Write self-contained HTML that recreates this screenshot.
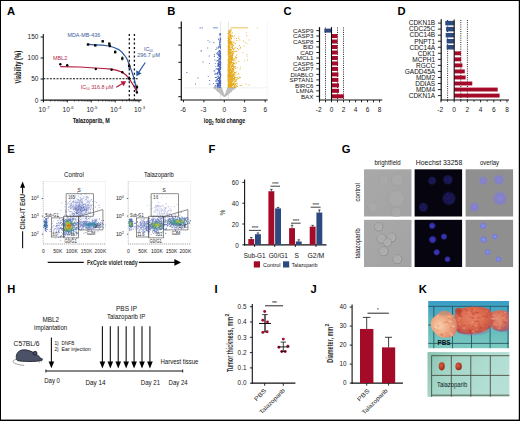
<!DOCTYPE html>
<html><head><meta charset="utf-8"><style>
html,body{margin:0;padding:0;background:#fff;width:520px;height:421px;overflow:hidden}
svg{display:block}
text{font-family:"Liberation Sans",sans-serif}
</style></head><body>
<svg width="520" height="421" viewBox="0 0 520 421" font-family="Liberation Sans, sans-serif">
<rect x="0" y="0" width="520" height="421" fill="#fff"/>
<text x="7" y="15" font-size="11.2" font-weight="bold" fill="#000">A</text>
<text x="167.3" y="15" font-size="11.2" font-weight="bold" fill="#000">B</text>
<text x="283.4" y="15" font-size="11.2" font-weight="bold" fill="#000">C</text>
<text x="397.6" y="15" font-size="11.2" font-weight="bold" fill="#000">D</text>
<text x="7.2" y="152.8" font-size="11.2" font-weight="bold" fill="#000">E</text>
<text x="208.4" y="152.8" font-size="11.2" font-weight="bold" fill="#000">F</text>
<text x="341.8" y="153.3" font-size="11.2" font-weight="bold" fill="#000">G</text>
<text x="7.3" y="293" font-size="11.2" font-weight="bold" fill="#000">H</text>
<text x="214.6" y="292.5" font-size="11.2" font-weight="bold" fill="#000">I</text>
<text x="310.6" y="292.5" font-size="11.2" font-weight="bold" fill="#000">J</text>
<text x="418.7" y="292.7" font-size="11.2" font-weight="bold" fill="#000">K</text>
<line x1="43.3" y1="34" x2="43.3" y2="101.5" stroke="#111" stroke-width="1.1"/>
<line x1="40.6" y1="37" x2="43.3" y2="37" stroke="#111" stroke-width="1"/>
<text x="38.4" y="39.3" font-size="6.5" fill="#1a1a1a" text-anchor="end">150</text>
<line x1="40.6" y1="58" x2="43.3" y2="58" stroke="#111" stroke-width="1"/>
<text x="38.4" y="60.3" font-size="6.5" fill="#1a1a1a" text-anchor="end">100</text>
<line x1="40.6" y1="79" x2="43.3" y2="79" stroke="#111" stroke-width="1"/>
<text x="38.4" y="81.3" font-size="6.5" fill="#1a1a1a" text-anchor="end">50</text>
<line x1="40.6" y1="100.2" x2="43.3" y2="100.2" stroke="#111" stroke-width="1"/>
<text x="38.4" y="102.5" font-size="6.5" fill="#1a1a1a" text-anchor="end">0</text>
<line x1="43.3" y1="100.2" x2="141.5" y2="100.2" stroke="#111" stroke-width="1.2"/>
<line x1="43.5" y1="100.2" x2="43.5" y2="102.4" stroke="#111" stroke-width="0.9"/>
<line x1="50.69461689636915" y1="100.2" x2="50.69461689636915" y2="101.6" stroke="#111" stroke-width="0.6"/>
<line x1="54.90319798779993" y1="100.2" x2="54.90319798779993" y2="101.6" stroke="#111" stroke-width="0.6"/>
<line x1="57.8892337927383" y1="100.2" x2="57.8892337927383" y2="101.6" stroke="#111" stroke-width="0.6"/>
<line x1="60.20538310363085" y1="100.2" x2="60.20538310363085" y2="101.6" stroke="#111" stroke-width="0.6"/>
<line x1="62.09781488416908" y1="100.2" x2="62.09781488416908" y2="101.6" stroke="#111" stroke-width="0.6"/>
<line x1="63.69784315634074" y1="100.2" x2="63.69784315634074" y2="101.6" stroke="#111" stroke-width="0.6"/>
<line x1="65.08385068910745" y1="100.2" x2="65.08385068910745" y2="101.6" stroke="#111" stroke-width="0.6"/>
<line x1="66.30639597559986" y1="100.2" x2="66.30639597559986" y2="101.6" stroke="#111" stroke-width="0.6"/>
<text x="44.1" y="111.9" font-size="6.5" fill="#1a1a1a" text-anchor="middle">10<tspan font-size="4.2" dy="-2.6">-7</tspan></text>
<line x1="67.4" y1="100.2" x2="67.4" y2="102.4" stroke="#111" stroke-width="0.9"/>
<line x1="74.59461689636916" y1="100.2" x2="74.59461689636916" y2="101.6" stroke="#111" stroke-width="0.6"/>
<line x1="78.80319798779993" y1="100.2" x2="78.80319798779993" y2="101.6" stroke="#111" stroke-width="0.6"/>
<line x1="81.7892337927383" y1="100.2" x2="81.7892337927383" y2="101.6" stroke="#111" stroke-width="0.6"/>
<line x1="84.10538310363086" y1="100.2" x2="84.10538310363086" y2="101.6" stroke="#111" stroke-width="0.6"/>
<line x1="85.99781488416909" y1="100.2" x2="85.99781488416909" y2="101.6" stroke="#111" stroke-width="0.6"/>
<line x1="87.59784315634074" y1="100.2" x2="87.59784315634074" y2="101.6" stroke="#111" stroke-width="0.6"/>
<line x1="88.98385068910746" y1="100.2" x2="88.98385068910746" y2="101.6" stroke="#111" stroke-width="0.6"/>
<line x1="90.20639597559986" y1="100.2" x2="90.20639597559986" y2="101.6" stroke="#111" stroke-width="0.6"/>
<text x="68.0" y="111.9" font-size="6.5" fill="#1a1a1a" text-anchor="middle">10<tspan font-size="4.2" dy="-2.6">-6</tspan></text>
<line x1="91.3" y1="100.2" x2="91.3" y2="102.4" stroke="#111" stroke-width="0.9"/>
<line x1="98.49461689636915" y1="100.2" x2="98.49461689636915" y2="101.6" stroke="#111" stroke-width="0.6"/>
<line x1="102.70319798779992" y1="100.2" x2="102.70319798779992" y2="101.6" stroke="#111" stroke-width="0.6"/>
<line x1="105.68923379273829" y1="100.2" x2="105.68923379273829" y2="101.6" stroke="#111" stroke-width="0.6"/>
<line x1="108.00538310363085" y1="100.2" x2="108.00538310363085" y2="101.6" stroke="#111" stroke-width="0.6"/>
<line x1="109.89781488416908" y1="100.2" x2="109.89781488416908" y2="101.6" stroke="#111" stroke-width="0.6"/>
<line x1="111.49784315634074" y1="100.2" x2="111.49784315634074" y2="101.6" stroke="#111" stroke-width="0.6"/>
<line x1="112.88385068910745" y1="100.2" x2="112.88385068910745" y2="101.6" stroke="#111" stroke-width="0.6"/>
<line x1="114.10639597559987" y1="100.2" x2="114.10639597559987" y2="101.6" stroke="#111" stroke-width="0.6"/>
<text x="91.89999999999999" y="111.9" font-size="6.5" fill="#1a1a1a" text-anchor="middle">10<tspan font-size="4.2" dy="-2.6">-5</tspan></text>
<line x1="115.2" y1="100.2" x2="115.2" y2="102.4" stroke="#111" stroke-width="0.9"/>
<line x1="122.39461689636916" y1="100.2" x2="122.39461689636916" y2="101.6" stroke="#111" stroke-width="0.6"/>
<line x1="126.60319798779993" y1="100.2" x2="126.60319798779993" y2="101.6" stroke="#111" stroke-width="0.6"/>
<line x1="129.5892337927383" y1="100.2" x2="129.5892337927383" y2="101.6" stroke="#111" stroke-width="0.6"/>
<line x1="131.90538310363087" y1="100.2" x2="131.90538310363087" y2="101.6" stroke="#111" stroke-width="0.6"/>
<line x1="133.7978148841691" y1="100.2" x2="133.7978148841691" y2="101.6" stroke="#111" stroke-width="0.6"/>
<line x1="135.39784315634074" y1="100.2" x2="135.39784315634074" y2="101.6" stroke="#111" stroke-width="0.6"/>
<line x1="136.78385068910745" y1="100.2" x2="136.78385068910745" y2="101.6" stroke="#111" stroke-width="0.6"/>
<line x1="138.00639597559987" y1="100.2" x2="138.00639597559987" y2="101.6" stroke="#111" stroke-width="0.6"/>
<text x="115.8" y="111.9" font-size="6.5" fill="#1a1a1a" text-anchor="middle">10<tspan font-size="4.2" dy="-2.6">-4</tspan></text>
<line x1="139.0" y1="100.2" x2="139.0" y2="102.4" stroke="#111" stroke-width="0.9"/>
<text x="139.6" y="111.9" font-size="6.5" fill="#1a1a1a" text-anchor="middle">10<tspan font-size="4.2" dy="-2.6">-3</tspan></text>
<text x="72.7" y="122.6" font-size="7.7" fill="#111" font-weight="bold" textLength="37" lengthAdjust="spacingAndGlyphs">Talazoparib, M</text>
<text transform="translate(21.3,67.2) rotate(-90)" x="0" y="0" font-size="8.2" fill="#111" text-anchor="middle" font-weight="bold" textLength="32.6" lengthAdjust="spacingAndGlyphs">Viability (%)</text>
<line x1="129.3" y1="34" x2="129.3" y2="100" stroke="#111" stroke-width="1.3" stroke-dasharray="2 2.3"/>
<line x1="134.4" y1="34" x2="134.4" y2="100" stroke="#111" stroke-width="1.3" stroke-dasharray="2 2.3"/>
<line x1="43.3" y1="78.7" x2="138.4" y2="78.7" stroke="#111" stroke-width="1.1" stroke-dasharray="2 1.3"/>
<polyline fill="none" stroke="#2d5aa0" stroke-width="1.2" points="88,44.3 95,44.8 102,45.2 109.3,46 114,47.5 118.8,49.6 122,52.3 124.7,55.5 127,59 128.9,63.9 130.5,68 131.9,72 133.4,76.3 134.7,81 136,86.8 137.2,92.2"/>
<polyline fill="none" stroke="#b3173a" stroke-width="1.2" points="60.3,66.7 80,67 95,68 103,68.5 111.6,69.2 117,70.4 122.3,72.2 126,75 128.8,78.1 131,81.5 133.5,85.5 136.6,91.6"/>
<rect x="86.80" y="43.30" width="2.40" height="2.40" fill="#000"/>
<rect x="94.10" y="44.20" width="2.40" height="2.40" fill="#000"/>
<rect x="101.50" y="40.10" width="2.40" height="2.40" fill="#000"/>
<rect x="108.10" y="42.50" width="2.40" height="2.40" fill="#000"/>
<rect x="108.60" y="44.80" width="2.40" height="2.40" fill="#000"/>
<rect x="114.00" y="50.80" width="2.40" height="2.40" fill="#000"/>
<rect x="121.10" y="57.30" width="2.40" height="2.40" fill="#000"/>
<rect x="128.00" y="64.80" width="2.40" height="2.40" fill="#000"/>
<rect x="135.70" y="85.90" width="2.40" height="2.40" fill="#000"/>
<circle cx="60.3" cy="64.3" r="1.2" fill="#000"/>
<circle cx="67.2" cy="65.3" r="1.2" fill="#000"/>
<circle cx="95.8" cy="69" r="1.2" fill="#000"/>
<circle cx="111.6" cy="69.8" r="1.2" fill="#000"/>
<circle cx="122.3" cy="72.2" r="1.2" fill="#000"/>
<circle cx="129.2" cy="78.5" r="1.2" fill="#000"/>
<circle cx="136.9" cy="92.5" r="1.2" fill="#000"/>
<line x1="115.2" y1="50.3" x2="115.2" y2="53.8" stroke="#111" stroke-width="0.7"/>
<line x1="122.3" y1="56.2" x2="122.3" y2="60.5" stroke="#111" stroke-width="0.7"/>
<line x1="129.2" y1="62.7" x2="129.2" y2="69.2" stroke="#111" stroke-width="0.7"/>
<line x1="129.2" y1="76" x2="129.2" y2="80.5" stroke="#111" stroke-width="0.7"/>
<line x1="136.9" y1="84.5" x2="136.9" y2="89.5" stroke="#111" stroke-width="0.7"/>
<text x="67.4" y="37.1" font-size="5.6" fill="#3b5a98" textLength="32.8" lengthAdjust="spacingAndGlyphs">MDA-MB-436</text>
<text x="52.9" y="59.6" font-size="5.3" fill="#b52a48" textLength="14.3" lengthAdjust="spacingAndGlyphs">MBL2</text>
<text x="144" y="50.8" font-size="5.3" fill="#3b5a98">IC<tspan font-size="3.2" dy="1.6">50</tspan></text>
<text x="137.3" y="56.8" font-size="5.2" fill="#3b5a98" textLength="22.7" lengthAdjust="spacingAndGlyphs">296.7 μM</text>
<text x="80.8" y="88.8" font-size="5.3" fill="#b52a48">IC<tspan font-size="3.2" dy="1.6">50</tspan><tspan dy="-1.6"> 316.8 μM</tspan></text>
<line x1="145.3" y1="62.5" x2="138.3" y2="72.8" stroke="#2d5aa0" stroke-width="1.2"/>
<polygon points="136.4,76.3 136.2,70.3 141.6,73.5" fill="#2d5aa0"/>
<line x1="116.3" y1="87.3" x2="122.8" y2="83.3" stroke="#b3173a" stroke-width="1.2"/>
<polygon points="126.2,81.2 120.5,81.3 123.6,86.2" fill="#b3173a"/>
<line x1="181.3" y1="21.4" x2="181.3" y2="100.6" stroke="#111" stroke-width="1.2"/>
<line x1="178.3" y1="27.9" x2="181.3" y2="27.9" stroke="#111" stroke-width="1"/>
<line x1="178.3" y1="45.1" x2="181.3" y2="45.1" stroke="#111" stroke-width="1"/>
<line x1="178.3" y1="62.3" x2="181.3" y2="62.3" stroke="#111" stroke-width="1"/>
<line x1="178.3" y1="79.5" x2="181.3" y2="79.5" stroke="#111" stroke-width="1"/>
<line x1="178.3" y1="96.7" x2="181.3" y2="96.7" stroke="#111" stroke-width="1"/>
<line x1="180.7" y1="100" x2="267.7" y2="100" stroke="#111" stroke-width="1.2"/>
<line x1="183.5" y1="100" x2="183.5" y2="102.3" stroke="#111" stroke-width="0.9"/>
<text x="183.1" y="111.8" font-size="6.5" fill="#1a1a1a" text-anchor="middle">-6</text>
<line x1="203.9" y1="100" x2="203.9" y2="102.3" stroke="#111" stroke-width="0.9"/>
<text x="203.5" y="111.8" font-size="6.5" fill="#1a1a1a" text-anchor="middle">-3</text>
<line x1="224.3" y1="100" x2="224.3" y2="102.3" stroke="#111" stroke-width="0.9"/>
<text x="224.3" y="111.8" font-size="6.5" fill="#1a1a1a" text-anchor="middle">0</text>
<line x1="244.6" y1="100" x2="244.6" y2="102.3" stroke="#111" stroke-width="0.9"/>
<text x="244.6" y="111.8" font-size="6.5" fill="#1a1a1a" text-anchor="middle">3</text>
<line x1="265.2" y1="100" x2="265.2" y2="102.3" stroke="#111" stroke-width="0.9"/>
<text x="265.2" y="111.8" font-size="6.5" fill="#1a1a1a" text-anchor="middle">6</text>
<text x="203.7" y="123.4" font-size="7.8" font-weight="bold" fill="#111" textLength="41.5" lengthAdjust="spacingAndGlyphs">log<tspan font-size="5" dy="1.8">2</tspan><tspan dy="-1.8"> fold change</tspan></text>
<line x1="220.7" y1="21.4" x2="220.7" y2="99" stroke="#d4d4d4" stroke-width="0.6"/>
<line x1="228.5" y1="21.4" x2="228.5" y2="99" stroke="#d4d4d4" stroke-width="0.6"/>
<line x1="267.2" y1="21.4" x2="267.2" y2="99" stroke="#eeeeee" stroke-width="0.6"/>
<line x1="183.5" y1="87.8" x2="267" y2="87.8" stroke="#d0d0d0" stroke-width="0.6" stroke-dasharray="0.8 0.8"/>
<path fill="#bdbdbd" d="M221.7 90.0h.9v.9h-.9zM230.0 87.7h.9v.9h-.9zM219.6 92.4h.9v.9h-.9zM218.9 87.4h.9v.9h-.9zM219.2 89.3h.9v.9h-.9zM223.5 94.7h.9v.9h-.9zM221.6 92.9h.9v.9h-.9zM221.9 92.4h.9v.9h-.9zM233.4 87.5h.9v.9h-.9zM227.9 90.9h.9v.9h-.9zM220.6 92.2h.9v.9h-.9zM227.3 92.4h.9v.9h-.9zM216.9 87.9h.9v.9h-.9zM226.5 92.7h.9v.9h-.9zM225.5 94.2h.9v.9h-.9zM221.5 90.4h.9v.9h-.9zM225.4 93.5h.9v.9h-.9zM229.0 91.9h.9v.9h-.9zM216.1 89.7h.9v.9h-.9zM226.0 91.8h.9v.9h-.9zM219.1 88.4h.9v.9h-.9zM224.3 95.9h.9v.9h-.9zM227.3 90.2h.9v.9h-.9zM221.7 92.4h.9v.9h-.9zM223.7 95.7h.9v.9h-.9zM231.6 87.6h.9v.9h-.9zM227.8 89.7h.9v.9h-.9zM218.6 87.3h.9v.9h-.9zM221.8 92.7h.9v.9h-.9zM223.3 94.1h.9v.9h-.9zM230.5 90.7h.9v.9h-.9zM229.3 87.8h.9v.9h-.9zM225.5 95.2h.9v.9h-.9zM227.8 93.5h.9v.9h-.9zM224.0 95.9h.9v.9h-.9zM217.8 88.4h.9v.9h-.9zM227.7 91.5h.9v.9h-.9zM226.8 89.6h.9v.9h-.9zM222.3 92.7h.9v.9h-.9zM222.2 93.4h.9v.9h-.9zM229.6 91.3h.9v.9h-.9zM227.3 90.7h.9v.9h-.9zM222.9 92.9h.9v.9h-.9zM224.0 96.1h.9v.9h-.9zM221.9 90.2h.9v.9h-.9zM227.0 92.3h.9v.9h-.9zM222.8 92.7h.9v.9h-.9zM225.6 92.7h.9v.9h-.9zM224.6 95.8h.9v.9h-.9zM232.6 88.2h.9v.9h-.9zM221.8 91.5h.9v.9h-.9zM228.4 88.0h.9v.9h-.9zM220.0 91.5h.9v.9h-.9zM232.8 88.9h.9v.9h-.9zM218.7 88.4h.9v.9h-.9zM223.0 94.0h.9v.9h-.9zM225.5 93.5h.9v.9h-.9zM223.6 95.4h.9v.9h-.9zM228.4 91.9h.9v.9h-.9zM221.5 92.9h.9v.9h-.9zM222.1 94.5h.9v.9h-.9zM219.4 88.9h.9v.9h-.9zM224.6 96.2h.9v.9h-.9zM230.0 89.4h.9v.9h-.9zM230.2 91.2h.9v.9h-.9zM223.9 95.8h.9v.9h-.9zM229.3 88.0h.9v.9h-.9zM218.5 88.9h.9v.9h-.9zM220.2 91.5h.9v.9h-.9zM224.7 94.7h.9v.9h-.9zM226.2 94.2h.9v.9h-.9zM224.8 95.2h.9v.9h-.9zM234.0 87.8h.9v.9h-.9zM219.5 91.3h.9v.9h-.9zM223.1 93.7h.9v.9h-.9zM230.8 87.3h.9v.9h-.9zM224.9 94.5h.9v.9h-.9zM222.5 93.1h.9v.9h-.9zM215.4 87.2h.9v.9h-.9zM229.4 91.9h.9v.9h-.9zM224.1 96.1h.9v.9h-.9zM220.3 87.3h.9v.9h-.9zM225.3 94.1h.9v.9h-.9zM224.7 94.7h.9v.9h-.9zM225.1 95.3h.9v.9h-.9zM222.1 94.7h.9v.9h-.9zM221.2 91.9h.9v.9h-.9zM222.8 95.1h.9v.9h-.9zM223.3 94.2h.9v.9h-.9zM219.7 91.4h.9v.9h-.9zM228.3 90.0h.9v.9h-.9zM223.4 94.3h.9v.9h-.9zM220.9 89.3h.9v.9h-.9zM220.9 91.7h.9v.9h-.9zM220.2 91.1h.9v.9h-.9zM225.9 93.4h.9v.9h-.9zM226.2 91.7h.9v.9h-.9zM223.0 95.5h.9v.9h-.9zM223.6 94.8h.9v.9h-.9zM221.3 90.7h.9v.9h-.9zM226.4 91.0h.9v.9h-.9zM221.7 94.3h.9v.9h-.9zM224.8 95.7h.9v.9h-.9zM232.7 88.4h.9v.9h-.9zM232.7 89.1h.9v.9h-.9zM223.7 95.2h.9v.9h-.9zM228.7 88.5h.9v.9h-.9zM226.7 90.2h.9v.9h-.9zM228.6 87.9h.9v.9h-.9zM221.6 92.1h.9v.9h-.9zM228.0 90.6h.9v.9h-.9zM222.5 91.8h.9v.9h-.9zM224.2 96.0h.9v.9h-.9zM216.6 89.6h.9v.9h-.9zM226.8 89.5h.9v.9h-.9zM225.5 94.9h.9v.9h-.9zM228.0 90.8h.9v.9h-.9zM223.1 93.5h.9v.9h-.9zM223.4 94.4h.9v.9h-.9zM221.7 89.5h.9v.9h-.9zM223.5 94.4h.9v.9h-.9zM233.2 87.7h.9v.9h-.9zM235.4 87.2h.9v.9h-.9zM223.8 95.6h.9v.9h-.9zM216.5 87.4h.9v.9h-.9zM224.0 96.0h.9v.9h-.9zM227.8 88.9h.9v.9h-.9zM226.0 91.9h.9v.9h-.9zM226.1 91.7h.9v.9h-.9zM221.5 94.4h.9v.9h-.9zM216.0 87.2h.9v.9h-.9zM226.2 91.8h.9v.9h-.9zM232.4 88.0h.9v.9h-.9zM226.4 93.1h.9v.9h-.9zM224.0 96.0h.9v.9h-.9zM224.0 96.1h.9v.9h-.9zM221.3 90.8h.9v.9h-.9zM224.7 94.8h.9v.9h-.9zM226.1 91.0h.9v.9h-.9zM225.3 95.1h.9v.9h-.9zM220.9 92.6h.9v.9h-.9zM226.2 91.3h.9v.9h-.9zM229.0 87.1h.9v.9h-.9zM223.8 96.0h.9v.9h-.9zM214.5 87.4h.9v.9h-.9zM226.3 90.3h.9v.9h-.9zM220.2 87.8h.9v.9h-.9zM217.5 89.3h.9v.9h-.9zM226.7 89.5h.9v.9h-.9zM226.3 92.4h.9v.9h-.9zM221.3 89.8h.9v.9h-.9zM227.1 93.1h.9v.9h-.9zM226.3 94.1h.9v.9h-.9zM217.2 88.4h.9v.9h-.9zM233.1 87.5h.9v.9h-.9zM221.5 93.8h.9v.9h-.9zM223.1 95.4h.9v.9h-.9zM222.8 94.7h.9v.9h-.9zM227.2 87.8h.9v.9h-.9zM224.4 95.9h.9v.9h-.9zM220.9 92.2h.9v.9h-.9zM222.5 91.6h.9v.9h-.9zM222.5 93.9h.9v.9h-.9zM225.3 93.1h.9v.9h-.9zM226.7 89.4h.9v.9h-.9zM217.6 89.2h.9v.9h-.9zM227.4 93.9h.9v.9h-.9zM224.7 94.8h.9v.9h-.9zM222.4 94.1h.9v.9h-.9zM227.5 87.8h.9v.9h-.9zM221.3 93.0h.9v.9h-.9zM227.5 87.2h.9v.9h-.9zM224.1 96.0h.9v.9h-.9zM225.6 93.3h.9v.9h-.9zM221.0 91.3h.9v.9h-.9zM224.4 96.2h.9v.9h-.9zM223.5 96.0h.9v.9h-.9zM226.6 89.7h.9v.9h-.9zM224.0 96.2h.9v.9h-.9zM227.4 87.7h.9v.9h-.9zM224.3 95.8h.9v.9h-.9zM223.0 95.2h.9v.9h-.9zM229.3 91.6h.9v.9h-.9zM227.4 87.3h.9v.9h-.9zM222.4 93.3h.9v.9h-.9zM221.2 90.9h.9v.9h-.9zM224.6 94.8h.9v.9h-.9zM223.6 94.8h.9v.9h-.9zM227.4 93.6h.9v.9h-.9zM226.7 89.4h.9v.9h-.9zM224.4 96.2h.9v.9h-.9zM223.2 95.6h.9v.9h-.9zM226.6 89.6h.9v.9h-.9zM225.5 92.9h.9v.9h-.9zM226.8 91.1h.9v.9h-.9zM222.9 94.3h.9v.9h-.9zM222.6 94.5h.9v.9h-.9zM225.1 93.7h.9v.9h-.9zM228.9 91.2h.9v.9h-.9zM218.7 91.5h.9v.9h-.9zM228.5 88.6h.9v.9h-.9zM230.1 89.8h.9v.9h-.9zM226.6 90.8h.9v.9h-.9zM221.8 92.2h.9v.9h-.9zM225.4 93.0h.9v.9h-.9zM226.7 92.1h.9v.9h-.9zM224.0 96.2h.9v.9h-.9zM222.3 92.1h.9v.9h-.9zM221.9 90.2h.9v.9h-.9zM218.3 90.4h.9v.9h-.9zM225.4 95.2h.9v.9h-.9zM218.9 90.6h.9v.9h-.9zM221.2 90.5h.9v.9h-.9zM227.6 91.6h.9v.9h-.9zM218.9 88.2h.9v.9h-.9zM233.4 87.9h.9v.9h-.9zM227.5 90.7h.9v.9h-.9zM222.3 94.9h.9v.9h-.9zM228.8 88.2h.9v.9h-.9zM223.8 96.0h.9v.9h-.9zM230.7 90.7h.9v.9h-.9zM224.0 96.0h.9v.9h-.9zM221.3 89.1h.9v.9h-.9zM224.9 95.7h.9v.9h-.9zM216.2 87.8h.9v.9h-.9zM223.2 94.2h.9v.9h-.9zM222.5 93.0h.9v.9h-.9zM226.6 92.8h.9v.9h-.9zM223.1 93.5h.9v.9h-.9zM216.5 89.8h.9v.9h-.9zM221.7 90.6h.9v.9h-.9zM228.6 87.1h.9v.9h-.9zM220.8 89.6h.9v.9h-.9zM222.0 91.4h.9v.9h-.9zM229.3 87.3h.9v.9h-.9zM227.8 87.6h.9v.9h-.9zM227.9 87.8h.9v.9h-.9zM223.8 95.6h.9v.9h-.9zM226.8 93.5h.9v.9h-.9zM225.4 93.3h.9v.9h-.9zM222.5 93.8h.9v.9h-.9zM222.2 91.6h.9v.9h-.9zM227.2 89.2h.9v.9h-.9zM217.8 88.1h.9v.9h-.9zM223.4 95.3h.9v.9h-.9zM224.3 95.8h.9v.9h-.9zM221.0 87.6h.9v.9h-.9zM219.4 90.9h.9v.9h-.9zM230.4 90.7h.9v.9h-.9zM220.8 93.8h.9v.9h-.9zM226.7 90.1h.9v.9h-.9zM231.4 87.3h.9v.9h-.9zM226.3 94.8h.9v.9h-.9zM226.9 88.6h.9v.9h-.9zM219.2 87.8h.9v.9h-.9zM228.1 92.2h.9v.9h-.9zM230.2 90.3h.9v.9h-.9zM216.9 87.9h.9v.9h-.9zM217.5 90.5h.9v.9h-.9zM229.8 90.0h.9v.9h-.9zM229.2 87.3h.9v.9h-.9zM220.9 87.4h.9v.9h-.9zM223.5 94.4h.9v.9h-.9zM227.0 93.9h.9v.9h-.9zM221.1 90.4h.9v.9h-.9zM230.2 89.5h.9v.9h-.9zM223.8 95.6h.9v.9h-.9zM228.1 87.3h.9v.9h-.9zM225.9 93.6h.9v.9h-.9zM226.6 94.3h.9v.9h-.9zM219.0 88.3h.9v.9h-.9zM222.3 94.4h.9v.9h-.9zM226.0 92.6h.9v.9h-.9zM219.3 91.3h.9v.9h-.9zM221.6 91.8h.9v.9h-.9zM221.6 89.3h.9v.9h-.9zM220.8 91.5h.9v.9h-.9zM223.6 96.1h.9v.9h-.9zM221.6 89.5h.9v.9h-.9zM230.9 90.9h.9v.9h-.9zM227.1 88.6h.9v.9h-.9zM221.1 92.8h.9v.9h-.9zM225.2 94.2h.9v.9h-.9zM226.3 92.3h.9v.9h-.9zM220.8 88.9h.9v.9h-.9zM220.8 89.2h.9v.9h-.9zM220.7 90.1h.9v.9h-.9zM222.1 91.7h.9v.9h-.9zM219.9 93.1h.9v.9h-.9zM214.3 87.1h.9v.9h-.9zM222.2 94.8h.9v.9h-.9zM223.6 95.1h.9v.9h-.9zM215.1 88.8h.9v.9h-.9zM223.7 95.6h.9v.9h-.9zM221.8 91.2h.9v.9h-.9zM230.3 88.0h.9v.9h-.9zM220.3 89.1h.9v.9h-.9zM213.2 87.5h.9v.9h-.9zM221.1 92.6h.9v.9h-.9zM226.1 94.5h.9v.9h-.9zM225.4 93.3h.9v.9h-.9zM227.2 87.8h.9v.9h-.9zM222.6 92.1h.9v.9h-.9zM222.4 94.4h.9v.9h-.9zM222.9 92.9h.9v.9h-.9zM226.8 90.7h.9v.9h-.9zM222.3 93.2h.9v.9h-.9zM228.7 89.9h.9v.9h-.9zM226.1 90.9h.9v.9h-.9zM226.0 93.0h.9v.9h-.9zM221.5 88.9h.9v.9h-.9zM229.6 90.9h.9v.9h-.9zM222.0 92.4h.9v.9h-.9zM221.2 88.2h.9v.9h-.9zM220.2 92.9h.9v.9h-.9zM219.4 92.3h.9v.9h-.9zM220.4 88.4h.9v.9h-.9zM224.4 95.6h.9v.9h-.9zM221.7 94.0h.9v.9h-.9zM217.5 89.8h.9v.9h-.9zM223.9 96.0h.9v.9h-.9zM221.2 92.6h.9v.9h-.9zM223.3 95.4h.9v.9h-.9zM227.8 92.9h.9v.9h-.9zM225.7 92.7h.9v.9h-.9zM227.4 88.7h.9v.9h-.9zM224.4 95.7h.9v.9h-.9zM220.5 88.2h.9v.9h-.9zM217.9 87.4h.9v.9h-.9zM225.7 93.2h.9v.9h-.9zM226.8 92.6h.9v.9h-.9zM222.5 93.0h.9v.9h-.9zM228.5 91.0h.9v.9h-.9zM222.3 91.7h.9v.9h-.9zM221.8 92.7h.9v.9h-.9zM228.1 91.2h.9v.9h-.9zM225.9 94.7h.9v.9h-.9zM227.4 88.0h.9v.9h-.9zM218.3 90.4h.9v.9h-.9zM227.6 87.4h.9v.9h-.9zM222.7 94.2h.9v.9h-.9zM221.4 94.0h.9v.9h-.9zM220.8 87.3h.9v.9h-.9zM233.2 88.8h.9v.9h-.9zM217.6 89.7h.9v.9h-.9zM221.4 93.4h.9v.9h-.9zM228.7 87.7h.9v.9h-.9zM232.7 88.5h.9v.9h-.9zM224.8 95.4h.9v.9h-.9zM218.8 91.7h.9v.9h-.9zM221.2 92.5h.9v.9h-.9zM221.9 90.0h.9v.9h-.9zM228.6 90.8h.9v.9h-.9zM220.6 93.3h.9v.9h-.9zM223.2 94.3h.9v.9h-.9zM226.0 92.9h.9v.9h-.9zM221.1 92.2h.9v.9h-.9zM228.9 89.4h.9v.9h-.9zM225.5 93.8h.9v.9h-.9zM224.4 96.2h.9v.9h-.9zM221.9 90.1h.9v.9h-.9zM217.2 88.7h.9v.9h-.9zM228.5 89.8h.9v.9h-.9zM228.5 92.9h.9v.9h-.9zM221.7 93.8h.9v.9h-.9zM230.2 88.4h.9v.9h-.9zM221.3 90.9h.9v.9h-.9zM220.6 88.3h.9v.9h-.9zM227.4 87.3h.9v.9h-.9zM219.8 89.8h.9v.9h-.9zM221.5 90.9h.9v.9h-.9zM229.8 88.9h.9v.9h-.9zM221.4 88.5h.9v.9h-.9zM222.4 93.6h.9v.9h-.9zM227.9 92.9h.9v.9h-.9zM221.6 90.7h.9v.9h-.9zM232.9 87.6h.9v.9h-.9zM227.0 92.5h.9v.9h-.9zM216.4 89.3h.9v.9h-.9zM221.0 87.6h.9v.9h-.9zM221.6 89.2h.9v.9h-.9zM217.8 87.2h.9v.9h-.9zM227.5 88.4h.9v.9h-.9zM224.9 94.5h.9v.9h-.9zM230.8 87.6h.9v.9h-.9zM225.1 93.6h.9v.9h-.9zM225.7 93.9h.9v.9h-.9zM233.6 88.7h.9v.9h-.9zM226.7 89.2h.9v.9h-.9zM225.7 95.2h.9v.9h-.9zM225.4 93.6h.9v.9h-.9zM227.7 93.4h.9v.9h-.9zM216.6 89.8h.9v.9h-.9zM218.6 87.8h.9v.9h-.9zM221.1 89.4h.9v.9h-.9zM224.9 95.7h.9v.9h-.9zM220.0 88.8h.9v.9h-.9zM230.2 90.5h.9v.9h-.9zM220.8 91.4h.9v.9h-.9zM223.3 94.9h.9v.9h-.9zM222.2 92.3h.9v.9h-.9zM220.0 90.7h.9v.9h-.9zM221.3 88.4h.9v.9h-.9zM222.7 92.8h.9v.9h-.9zM223.2 93.5h.9v.9h-.9zM221.8 93.4h.9v.9h-.9zM225.0 93.8h.9v.9h-.9zM215.4 88.9h.9v.9h-.9zM225.4 95.1h.9v.9h-.9zM220.6 88.0h.9v.9h-.9zM213.7 87.4h.9v.9h-.9zM225.6 94.6h.9v.9h-.9zM222.3 91.4h.9v.9h-.9zM227.5 89.8h.9v.9h-.9zM228.3 87.2h.9v.9h-.9zM232.3 87.5h.9v.9h-.9zM225.9 94.1h.9v.9h-.9zM222.9 94.9h.9v.9h-.9zM223.5 94.3h.9v.9h-.9zM218.9 90.2h.9v.9h-.9zM227.0 93.6h.9v.9h-.9zM221.4 88.6h.9v.9h-.9zM218.1 89.7h.9v.9h-.9zM230.0 87.1h.9v.9h-.9zM227.2 93.4h.9v.9h-.9zM228.8 92.5h.9v.9h-.9zM222.6 92.4h.9v.9h-.9zM223.9 95.7h.9v.9h-.9zM217.7 88.1h.9v.9h-.9zM218.2 91.6h.9v.9h-.9zM226.0 92.8h.9v.9h-.9zM223.1 95.6h.9v.9h-.9zM228.5 90.9h.9v.9h-.9zM220.8 88.9h.9v.9h-.9zM217.8 90.5h.9v.9h-.9zM224.0 95.7h.9v.9h-.9zM221.1 90.3h.9v.9h-.9zM225.0 95.0h.9v.9h-.9zM228.7 88.6h.9v.9h-.9zM225.7 92.4h.9v.9h-.9zM221.2 93.0h.9v.9h-.9zM217.9 89.5h.9v.9h-.9zM227.5 93.7h.9v.9h-.9zM222.2 92.6h.9v.9h-.9zM221.6 90.1h.9v.9h-.9zM217.9 88.6h.9v.9h-.9zM231.2 90.6h.9v.9h-.9zM222.6 93.8h.9v.9h-.9zM233.4 88.1h.9v.9h-.9zM220.1 88.9h.9v.9h-.9zM233.6 87.2h.9v.9h-.9zM226.1 93.4h.9v.9h-.9zM226.1 91.3h.9v.9h-.9zM228.3 87.1h.9v.9h-.9zM226.3 93.5h.9v.9h-.9zM222.8 94.8h.9v.9h-.9zM226.6 93.3h.9v.9h-.9zM221.7 91.0h.9v.9h-.9zM224.6 95.3h.9v.9h-.9zM226.4 93.6h.9v.9h-.9zM223.2 94.9h.9v.9h-.9zM222.1 92.8h.9v.9h-.9zM223.6 95.3h.9v.9h-.9zM220.5 90.6h.9v.9h-.9zM218.0 87.4h.9v.9h-.9zM220.8 93.6h.9v.9h-.9zM225.8 91.8h.9v.9h-.9zM220.3 92.0h.9v.9h-.9zM227.7 92.9h.9v.9h-.9zM217.6 90.8h.9v.9h-.9zM224.1 96.2h.9v.9h-.9zM222.1 93.8h.9v.9h-.9zM220.4 89.4h.9v.9h-.9zM229.4 87.2h.9v.9h-.9zM227.1 92.8h.9v.9h-.9zM228.2 88.1h.9v.9h-.9zM223.6 95.7h.9v.9h-.9zM224.7 96.2h.9v.9h-.9zM221.3 89.0h.9v.9h-.9zM225.7 94.5h.9v.9h-.9zM221.1 93.0h.9v.9h-.9zM228.9 90.3h.9v.9h-.9zM221.8 91.4h.9v.9h-.9zM222.8 94.2h.9v.9h-.9zM227.8 89.5h.9v.9h-.9zM224.5 96.1h.9v.9h-.9zM232.2 87.1h.9v.9h-.9zM229.0 90.3h.9v.9h-.9zM221.3 91.5h.9v.9h-.9zM225.9 93.1h.9v.9h-.9zM224.6 94.9h.9v.9h-.9zM224.9 94.3h.9v.9h-.9zM223.0 92.9h.9v.9h-.9zM226.8 89.0h.9v.9h-.9zM221.5 89.4h.9v.9h-.9zM224.7 94.9h.9v.9h-.9zM226.6 90.2h.9v.9h-.9zM223.4 94.3h.9v.9h-.9zM227.8 93.2h.9v.9h-.9zM217.8 88.9h.9v.9h-.9zM222.7 93.9h.9v.9h-.9zM222.2 92.2h.9v.9h-.9zM223.1 94.7h.9v.9h-.9zM229.6 91.5h.9v.9h-.9zM221.3 89.3h.9v.9h-.9zM228.0 88.5h.9v.9h-.9zM227.5 93.2h.9v.9h-.9zM217.4 91.0h.9v.9h-.9zM220.1 88.7h.9v.9h-.9zM227.4 87.2h.9v.9h-.9zM224.8 94.5h.9v.9h-.9zM218.7 91.5h.9v.9h-.9zM220.0 89.0h.9v.9h-.9zM230.7 90.2h.9v.9h-.9zM218.3 90.2h.9v.9h-.9zM227.6 89.7h.9v.9h-.9zM228.5 92.1h.9v.9h-.9zM228.0 90.3h.9v.9h-.9zM226.3 91.7h.9v.9h-.9zM223.7 96.0h.9v.9h-.9zM227.2 90.1h.9v.9h-.9zM214.5 88.2h.9v.9h-.9zM224.8 94.3h.9v.9h-.9zM225.7 92.1h.9v.9h-.9zM227.1 88.0h.9v.9h-.9zM227.2 92.6h.9v.9h-.9zM221.3 92.7h.9v.9h-.9zM230.1 89.0h.9v.9h-.9zM222.7 92.8h.9v.9h-.9zM223.4 95.0h.9v.9h-.9zM225.0 95.5h.9v.9h-.9zM224.6 95.1h.9v.9h-.9zM226.0 92.2h.9v.9h-.9zM221.4 88.7h.9v.9h-.9zM219.9 91.0h.9v.9h-.9zM221.0 91.6h.9v.9h-.9zM225.4 94.2h.9v.9h-.9zM226.0 91.2h.9v.9h-.9zM219.3 92.5h.9v.9h-.9zM221.3 91.4h.9v.9h-.9zM218.9 87.8h.9v.9h-.9zM222.1 92.8h.9v.9h-.9zM223.0 93.3h.9v.9h-.9zM226.9 89.1h.9v.9h-.9zM216.2 87.2h.9v.9h-.9zM219.4 91.2h.9v.9h-.9zM218.7 90.4h.9v.9h-.9zM225.1 93.8h.9v.9h-.9zM230.0 91.3h.9v.9h-.9zM223.9 95.5h.9v.9h-.9zM220.9 87.2h.9v.9h-.9zM221.3 90.6h.9v.9h-.9zM223.4 95.9h.9v.9h-.9zM231.6 90.0h.9v.9h-.9zM222.2 91.4h.9v.9h-.9zM228.9 90.4h.9v.9h-.9zM228.9 91.4h.9v.9h-.9zM224.9 95.7h.9v.9h-.9zM226.5 89.7h.9v.9h-.9zM222.8 95.0h.9v.9h-.9zM225.5 94.7h.9v.9h-.9zM219.3 92.4h.9v.9h-.9zM219.2 90.5h.9v.9h-.9zM223.3 94.5h.9v.9h-.9zM221.2 90.0h.9v.9h-.9zM220.2 92.4h.9v.9h-.9zM221.6 89.7h.9v.9h-.9zM231.2 89.6h.9v.9h-.9zM226.4 90.2h.9v.9h-.9zM223.4 94.4h.9v.9h-.9zM226.5 89.9h.9v.9h-.9zM226.3 91.3h.9v.9h-.9zM225.5 92.4h.9v.9h-.9zM226.0 91.3h.9v.9h-.9zM225.1 94.2h.9v.9h-.9zM225.0 95.2h.9v.9h-.9zM222.2 91.7h.9v.9h-.9zM227.2 88.8h.9v.9h-.9zM228.4 90.4h.9v.9h-.9zM221.7 94.2h.9v.9h-.9zM235.0 87.5h.9v.9h-.9zM224.9 95.0h.9v.9h-.9zM223.4 94.3h.9v.9h-.9zM220.1 90.2h.9v.9h-.9zM227.7 87.9h.9v.9h-.9zM225.8 92.4h.9v.9h-.9zM217.8 91.0h.9v.9h-.9zM221.7 89.4h.9v.9h-.9zM224.0 96.2h.9v.9h-.9zM230.3 87.5h.9v.9h-.9zM219.1 91.5h.9v.9h-.9zM223.0 95.0h.9v.9h-.9zM225.2 93.5h.9v.9h-.9zM227.4 92.2h.9v.9h-.9zM232.0 88.7h.9v.9h-.9zM223.3 95.9h.9v.9h-.9zM233.0 88.6h.9v.9h-.9zM218.1 87.6h.9v.9h-.9zM224.7 94.8h.9v.9h-.9zM220.7 87.6h.9v.9h-.9zM224.8 95.7h.9v.9h-.9zM221.8 92.5h.9v.9h-.9zM226.8 91.4h.9v.9h-.9zM219.0 88.2h.9v.9h-.9zM218.9 91.1h.9v.9h-.9zM218.5 91.4h.9v.9h-.9zM216.2 88.5h.9v.9h-.9zM223.2 95.6h.9v.9h-.9zM226.9 94.2h.9v.9h-.9zM225.5 94.8h.9v.9h-.9zM224.0 96.0h.9v.9h-.9zM220.3 91.4h.9v.9h-.9zM218.5 90.1h.9v.9h-.9zM222.2 93.6h.9v.9h-.9zM226.2 91.1h.9v.9h-.9zM226.3 90.8h.9v.9h-.9zM222.2 92.3h.9v.9h-.9zM226.8 89.4h.9v.9h-.9zM223.8 95.4h.9v.9h-.9zM220.7 92.9h.9v.9h-.9zM219.8 92.2h.9v.9h-.9zM227.1 89.4h.9v.9h-.9zM221.7 91.0h.9v.9h-.9zM224.4 95.6h.9v.9h-.9zM226.3 90.9h.9v.9h-.9zM230.4 88.4h.9v.9h-.9zM223.2 94.5h.9v.9h-.9zM229.2 91.1h.9v.9h-.9zM228.6 88.8h.9v.9h-.9zM218.9 89.1h.9v.9h-.9zM223.1 94.8h.9v.9h-.9zM223.0 93.6h.9v.9h-.9zM226.2 94.7h.9v.9h-.9zM223.2 94.1h.9v.9h-.9zM220.9 92.7h.9v.9h-.9zM222.5 92.4h.9v.9h-.9zM222.2 93.4h.9v.9h-.9zM226.5 91.8h.9v.9h-.9zM226.0 94.8h.9v.9h-.9zM228.9 87.9h.9v.9h-.9zM217.6 88.3h.9v.9h-.9zM231.8 88.8h.9v.9h-.9zM216.5 87.4h.9v.9h-.9zM217.2 90.3h.9v.9h-.9zM231.2 88.2h.9v.9h-.9zM221.7 94.2h.9v.9h-.9zM226.6 89.7h.9v.9h-.9zM222.3 91.2h.9v.9h-.9zM213.4 87.2h.9v.9h-.9zM225.6 92.7h.9v.9h-.9zM217.2 89.4h.9v.9h-.9zM213.9 87.2h.9v.9h-.9zM231.2 89.5h.9v.9h-.9zM220.2 91.9h.9v.9h-.9zM221.9 90.3h.9v.9h-.9zM227.6 87.5h.9v.9h-.9zM220.4 92.4h.9v.9h-.9zM219.6 88.2h.9v.9h-.9zM222.3 92.0h.9v.9h-.9zM229.8 88.4h.9v.9h-.9zM231.9 88.6h.9v.9h-.9zM221.9 93.4h.9v.9h-.9zM230.8 90.7h.9v.9h-.9zM226.9 90.2h.9v.9h-.9zM227.1 93.6h.9v.9h-.9zM222.1 94.5h.9v.9h-.9zM226.6 90.0h.9v.9h-.9zM220.1 89.3h.9v.9h-.9zM220.1 90.4h.9v.9h-.9zM221.5 90.0h.9v.9h-.9zM228.3 89.1h.9v.9h-.9zM221.4 94.2h.9v.9h-.9zM221.9 94.5h.9v.9h-.9zM231.2 87.4h.9v.9h-.9zM223.4 95.5h.9v.9h-.9zM222.6 92.8h.9v.9h-.9zM230.4 91.0h.9v.9h-.9zM219.9 88.1h.9v.9h-.9zM230.2 88.2h.9v.9h-.9zM217.9 87.8h.9v.9h-.9zM227.6 91.1h.9v.9h-.9zM224.9 95.5h.9v.9h-.9zM226.8 89.3h.9v.9h-.9zM222.9 94.8h.9v.9h-.9zM225.5 93.0h.9v.9h-.9zM227.7 91.3h.9v.9h-.9zM221.7 91.4h.9v.9h-.9zM226.7 90.1h.9v.9h-.9zM224.4 96.0h.9v.9h-.9zM233.3 88.5h.9v.9h-.9zM226.8 92.2h.9v.9h-.9zM223.7 95.1h.9v.9h-.9zM223.3 94.2h.9v.9h-.9zM222.2 92.6h.9v.9h-.9zM228.9 91.8h.9v.9h-.9zM223.2 93.8h.9v.9h-.9zM223.8 96.2h.9v.9h-.9zM219.6 90.9h.9v.9h-.9zM226.6 93.3h.9v.9h-.9zM225.4 94.6h.9v.9h-.9zM218.8 89.5h.9v.9h-.9zM226.2 90.8h.9v.9h-.9zM225.9 94.1h.9v.9h-.9zM217.1 90.7h.9v.9h-.9zM218.9 90.9h.9v.9h-.9zM227.7 90.5h.9v.9h-.9zM227.6 89.7h.9v.9h-.9zM228.2 90.6h.9v.9h-.9zM225.3 93.0h.9v.9h-.9zM226.9 90.6h.9v.9h-.9zM225.3 94.4h.9v.9h-.9zM225.6 92.4h.9v.9h-.9zM217.6 90.0h.9v.9h-.9zM224.3 95.9h.9v.9h-.9zM222.6 95.2h.9v.9h-.9zM230.4 87.5h.9v.9h-.9zM228.6 89.8h.9v.9h-.9zM229.7 92.0h.9v.9h-.9zM227.1 90.6h.9v.9h-.9zM222.4 91.2h.9v.9h-.9zM225.8 91.9h.9v.9h-.9zM220.4 91.7h.9v.9h-.9zM225.9 95.1h.9v.9h-.9zM229.4 90.7h.9v.9h-.9zM221.4 93.4h.9v.9h-.9zM220.3 88.6h.9v.9h-.9zM223.0 94.6h.9v.9h-.9zM225.7 93.1h.9v.9h-.9zM226.6 94.6h.9v.9h-.9zM221.8 92.9h.9v.9h-.9zM222.2 91.7h.9v.9h-.9zM218.0 87.6h.9v.9h-.9zM216.7 90.3h.9v.9h-.9zM223.2 93.4h.9v.9h-.9zM218.7 89.9h.9v.9h-.9zM223.6 95.5h.9v.9h-.9zM220.9 92.4h.9v.9h-.9zM231.3 88.7h.9v.9h-.9zM222.5 95.1h.9v.9h-.9zM221.9 92.3h.9v.9h-.9zM218.9 88.4h.9v.9h-.9zM227.5 87.3h.9v.9h-.9zM222.7 94.6h.9v.9h-.9zM227.0 93.0h.9v.9h-.9zM227.7 88.4h.9v.9h-.9zM220.6 88.6h.9v.9h-.9zM222.3 95.0h.9v.9h-.9zM227.8 90.3h.9v.9h-.9zM228.1 87.2h.9v.9h-.9zM229.0 92.4h.9v.9h-.9zM220.3 87.6h.9v.9h-.9zM214.1 87.5h.9v.9h-.9zM231.2 89.9h.9v.9h-.9zM229.0 89.8h.9v.9h-.9zM224.2 96.1h.9v.9h-.9zM226.5 93.3h.9v.9h-.9zM231.1 89.9h.9v.9h-.9zM214.6 87.3h.9v.9h-.9zM220.1 88.6h.9v.9h-.9zM234.0 87.1h.9v.9h-.9zM225.7 92.2h.9v.9h-.9zM219.2 90.1h.9v.9h-.9zM218.0 90.9h.9v.9h-.9zM227.7 90.6h.9v.9h-.9zM221.6 89.2h.9v.9h-.9zM221.7 90.2h.9v.9h-.9zM220.3 87.9h.9v.9h-.9zM221.6 92.2h.9v.9h-.9zM228.2 88.5h.9v.9h-.9zM217.2 90.5h.9v.9h-.9zM220.1 89.8h.9v.9h-.9zM219.8 89.1h.9v.9h-.9zM225.3 95.7h.9v.9h-.9zM222.1 92.5h.9v.9h-.9zM220.5 90.8h.9v.9h-.9zM223.7 95.1h.9v.9h-.9zM226.1 92.0h.9v.9h-.9zM216.3 87.3h.9v.9h-.9zM220.6 89.9h.9v.9h-.9zM221.3 93.4h.9v.9h-.9zM219.0 90.0h.9v.9h-.9zM233.8 87.7h.9v.9h-.9zM217.6 88.8h.9v.9h-.9zM226.9 89.1h.9v.9h-.9zM227.9 89.6h.9v.9h-.9zM221.6 94.2h.9v.9h-.9zM224.4 95.7h.9v.9h-.9zM226.7 93.3h.9v.9h-.9zM224.5 95.3h.9v.9h-.9zM231.4 89.3h.9v.9h-.9zM224.5 95.4h.9v.9h-.9zM215.0 88.1h.9v.9h-.9zM223.2 93.6h.9v.9h-.9zM226.3 92.6h.9v.9h-.9zM231.2 88.5h.9v.9h-.9zM219.9 92.8h.9v.9h-.9zM227.8 92.3h.9v.9h-.9zM224.9 95.6h.9v.9h-.9zM224.4 95.7h.9v.9h-.9zM222.8 95.3h.9v.9h-.9zM223.7 96.0h.9v.9h-.9zM225.0 94.3h.9v.9h-.9zM225.0 93.9h.9v.9h-.9zM223.9 96.2h.9v.9h-.9zM226.6 89.6h.9v.9h-.9zM226.8 91.1h.9v.9h-.9zM220.3 91.7h.9v.9h-.9zM220.6 91.0h.9v.9h-.9zM226.1 91.6h.9v.9h-.9zM221.1 88.7h.9v.9h-.9zM222.2 92.1h.9v.9h-.9zM220.2 88.6h.9v.9h-.9zM220.5 88.9h.9v.9h-.9zM226.1 93.4h.9v.9h-.9zM227.3 89.2h.9v.9h-.9zM230.5 88.3h.9v.9h-.9zM217.2 88.3h.9v.9h-.9zM230.4 90.1h.9v.9h-.9zM223.3 94.0h.9v.9h-.9zM226.5 92.6h.9v.9h-.9zM224.7 94.7h.9v.9h-.9zM218.4 87.2h.9v.9h-.9zM220.0 87.6h.9v.9h-.9zM220.1 88.1h.9v.9h-.9zM228.8 88.5h.9v.9h-.9zM219.5 89.7h.9v.9h-.9zM235.3 87.1h.9v.9h-.9zM231.6 87.8h.9v.9h-.9zM229.4 88.1h.9v.9h-.9zM228.8 91.5h.9v.9h-.9zM234.5 87.1h.9v.9h-.9zM228.4 92.8h.9v.9h-.9zM223.0 93.1h.9v.9h-.9zM219.1 87.3h.9v.9h-.9zM221.4 89.8h.9v.9h-.9zM231.4 88.0h.9v.9h-.9zM222.9 93.9h.9v.9h-.9zM222.4 93.0h.9v.9h-.9zM228.3 90.4h.9v.9h-.9zM223.5 94.8h.9v.9h-.9zM230.5 87.4h.9v.9h-.9zM225.6 95.4h.9v.9h-.9zM229.0 90.9h.9v.9h-.9zM221.2 92.6h.9v.9h-.9zM225.3 93.4h.9v.9h-.9zM222.2 92.9h.9v.9h-.9zM223.2 94.9h.9v.9h-.9zM225.0 93.7h.9v.9h-.9zM221.2 88.4h.9v.9h-.9zM226.8 91.8h.9v.9h-.9zM221.1 87.6h.9v.9h-.9zM224.5 95.4h.9v.9h-.9zM233.1 87.1h.9v.9h-.9zM226.7 92.3h.9v.9h-.9zM221.5 91.8h.9v.9h-.9zM223.4 96.0h.9v.9h-.9zM224.8 94.5h.9v.9h-.9zM225.9 92.7h.9v.9h-.9zM223.8 95.8h.9v.9h-.9zM220.8 89.8h.9v.9h-.9zM224.8 94.9h.9v.9h-.9zM225.3 93.4h.9v.9h-.9zM229.1 92.2h.9v.9h-.9zM227.3 91.9h.9v.9h-.9zM221.1 89.5h.9v.9h-.9zM225.7 92.1h.9v.9h-.9zM225.5 93.0h.9v.9h-.9zM225.3 93.6h.9v.9h-.9zM219.0 89.1h.9v.9h-.9zM221.1 93.8h.9v.9h-.9zM225.5 94.9h.9v.9h-.9zM218.9 88.3h.9v.9h-.9zM219.8 92.8h.9v.9h-.9zM219.9 91.3h.9v.9h-.9zM224.3 96.0h.9v.9h-.9zM223.3 94.2h.9v.9h-.9zM222.2 90.8h.9v.9h-.9zM217.4 87.2h.9v.9h-.9zM222.2 91.3h.9v.9h-.9zM218.2 91.0h.9v.9h-.9zM228.9 92.2h.9v.9h-.9zM231.2 88.6h.9v.9h-.9zM222.3 94.4h.9v.9h-.9zM224.8 94.6h.9v.9h-.9zM227.2 91.8h.9v.9h-.9zM225.1 93.7h.9v.9h-.9zM218.4 88.0h.9v.9h-.9zM214.2 87.4h.9v.9h-.9zM227.0 89.4h.9v.9h-.9zM235.2 87.2h.9v.9h-.9zM221.2 88.1h.9v.9h-.9zM220.2 87.7h.9v.9h-.9zM226.1 92.1h.9v.9h-.9zM225.4 94.7h.9v.9h-.9zM227.9 92.0h.9v.9h-.9zM224.3 95.8h.9v.9h-.9zM224.3 96.2h.9v.9h-.9zM222.7 95.1h.9v.9h-.9zM230.7 87.7h.9v.9h-.9zM226.3 94.8h.9v.9h-.9z"/>
<path fill="#3f5cba" d="M218.4 65.2h.9v.9h-.9zM219.1 44.7h.9v.9h-.9zM219.5 62.1h.9v.9h-.9zM215.5 73.5h.9v.9h-.9zM219.9 40.8h.9v.9h-.9zM218.5 68.6h.9v.9h-.9zM218.7 73.0h.9v.9h-.9zM219.9 33.1h.9v.9h-.9zM220.1 73.1h.9v.9h-.9zM220.0 68.2h.9v.9h-.9zM218.8 86.7h.9v.9h-.9zM220.0 76.5h.9v.9h-.9zM220.0 59.1h.9v.9h-.9zM218.3 58.5h.9v.9h-.9zM214.6 72.7h.9v.9h-.9zM219.1 86.8h.9v.9h-.9zM218.7 39.4h.9v.9h-.9zM218.6 83.2h.9v.9h-.9zM217.9 80.0h.9v.9h-.9zM218.3 63.8h.9v.9h-.9zM219.3 59.6h.9v.9h-.9zM214.8 85.2h.9v.9h-.9zM218.9 76.8h.9v.9h-.9zM216.2 78.9h.9v.9h-.9zM219.0 70.3h.9v.9h-.9zM218.7 72.0h.9v.9h-.9zM218.6 65.8h.9v.9h-.9zM219.7 61.8h.9v.9h-.9zM217.6 86.7h.9v.9h-.9zM220.2 57.4h.9v.9h-.9zM219.8 56.9h.9v.9h-.9zM220.0 33.5h.9v.9h-.9zM217.5 83.1h.9v.9h-.9zM219.6 72.7h.9v.9h-.9zM220.0 60.7h.9v.9h-.9zM219.7 60.7h.9v.9h-.9zM220.0 61.0h.9v.9h-.9zM216.8 85.2h.9v.9h-.9zM218.1 62.7h.9v.9h-.9zM219.6 45.1h.9v.9h-.9zM216.3 53.3h.9v.9h-.9zM217.5 63.5h.9v.9h-.9zM215.6 80.0h.9v.9h-.9zM219.3 43.8h.9v.9h-.9zM218.9 69.3h.9v.9h-.9zM219.5 58.2h.9v.9h-.9zM220.0 37.4h.9v.9h-.9zM218.6 77.6h.9v.9h-.9zM219.4 55.9h.9v.9h-.9zM219.4 74.0h.9v.9h-.9zM219.3 82.9h.9v.9h-.9zM219.0 78.7h.9v.9h-.9zM219.4 86.0h.9v.9h-.9zM219.7 81.2h.9v.9h-.9zM219.5 83.3h.9v.9h-.9zM219.6 53.9h.9v.9h-.9zM218.0 71.4h.9v.9h-.9zM217.5 84.7h.9v.9h-.9zM219.1 55.5h.9v.9h-.9zM216.7 75.7h.9v.9h-.9zM219.5 65.8h.9v.9h-.9zM219.4 42.6h.9v.9h-.9zM217.5 66.2h.9v.9h-.9zM219.6 62.4h.9v.9h-.9zM219.0 69.7h.9v.9h-.9zM219.4 68.4h.9v.9h-.9zM219.4 35.4h.9v.9h-.9zM218.7 86.7h.9v.9h-.9zM219.0 42.4h.9v.9h-.9zM218.3 62.1h.9v.9h-.9zM219.9 46.4h.9v.9h-.9zM219.1 79.8h.9v.9h-.9zM219.8 46.1h.9v.9h-.9zM218.1 71.5h.9v.9h-.9zM217.1 73.4h.9v.9h-.9zM219.2 73.9h.9v.9h-.9zM220.3 62.2h.9v.9h-.9zM218.4 77.9h.9v.9h-.9zM220.0 79.7h.9v.9h-.9zM218.1 80.0h.9v.9h-.9zM218.1 86.4h.9v.9h-.9zM219.8 70.9h.9v.9h-.9zM220.1 85.3h.9v.9h-.9zM220.1 68.9h.9v.9h-.9zM220.0 75.9h.9v.9h-.9zM217.6 86.7h.9v.9h-.9zM220.3 56.5h.9v.9h-.9zM219.9 38.3h.9v.9h-.9zM218.8 50.0h.9v.9h-.9zM219.3 72.1h.9v.9h-.9zM218.9 53.5h.9v.9h-.9zM219.8 51.2h.9v.9h-.9zM220.1 53.2h.9v.9h-.9zM216.9 52.1h.9v.9h-.9zM220.2 38.5h.9v.9h-.9zM218.2 86.5h.9v.9h-.9zM219.0 69.9h.9v.9h-.9zM218.5 80.9h.9v.9h-.9zM218.3 68.2h.9v.9h-.9zM217.7 47.8h.9v.9h-.9zM217.0 78.6h.9v.9h-.9zM219.2 65.6h.9v.9h-.9zM217.1 82.9h.9v.9h-.9zM219.4 66.0h.9v.9h-.9zM216.6 84.6h.9v.9h-.9zM219.5 56.2h.9v.9h-.9zM220.2 57.9h.9v.9h-.9zM218.5 56.7h.9v.9h-.9zM220.2 54.9h.9v.9h-.9zM217.7 60.5h.9v.9h-.9zM219.6 86.9h.9v.9h-.9zM218.4 51.7h.9v.9h-.9zM218.9 82.9h.9v.9h-.9zM218.9 79.3h.9v.9h-.9zM219.9 81.6h.9v.9h-.9zM218.4 69.3h.9v.9h-.9zM218.1 83.8h.9v.9h-.9zM217.3 73.8h.9v.9h-.9zM216.4 67.9h.9v.9h-.9zM218.7 55.3h.9v.9h-.9zM217.3 83.5h.9v.9h-.9zM216.7 82.9h.9v.9h-.9zM217.0 53.5h.9v.9h-.9zM215.8 60.5h.9v.9h-.9zM218.4 37.7h.9v.9h-.9zM218.9 34.2h.9v.9h-.9zM217.7 84.4h.9v.9h-.9zM218.6 46.8h.9v.9h-.9zM220.1 52.6h.9v.9h-.9zM219.6 62.6h.9v.9h-.9zM219.1 84.6h.9v.9h-.9zM214.5 86.5h.9v.9h-.9zM220.2 39.2h.9v.9h-.9zM215.9 77.1h.9v.9h-.9zM219.6 39.9h.9v.9h-.9zM220.3 66.9h.9v.9h-.9zM216.3 47.5h.9v.9h-.9zM219.6 61.5h.9v.9h-.9zM218.0 83.4h.9v.9h-.9zM219.2 50.1h.9v.9h-.9zM219.0 66.8h.9v.9h-.9zM218.3 51.1h.9v.9h-.9zM219.1 78.8h.9v.9h-.9zM220.3 63.3h.9v.9h-.9zM218.6 69.8h.9v.9h-.9zM219.6 55.7h.9v.9h-.9zM216.9 86.1h.9v.9h-.9zM218.4 59.1h.9v.9h-.9zM220.3 53.2h.9v.9h-.9zM219.9 40.7h.9v.9h-.9zM218.0 70.3h.9v.9h-.9zM219.0 63.8h.9v.9h-.9zM219.9 34.6h.9v.9h-.9zM217.3 71.7h.9v.9h-.9zM218.0 71.9h.9v.9h-.9zM213.1 83.2h.9v.9h-.9zM218.6 78.1h.9v.9h-.9zM219.3 66.4h.9v.9h-.9zM218.2 86.3h.9v.9h-.9zM219.0 66.0h.9v.9h-.9zM220.2 50.7h.9v.9h-.9zM220.3 74.2h.9v.9h-.9zM220.2 84.9h.9v.9h-.9zM217.6 64.5h.9v.9h-.9zM220.1 57.3h.9v.9h-.9zM219.1 82.3h.9v.9h-.9zM219.6 80.3h.9v.9h-.9zM219.9 77.3h.9v.9h-.9zM218.9 61.9h.9v.9h-.9zM218.5 61.4h.9v.9h-.9zM215.6 86.2h.9v.9h-.9zM220.3 82.6h.9v.9h-.9zM214.3 70.3h.9v.9h-.9zM217.3 56.9h.9v.9h-.9zM220.3 75.0h.9v.9h-.9zM217.9 77.9h.9v.9h-.9zM217.6 65.2h.9v.9h-.9zM219.8 76.7h.9v.9h-.9zM218.7 61.8h.9v.9h-.9zM218.8 56.2h.9v.9h-.9zM219.9 74.3h.9v.9h-.9zM215.6 68.8h.9v.9h-.9zM217.5 78.2h.9v.9h-.9zM220.1 56.1h.9v.9h-.9zM218.7 50.6h.9v.9h-.9zM219.1 70.9h.9v.9h-.9zM219.7 71.0h.9v.9h-.9zM219.3 52.8h.9v.9h-.9zM216.6 81.6h.9v.9h-.9zM219.4 81.8h.9v.9h-.9zM219.8 83.9h.9v.9h-.9zM219.9 64.7h.9v.9h-.9zM219.8 81.9h.9v.9h-.9zM219.6 51.5h.9v.9h-.9zM219.0 57.9h.9v.9h-.9zM218.8 81.0h.9v.9h-.9zM219.4 70.8h.9v.9h-.9zM220.1 65.3h.9v.9h-.9zM219.3 87.0h.9v.9h-.9zM218.1 69.0h.9v.9h-.9zM220.3 80.8h.9v.9h-.9zM218.9 76.8h.9v.9h-.9zM218.9 64.0h.9v.9h-.9zM220.2 64.2h.9v.9h-.9zM220.1 62.7h.9v.9h-.9zM220.1 54.8h.9v.9h-.9zM219.0 72.7h.9v.9h-.9zM219.8 78.1h.9v.9h-.9zM219.7 59.2h.9v.9h-.9zM218.6 82.0h.9v.9h-.9zM218.7 46.2h.9v.9h-.9zM217.9 54.8h.9v.9h-.9zM219.6 66.6h.9v.9h-.9zM217.7 64.2h.9v.9h-.9zM219.4 40.8h.9v.9h-.9zM219.5 77.9h.9v.9h-.9zM218.1 60.3h.9v.9h-.9zM218.2 81.2h.9v.9h-.9zM218.4 63.3h.9v.9h-.9zM217.9 84.8h.9v.9h-.9zM217.9 54.2h.9v.9h-.9zM219.8 64.2h.9v.9h-.9zM219.9 76.3h.9v.9h-.9zM219.5 79.4h.9v.9h-.9zM218.0 64.6h.9v.9h-.9zM219.8 84.1h.9v.9h-.9zM216.9 79.4h.9v.9h-.9zM219.9 68.3h.9v.9h-.9zM219.2 68.3h.9v.9h-.9zM218.4 68.8h.9v.9h-.9zM217.4 83.7h.9v.9h-.9zM219.4 70.4h.9v.9h-.9zM218.2 81.7h.9v.9h-.9zM217.4 65.6h.9v.9h-.9zM219.8 40.3h.9v.9h-.9zM217.3 79.9h.9v.9h-.9zM219.0 79.9h.9v.9h-.9zM219.8 44.8h.9v.9h-.9zM219.4 81.4h.9v.9h-.9zM219.7 79.3h.9v.9h-.9zM217.0 72.5h.9v.9h-.9zM219.0 77.9h.9v.9h-.9zM217.2 69.2h.9v.9h-.9zM219.3 66.4h.9v.9h-.9zM216.0 73.3h.9v.9h-.9zM220.3 83.2h.9v.9h-.9zM219.4 50.9h.9v.9h-.9zM219.5 33.1h.9v.9h-.9zM220.0 86.7h.9v.9h-.9zM218.9 61.3h.9v.9h-.9zM218.9 58.1h.9v.9h-.9zM218.1 70.4h.9v.9h-.9zM218.7 66.5h.9v.9h-.9zM219.6 83.0h.9v.9h-.9zM219.1 80.9h.9v.9h-.9zM219.4 54.8h.9v.9h-.9zM219.3 41.9h.9v.9h-.9zM219.9 68.4h.9v.9h-.9zM218.5 69.5h.9v.9h-.9zM219.1 80.9h.9v.9h-.9zM218.5 54.7h.9v.9h-.9zM219.7 41.8h.9v.9h-.9zM218.5 61.3h.9v.9h-.9zM219.9 72.5h.9v.9h-.9zM219.8 61.8h.9v.9h-.9zM217.1 60.1h.9v.9h-.9zM219.2 77.9h.9v.9h-.9zM217.6 68.0h.9v.9h-.9zM214.9 85.1h.9v.9h-.9zM219.5 42.6h.9v.9h-.9zM219.9 67.1h.9v.9h-.9zM219.7 82.9h.9v.9h-.9zM219.7 44.2h.9v.9h-.9zM219.3 84.7h.9v.9h-.9zM219.5 72.4h.9v.9h-.9zM217.6 76.6h.9v.9h-.9zM219.9 76.6h.9v.9h-.9zM218.6 82.1h.9v.9h-.9zM219.5 50.9h.9v.9h-.9zM219.9 47.1h.9v.9h-.9zM219.7 46.6h.9v.9h-.9zM215.4 66.2h.9v.9h-.9zM220.1 76.0h.9v.9h-.9zM214.9 77.0h.9v.9h-.9zM218.2 51.6h.9v.9h-.9zM219.8 40.5h.9v.9h-.9zM219.8 82.0h.9v.9h-.9zM218.7 73.2h.9v.9h-.9zM219.3 61.6h.9v.9h-.9zM219.7 84.4h.9v.9h-.9zM219.8 61.9h.9v.9h-.9zM219.1 80.9h.9v.9h-.9zM219.8 86.5h.9v.9h-.9zM220.0 64.6h.9v.9h-.9zM219.8 75.4h.9v.9h-.9zM218.7 46.4h.9v.9h-.9zM220.0 68.4h.9v.9h-.9zM217.7 76.8h.9v.9h-.9zM220.0 48.3h.9v.9h-.9zM219.1 84.8h.9v.9h-.9zM217.1 86.9h.9v.9h-.9zM219.5 60.1h.9v.9h-.9zM220.3 63.1h.9v.9h-.9zM217.0 85.0h.9v.9h-.9zM217.8 46.4h.9v.9h-.9zM219.9 73.8h.9v.9h-.9zM219.3 71.6h.9v.9h-.9zM219.8 59.0h.9v.9h-.9zM219.2 83.8h.9v.9h-.9zM218.7 84.8h.9v.9h-.9zM218.2 39.1h.9v.9h-.9zM217.4 62.9h.9v.9h-.9zM219.8 85.4h.9v.9h-.9zM219.8 62.3h.9v.9h-.9zM220.3 67.8h.9v.9h-.9zM217.8 53.3h.9v.9h-.9zM220.1 80.5h.9v.9h-.9zM219.5 72.3h.9v.9h-.9zM218.2 46.6h.9v.9h-.9zM219.0 73.7h.9v.9h-.9zM217.8 68.3h.9v.9h-.9zM220.0 46.8h.9v.9h-.9zM218.2 75.6h.9v.9h-.9zM218.4 63.3h.9v.9h-.9zM219.7 64.4h.9v.9h-.9zM219.6 52.6h.9v.9h-.9zM217.7 85.3h.9v.9h-.9zM215.7 83.2h.9v.9h-.9zM219.8 69.1h.9v.9h-.9zM219.4 83.4h.9v.9h-.9zM209.3 41.5h.9v.9h-.9zM214.8 62.9h.9v.9h-.9zM214.4 59.4h.9v.9h-.9zM209.1 62.9h.9v.9h-.9zM214.0 54.3h.9v.9h-.9zM213.9 56.1h.9v.9h-.9zM213.4 42.0h.9v.9h-.9zM209.2 80.0h.9v.9h-.9zM215.5 81.0h.9v.9h-.9zM209.4 83.7h.9v.9h-.9zM207.8 75.9h.9v.9h-.9zM213.6 70.7h.9v.9h-.9zM214.5 73.8h.9v.9h-.9zM215.5 49.0h.9v.9h-.9zM208.8 55.6h.9v.9h-.9zM200.4 50.4h.9v.9h-.9zM207.6 39.9h.9v.9h-.9zM207.3 47.5h.9v.9h-.9zM186.4 72.0h.9v.9h-.9zM199.5 27.4h.9v.9h-.9zM200.5 27.4h.9v.9h-.9zM202.1 27.4h.9v.9h-.9zM213.1 27.4h.9v.9h-.9zM214.1 27.4h.9v.9h-.9zM215.1 27.4h.9v.9h-.9zM216.1 27.4h.9v.9h-.9zM216.9 27.4h.9v.9h-.9zM201.1 50.5h.9v.9h-.9zM202.6 61.5h.9v.9h-.9zM197.6 77.5h.9v.9h-.9zM195.1 83.5h.9v.9h-.9z"/>
<path fill="#e4ac1e" d="M227.8 78.4h.9v.9h-.9zM228.4 51.8h.9v.9h-.9zM228.4 70.3h.9v.9h-.9zM227.6 71.1h.9v.9h-.9zM228.7 74.4h.9v.9h-.9zM230.6 79.5h.9v.9h-.9zM227.9 63.7h.9v.9h-.9zM227.7 84.7h.9v.9h-.9zM228.6 61.2h.9v.9h-.9zM228.1 51.7h.9v.9h-.9zM228.3 76.2h.9v.9h-.9zM229.0 57.5h.9v.9h-.9zM228.0 44.7h.9v.9h-.9zM229.4 56.8h.9v.9h-.9zM234.5 86.1h.9v.9h-.9zM227.5 64.6h.9v.9h-.9zM228.8 65.5h.9v.9h-.9zM235.3 77.0h.9v.9h-.9zM229.0 72.0h.9v.9h-.9zM232.5 80.9h.9v.9h-.9zM232.4 78.5h.9v.9h-.9zM230.1 57.8h.9v.9h-.9zM231.3 46.3h.9v.9h-.9zM228.6 76.7h.9v.9h-.9zM230.3 44.3h.9v.9h-.9zM235.5 83.3h.9v.9h-.9zM230.7 76.7h.9v.9h-.9zM232.8 69.9h.9v.9h-.9zM230.0 62.4h.9v.9h-.9zM233.4 81.9h.9v.9h-.9zM230.9 55.0h.9v.9h-.9zM228.6 84.9h.9v.9h-.9zM231.7 42.8h.9v.9h-.9zM228.4 52.2h.9v.9h-.9zM227.7 80.6h.9v.9h-.9zM229.6 63.5h.9v.9h-.9zM233.5 51.2h.9v.9h-.9zM227.8 74.1h.9v.9h-.9zM232.3 75.2h.9v.9h-.9zM231.5 78.8h.9v.9h-.9zM233.7 74.0h.9v.9h-.9zM229.5 60.9h.9v.9h-.9zM230.1 40.4h.9v.9h-.9zM232.1 57.3h.9v.9h-.9zM230.6 70.1h.9v.9h-.9zM230.6 30.6h.9v.9h-.9zM229.0 65.1h.9v.9h-.9zM227.6 79.5h.9v.9h-.9zM230.2 61.5h.9v.9h-.9zM229.5 57.0h.9v.9h-.9zM230.6 49.8h.9v.9h-.9zM232.8 71.2h.9v.9h-.9zM229.4 54.6h.9v.9h-.9zM228.9 74.8h.9v.9h-.9zM230.5 62.7h.9v.9h-.9zM231.3 43.2h.9v.9h-.9zM233.8 74.0h.9v.9h-.9zM228.7 47.8h.9v.9h-.9zM230.1 53.4h.9v.9h-.9zM228.1 50.5h.9v.9h-.9zM233.7 82.7h.9v.9h-.9zM231.6 60.2h.9v.9h-.9zM231.2 65.6h.9v.9h-.9zM228.7 86.6h.9v.9h-.9zM228.2 48.2h.9v.9h-.9zM229.2 66.9h.9v.9h-.9zM229.7 29.3h.9v.9h-.9zM234.3 63.3h.9v.9h-.9zM227.5 79.4h.9v.9h-.9zM229.7 41.6h.9v.9h-.9zM230.1 68.1h.9v.9h-.9zM230.2 59.3h.9v.9h-.9zM232.0 84.3h.9v.9h-.9zM229.6 39.4h.9v.9h-.9zM235.6 71.4h.9v.9h-.9zM230.1 58.5h.9v.9h-.9zM229.8 73.1h.9v.9h-.9zM229.8 66.7h.9v.9h-.9zM230.9 73.7h.9v.9h-.9zM229.4 58.6h.9v.9h-.9zM234.5 86.1h.9v.9h-.9zM229.8 74.1h.9v.9h-.9zM232.8 68.3h.9v.9h-.9zM229.5 82.8h.9v.9h-.9zM227.5 76.0h.9v.9h-.9zM228.2 56.5h.9v.9h-.9zM232.6 44.5h.9v.9h-.9zM229.0 45.0h.9v.9h-.9zM228.4 69.7h.9v.9h-.9zM227.9 60.1h.9v.9h-.9zM229.3 76.8h.9v.9h-.9zM229.8 77.5h.9v.9h-.9zM230.4 54.5h.9v.9h-.9zM228.6 86.2h.9v.9h-.9zM229.2 72.5h.9v.9h-.9zM231.8 59.5h.9v.9h-.9zM229.0 85.6h.9v.9h-.9zM231.7 53.7h.9v.9h-.9zM231.8 46.3h.9v.9h-.9zM230.6 78.8h.9v.9h-.9zM229.8 57.7h.9v.9h-.9zM231.0 82.2h.9v.9h-.9zM227.6 46.3h.9v.9h-.9zM229.2 55.7h.9v.9h-.9zM228.1 37.3h.9v.9h-.9zM231.2 85.8h.9v.9h-.9zM228.8 85.6h.9v.9h-.9zM230.6 84.9h.9v.9h-.9zM228.7 48.7h.9v.9h-.9zM229.8 42.2h.9v.9h-.9zM229.6 52.7h.9v.9h-.9zM229.9 85.6h.9v.9h-.9zM229.2 53.1h.9v.9h-.9zM234.1 63.1h.9v.9h-.9zM231.7 80.6h.9v.9h-.9zM231.3 55.9h.9v.9h-.9zM227.6 45.6h.9v.9h-.9zM231.2 68.4h.9v.9h-.9zM227.5 73.5h.9v.9h-.9zM229.9 58.6h.9v.9h-.9zM230.6 83.8h.9v.9h-.9zM228.0 71.7h.9v.9h-.9zM227.6 52.7h.9v.9h-.9zM228.5 80.1h.9v.9h-.9zM232.3 68.8h.9v.9h-.9zM232.8 53.0h.9v.9h-.9zM230.6 51.7h.9v.9h-.9zM229.4 77.1h.9v.9h-.9zM232.9 73.8h.9v.9h-.9zM229.8 42.5h.9v.9h-.9zM232.1 55.4h.9v.9h-.9zM234.6 71.9h.9v.9h-.9zM228.0 74.4h.9v.9h-.9zM231.3 84.7h.9v.9h-.9zM229.4 76.6h.9v.9h-.9zM230.6 79.3h.9v.9h-.9zM229.8 57.8h.9v.9h-.9zM233.6 67.1h.9v.9h-.9zM230.9 66.6h.9v.9h-.9zM232.2 44.2h.9v.9h-.9zM230.3 57.2h.9v.9h-.9zM228.8 65.7h.9v.9h-.9zM229.9 81.2h.9v.9h-.9zM231.0 60.7h.9v.9h-.9zM228.4 69.1h.9v.9h-.9zM234.5 78.6h.9v.9h-.9zM230.7 80.6h.9v.9h-.9zM231.9 77.1h.9v.9h-.9zM233.1 65.6h.9v.9h-.9zM232.1 76.6h.9v.9h-.9zM232.0 79.9h.9v.9h-.9zM231.6 44.0h.9v.9h-.9zM228.9 75.0h.9v.9h-.9zM231.2 53.6h.9v.9h-.9zM230.9 38.6h.9v.9h-.9zM230.7 53.5h.9v.9h-.9zM227.6 49.7h.9v.9h-.9zM229.0 73.7h.9v.9h-.9zM228.7 86.1h.9v.9h-.9zM230.7 74.8h.9v.9h-.9zM228.6 39.1h.9v.9h-.9zM229.0 30.4h.9v.9h-.9zM229.2 71.6h.9v.9h-.9zM228.9 37.9h.9v.9h-.9zM232.9 62.9h.9v.9h-.9zM228.8 35.8h.9v.9h-.9zM229.5 80.2h.9v.9h-.9zM229.0 71.6h.9v.9h-.9zM229.3 57.3h.9v.9h-.9zM230.5 50.0h.9v.9h-.9zM229.3 78.8h.9v.9h-.9zM234.4 79.4h.9v.9h-.9zM233.1 67.4h.9v.9h-.9zM228.2 34.4h.9v.9h-.9zM228.5 65.8h.9v.9h-.9zM228.0 71.7h.9v.9h-.9zM230.6 75.8h.9v.9h-.9zM229.1 66.2h.9v.9h-.9zM228.5 69.8h.9v.9h-.9zM235.4 86.9h.9v.9h-.9zM230.7 79.2h.9v.9h-.9zM228.3 86.5h.9v.9h-.9zM228.7 39.0h.9v.9h-.9zM227.7 63.3h.9v.9h-.9zM228.5 74.0h.9v.9h-.9zM230.6 57.4h.9v.9h-.9zM229.2 48.2h.9v.9h-.9zM228.7 48.5h.9v.9h-.9zM231.3 76.3h.9v.9h-.9zM227.7 48.7h.9v.9h-.9zM228.4 74.9h.9v.9h-.9zM229.9 68.5h.9v.9h-.9zM233.3 74.8h.9v.9h-.9zM228.6 85.0h.9v.9h-.9zM228.5 83.9h.9v.9h-.9zM231.1 38.2h.9v.9h-.9zM232.8 49.3h.9v.9h-.9zM228.0 75.7h.9v.9h-.9zM227.7 71.7h.9v.9h-.9zM229.9 46.4h.9v.9h-.9zM230.4 71.8h.9v.9h-.9zM227.6 36.3h.9v.9h-.9zM230.9 47.2h.9v.9h-.9zM233.8 79.2h.9v.9h-.9zM228.7 63.4h.9v.9h-.9zM228.2 45.7h.9v.9h-.9zM238.5 78.1h.9v.9h-.9zM229.6 83.6h.9v.9h-.9zM234.3 78.8h.9v.9h-.9zM228.1 43.8h.9v.9h-.9zM230.2 42.3h.9v.9h-.9zM228.7 49.5h.9v.9h-.9zM233.5 52.2h.9v.9h-.9zM228.5 75.2h.9v.9h-.9zM231.6 84.9h.9v.9h-.9zM227.9 76.2h.9v.9h-.9zM229.7 59.7h.9v.9h-.9zM232.0 44.2h.9v.9h-.9zM228.1 32.2h.9v.9h-.9zM231.4 59.4h.9v.9h-.9zM229.2 31.6h.9v.9h-.9zM232.4 63.8h.9v.9h-.9zM229.6 36.2h.9v.9h-.9zM229.3 39.0h.9v.9h-.9zM231.8 56.4h.9v.9h-.9zM232.2 64.8h.9v.9h-.9zM228.2 72.1h.9v.9h-.9zM230.2 83.3h.9v.9h-.9zM230.7 59.6h.9v.9h-.9zM229.5 43.6h.9v.9h-.9zM230.9 48.9h.9v.9h-.9zM228.7 72.0h.9v.9h-.9zM228.7 75.1h.9v.9h-.9zM228.0 75.8h.9v.9h-.9zM229.7 37.3h.9v.9h-.9zM228.1 73.6h.9v.9h-.9zM227.8 75.4h.9v.9h-.9zM232.6 74.4h.9v.9h-.9zM231.9 64.2h.9v.9h-.9zM233.3 70.3h.9v.9h-.9zM227.9 38.2h.9v.9h-.9zM235.5 50.7h.9v.9h-.9zM228.8 60.1h.9v.9h-.9zM233.8 71.8h.9v.9h-.9zM229.0 76.6h.9v.9h-.9zM227.9 86.1h.9v.9h-.9zM228.6 79.1h.9v.9h-.9zM227.7 51.5h.9v.9h-.9zM228.6 84.3h.9v.9h-.9zM233.2 84.3h.9v.9h-.9zM229.8 72.1h.9v.9h-.9zM228.4 45.7h.9v.9h-.9zM227.5 33.1h.9v.9h-.9zM229.3 86.0h.9v.9h-.9zM230.0 75.2h.9v.9h-.9zM231.8 46.3h.9v.9h-.9zM232.0 66.2h.9v.9h-.9zM231.6 82.7h.9v.9h-.9zM235.0 83.8h.9v.9h-.9zM227.5 68.3h.9v.9h-.9zM232.7 79.9h.9v.9h-.9zM227.5 70.1h.9v.9h-.9zM228.5 79.0h.9v.9h-.9zM228.0 67.8h.9v.9h-.9zM227.7 54.5h.9v.9h-.9zM227.7 76.7h.9v.9h-.9zM229.4 33.9h.9v.9h-.9zM232.6 63.5h.9v.9h-.9zM228.5 43.3h.9v.9h-.9zM229.2 62.0h.9v.9h-.9zM230.5 42.4h.9v.9h-.9zM228.0 58.0h.9v.9h-.9zM228.0 41.0h.9v.9h-.9zM234.8 81.0h.9v.9h-.9zM228.9 41.7h.9v.9h-.9zM229.8 77.5h.9v.9h-.9zM233.0 45.3h.9v.9h-.9zM233.8 77.7h.9v.9h-.9zM228.4 31.2h.9v.9h-.9zM228.2 74.4h.9v.9h-.9zM231.2 70.3h.9v.9h-.9zM227.9 60.9h.9v.9h-.9zM232.0 70.8h.9v.9h-.9zM233.9 76.2h.9v.9h-.9zM233.5 78.9h.9v.9h-.9zM231.0 75.5h.9v.9h-.9zM229.3 34.7h.9v.9h-.9zM233.0 62.1h.9v.9h-.9zM231.4 82.2h.9v.9h-.9zM234.3 62.7h.9v.9h-.9zM227.5 75.1h.9v.9h-.9zM230.0 57.8h.9v.9h-.9zM230.1 56.4h.9v.9h-.9zM229.9 86.3h.9v.9h-.9zM232.9 72.8h.9v.9h-.9zM230.1 80.6h.9v.9h-.9zM227.5 86.8h.9v.9h-.9zM229.7 52.1h.9v.9h-.9zM229.7 61.2h.9v.9h-.9zM227.8 82.6h.9v.9h-.9zM230.6 83.9h.9v.9h-.9zM233.0 78.0h.9v.9h-.9zM228.8 82.7h.9v.9h-.9zM230.4 41.9h.9v.9h-.9zM229.5 80.1h.9v.9h-.9zM231.4 58.8h.9v.9h-.9zM229.4 67.4h.9v.9h-.9zM227.9 67.1h.9v.9h-.9zM235.5 72.6h.9v.9h-.9zM229.2 60.9h.9v.9h-.9zM231.2 83.7h.9v.9h-.9zM233.3 40.7h.9v.9h-.9zM228.8 49.7h.9v.9h-.9zM232.0 32.4h.9v.9h-.9zM229.3 52.7h.9v.9h-.9zM235.3 47.3h.9v.9h-.9zM229.3 62.5h.9v.9h-.9zM232.6 76.8h.9v.9h-.9zM227.5 77.1h.9v.9h-.9zM229.1 34.4h.9v.9h-.9zM228.2 74.4h.9v.9h-.9zM230.4 85.7h.9v.9h-.9zM231.7 72.3h.9v.9h-.9zM230.2 70.2h.9v.9h-.9zM227.9 74.6h.9v.9h-.9zM228.3 38.6h.9v.9h-.9zM228.2 32.5h.9v.9h-.9zM228.5 42.6h.9v.9h-.9zM232.3 65.3h.9v.9h-.9zM228.3 53.5h.9v.9h-.9zM228.2 77.8h.9v.9h-.9zM228.7 55.2h.9v.9h-.9zM228.7 61.0h.9v.9h-.9zM231.1 76.0h.9v.9h-.9zM229.5 41.1h.9v.9h-.9zM228.9 80.4h.9v.9h-.9zM228.2 34.7h.9v.9h-.9zM229.8 81.3h.9v.9h-.9zM228.9 79.2h.9v.9h-.9zM228.9 31.7h.9v.9h-.9zM228.7 48.2h.9v.9h-.9zM228.6 73.0h.9v.9h-.9zM228.6 69.7h.9v.9h-.9zM228.8 45.0h.9v.9h-.9zM229.8 41.3h.9v.9h-.9zM227.8 72.7h.9v.9h-.9zM227.7 68.9h.9v.9h-.9zM228.2 32.5h.9v.9h-.9zM234.1 81.2h.9v.9h-.9zM233.1 58.6h.9v.9h-.9zM231.6 75.8h.9v.9h-.9zM231.2 52.2h.9v.9h-.9zM228.9 58.7h.9v.9h-.9zM227.6 52.0h.9v.9h-.9zM228.3 78.9h.9v.9h-.9zM231.0 77.6h.9v.9h-.9zM228.1 50.4h.9v.9h-.9zM229.5 59.7h.9v.9h-.9zM229.6 58.7h.9v.9h-.9zM230.8 81.9h.9v.9h-.9zM229.7 37.0h.9v.9h-.9zM232.0 51.1h.9v.9h-.9zM228.5 34.6h.9v.9h-.9zM228.0 63.6h.9v.9h-.9zM228.9 75.3h.9v.9h-.9zM228.3 64.6h.9v.9h-.9zM227.8 47.1h.9v.9h-.9zM230.1 43.0h.9v.9h-.9zM229.1 38.7h.9v.9h-.9zM230.8 84.6h.9v.9h-.9zM229.6 68.2h.9v.9h-.9zM228.6 76.7h.9v.9h-.9zM233.4 68.6h.9v.9h-.9zM234.6 81.4h.9v.9h-.9zM230.3 42.4h.9v.9h-.9zM228.6 51.4h.9v.9h-.9zM228.6 46.9h.9v.9h-.9zM228.7 40.1h.9v.9h-.9zM230.3 53.0h.9v.9h-.9zM229.3 76.1h.9v.9h-.9zM229.4 39.3h.9v.9h-.9zM228.1 49.2h.9v.9h-.9zM228.6 73.1h.9v.9h-.9zM229.0 86.4h.9v.9h-.9zM227.7 64.7h.9v.9h-.9zM227.9 72.7h.9v.9h-.9zM231.1 66.3h.9v.9h-.9zM228.1 76.5h.9v.9h-.9zM227.8 67.4h.9v.9h-.9zM231.5 70.5h.9v.9h-.9zM231.3 72.6h.9v.9h-.9zM233.1 84.9h.9v.9h-.9zM229.6 76.5h.9v.9h-.9zM230.3 83.2h.9v.9h-.9zM228.0 47.7h.9v.9h-.9zM232.6 83.2h.9v.9h-.9zM227.6 40.0h.9v.9h-.9zM228.3 62.6h.9v.9h-.9zM229.0 44.7h.9v.9h-.9zM232.7 69.5h.9v.9h-.9zM232.3 84.7h.9v.9h-.9zM229.3 32.2h.9v.9h-.9zM227.9 85.0h.9v.9h-.9zM231.2 66.2h.9v.9h-.9zM239.6 85.0h.9v.9h-.9zM228.0 71.3h.9v.9h-.9zM228.4 50.0h.9v.9h-.9zM229.8 87.0h.9v.9h-.9zM228.7 63.4h.9v.9h-.9zM234.9 56.3h.9v.9h-.9zM230.0 60.9h.9v.9h-.9zM230.1 33.7h.9v.9h-.9zM230.4 59.2h.9v.9h-.9zM230.7 29.2h.9v.9h-.9zM227.6 70.7h.9v.9h-.9zM231.2 68.5h.9v.9h-.9zM229.2 75.3h.9v.9h-.9zM228.9 43.2h.9v.9h-.9zM228.7 85.5h.9v.9h-.9zM228.9 66.7h.9v.9h-.9zM228.3 69.5h.9v.9h-.9zM228.1 51.1h.9v.9h-.9zM229.9 46.7h.9v.9h-.9zM229.2 61.0h.9v.9h-.9zM231.5 82.6h.9v.9h-.9zM234.1 85.4h.9v.9h-.9zM230.2 53.2h.9v.9h-.9zM228.3 37.1h.9v.9h-.9zM228.0 83.7h.9v.9h-.9zM227.8 54.4h.9v.9h-.9zM233.2 54.4h.9v.9h-.9zM228.8 61.6h.9v.9h-.9zM230.9 67.0h.9v.9h-.9zM232.6 72.7h.9v.9h-.9zM229.3 66.2h.9v.9h-.9zM229.2 72.9h.9v.9h-.9zM229.7 69.7h.9v.9h-.9zM235.5 85.6h.9v.9h-.9zM232.5 48.4h.9v.9h-.9zM230.8 68.9h.9v.9h-.9zM228.2 47.6h.9v.9h-.9zM229.4 51.2h.9v.9h-.9zM232.0 58.7h.9v.9h-.9zM228.0 39.2h.9v.9h-.9zM230.4 76.6h.9v.9h-.9zM230.3 73.6h.9v.9h-.9zM231.7 79.0h.9v.9h-.9zM227.7 73.8h.9v.9h-.9zM228.8 75.2h.9v.9h-.9zM229.4 85.4h.9v.9h-.9zM227.9 78.4h.9v.9h-.9zM231.6 85.4h.9v.9h-.9zM233.3 49.4h.9v.9h-.9zM232.8 83.1h.9v.9h-.9zM227.7 51.0h.9v.9h-.9zM230.8 73.2h.9v.9h-.9zM229.3 77.6h.9v.9h-.9zM228.8 49.9h.9v.9h-.9zM228.9 53.0h.9v.9h-.9zM227.8 60.9h.9v.9h-.9zM231.1 61.6h.9v.9h-.9zM229.9 84.8h.9v.9h-.9zM230.7 69.2h.9v.9h-.9zM231.3 62.5h.9v.9h-.9zM227.9 47.2h.9v.9h-.9zM227.5 73.7h.9v.9h-.9zM232.0 46.2h.9v.9h-.9zM234.3 77.6h.9v.9h-.9zM230.8 80.5h.9v.9h-.9zM231.4 75.0h.9v.9h-.9zM229.7 85.7h.9v.9h-.9zM232.1 55.1h.9v.9h-.9zM229.1 52.4h.9v.9h-.9zM232.1 81.1h.9v.9h-.9zM229.6 82.1h.9v.9h-.9zM228.2 32.6h.9v.9h-.9zM227.9 67.3h.9v.9h-.9zM229.3 38.9h.9v.9h-.9zM228.9 30.7h.9v.9h-.9zM230.3 30.5h.9v.9h-.9zM227.9 50.8h.9v.9h-.9zM233.7 86.6h.9v.9h-.9zM231.3 33.2h.9v.9h-.9zM233.5 85.9h.9v.9h-.9zM229.0 45.3h.9v.9h-.9zM230.5 56.2h.9v.9h-.9zM229.8 61.4h.9v.9h-.9zM227.7 37.4h.9v.9h-.9zM228.0 40.2h.9v.9h-.9zM228.7 71.4h.9v.9h-.9zM228.0 74.6h.9v.9h-.9zM233.8 76.0h.9v.9h-.9zM229.4 57.4h.9v.9h-.9zM227.6 84.3h.9v.9h-.9zM229.3 68.5h.9v.9h-.9zM228.1 74.5h.9v.9h-.9zM227.9 59.8h.9v.9h-.9zM230.1 78.9h.9v.9h-.9zM231.6 79.1h.9v.9h-.9zM229.4 48.3h.9v.9h-.9zM229.6 75.1h.9v.9h-.9zM232.1 50.9h.9v.9h-.9zM229.1 41.0h.9v.9h-.9zM230.3 44.6h.9v.9h-.9zM228.6 48.4h.9v.9h-.9zM228.3 71.9h.9v.9h-.9zM227.6 51.5h.9v.9h-.9zM230.9 67.2h.9v.9h-.9zM233.1 75.8h.9v.9h-.9zM228.3 50.2h.9v.9h-.9zM230.3 54.5h.9v.9h-.9zM231.5 71.0h.9v.9h-.9zM228.4 83.2h.9v.9h-.9zM230.4 73.1h.9v.9h-.9zM228.6 52.7h.9v.9h-.9zM229.7 77.8h.9v.9h-.9zM229.4 80.2h.9v.9h-.9zM236.6 78.8h.9v.9h-.9zM229.3 55.6h.9v.9h-.9zM230.8 37.5h.9v.9h-.9zM228.4 70.7h.9v.9h-.9zM228.0 66.3h.9v.9h-.9zM232.3 45.5h.9v.9h-.9zM230.2 63.7h.9v.9h-.9zM229.8 48.7h.9v.9h-.9zM230.1 66.6h.9v.9h-.9zM228.2 58.6h.9v.9h-.9zM231.9 78.0h.9v.9h-.9zM229.7 42.1h.9v.9h-.9zM228.8 64.8h.9v.9h-.9zM228.4 52.2h.9v.9h-.9zM229.3 56.1h.9v.9h-.9zM228.7 64.5h.9v.9h-.9zM232.5 59.0h.9v.9h-.9zM234.1 62.9h.9v.9h-.9zM231.0 71.2h.9v.9h-.9zM230.8 42.0h.9v.9h-.9zM228.6 53.8h.9v.9h-.9zM232.3 35.5h.9v.9h-.9zM228.1 43.9h.9v.9h-.9zM229.4 63.9h.9v.9h-.9zM228.8 38.8h.9v.9h-.9zM228.0 77.0h.9v.9h-.9zM230.0 40.3h.9v.9h-.9zM234.0 60.2h.9v.9h-.9zM230.7 37.0h.9v.9h-.9zM227.6 54.3h.9v.9h-.9zM228.8 42.1h.9v.9h-.9zM228.9 39.0h.9v.9h-.9zM231.4 80.4h.9v.9h-.9zM229.5 46.8h.9v.9h-.9zM232.2 61.9h.9v.9h-.9zM229.0 57.2h.9v.9h-.9zM229.5 86.0h.9v.9h-.9zM227.7 42.9h.9v.9h-.9zM233.8 82.8h.9v.9h-.9zM237.0 83.3h.9v.9h-.9zM228.9 70.5h.9v.9h-.9zM231.9 54.4h.9v.9h-.9zM228.7 76.2h.9v.9h-.9zM229.7 43.9h.9v.9h-.9zM233.3 42.1h.9v.9h-.9zM228.9 79.6h.9v.9h-.9zM229.3 52.4h.9v.9h-.9zM229.3 64.1h.9v.9h-.9zM227.6 81.3h.9v.9h-.9zM229.7 56.3h.9v.9h-.9zM231.8 57.4h.9v.9h-.9zM231.8 48.1h.9v.9h-.9zM230.9 81.6h.9v.9h-.9zM233.2 69.2h.9v.9h-.9zM227.8 70.6h.9v.9h-.9zM230.7 83.1h.9v.9h-.9zM228.5 81.0h.9v.9h-.9zM227.8 79.8h.9v.9h-.9zM230.3 59.2h.9v.9h-.9zM228.5 58.0h.9v.9h-.9zM228.4 50.6h.9v.9h-.9zM232.1 83.5h.9v.9h-.9zM230.4 82.6h.9v.9h-.9zM227.7 77.2h.9v.9h-.9zM235.8 79.2h.9v.9h-.9zM228.4 86.7h.9v.9h-.9zM233.7 79.6h.9v.9h-.9zM229.0 52.3h.9v.9h-.9zM230.5 80.7h.9v.9h-.9zM229.7 44.2h.9v.9h-.9zM228.3 79.9h.9v.9h-.9zM230.7 57.6h.9v.9h-.9zM233.6 82.3h.9v.9h-.9zM231.3 44.6h.9v.9h-.9zM229.7 73.8h.9v.9h-.9zM234.2 72.7h.9v.9h-.9zM229.5 67.9h.9v.9h-.9zM230.4 63.4h.9v.9h-.9zM232.9 78.3h.9v.9h-.9zM228.2 81.9h.9v.9h-.9zM229.9 52.0h.9v.9h-.9zM227.7 41.6h.9v.9h-.9zM228.2 78.9h.9v.9h-.9zM228.4 50.6h.9v.9h-.9zM228.0 76.5h.9v.9h-.9zM230.1 48.8h.9v.9h-.9zM228.3 79.1h.9v.9h-.9zM229.5 85.3h.9v.9h-.9zM232.5 82.9h.9v.9h-.9zM231.7 64.1h.9v.9h-.9zM230.3 55.7h.9v.9h-.9zM229.1 82.1h.9v.9h-.9zM228.2 69.7h.9v.9h-.9zM231.8 80.2h.9v.9h-.9zM227.9 61.4h.9v.9h-.9zM228.8 82.3h.9v.9h-.9zM229.2 58.5h.9v.9h-.9zM232.0 58.6h.9v.9h-.9zM228.4 43.5h.9v.9h-.9zM232.5 83.7h.9v.9h-.9zM228.4 62.2h.9v.9h-.9zM228.9 75.5h.9v.9h-.9zM228.1 66.7h.9v.9h-.9zM228.3 79.9h.9v.9h-.9zM230.0 50.3h.9v.9h-.9zM228.3 76.7h.9v.9h-.9zM230.0 82.4h.9v.9h-.9zM231.0 86.8h.9v.9h-.9zM228.9 75.2h.9v.9h-.9zM228.4 84.3h.9v.9h-.9zM229.8 56.7h.9v.9h-.9zM229.2 76.2h.9v.9h-.9zM231.2 65.6h.9v.9h-.9zM233.0 73.4h.9v.9h-.9zM235.3 87.0h.9v.9h-.9zM228.1 68.5h.9v.9h-.9zM229.8 83.5h.9v.9h-.9zM227.9 68.1h.9v.9h-.9zM233.5 58.5h.9v.9h-.9zM227.7 84.1h.9v.9h-.9zM228.1 65.7h.9v.9h-.9zM235.2 83.1h.9v.9h-.9zM232.2 66.1h.9v.9h-.9zM229.5 84.4h.9v.9h-.9zM228.2 71.7h.9v.9h-.9zM231.9 79.2h.9v.9h-.9zM229.2 52.6h.9v.9h-.9zM230.5 53.6h.9v.9h-.9zM229.3 64.0h.9v.9h-.9zM229.7 40.9h.9v.9h-.9zM227.6 75.5h.9v.9h-.9zM227.7 76.9h.9v.9h-.9zM230.0 66.4h.9v.9h-.9zM232.0 47.2h.9v.9h-.9zM231.0 49.0h.9v.9h-.9zM228.5 69.6h.9v.9h-.9zM233.3 75.3h.9v.9h-.9zM228.4 75.2h.9v.9h-.9zM234.8 84.1h.9v.9h-.9zM229.8 37.2h.9v.9h-.9zM228.3 40.4h.9v.9h-.9zM228.5 38.9h.9v.9h-.9zM231.1 44.8h.9v.9h-.9zM234.6 63.6h.9v.9h-.9zM235.4 57.1h.9v.9h-.9zM227.5 77.6h.9v.9h-.9zM229.2 46.2h.9v.9h-.9zM229.4 61.1h.9v.9h-.9zM228.9 46.3h.9v.9h-.9zM229.0 50.1h.9v.9h-.9zM228.4 55.9h.9v.9h-.9zM229.0 65.8h.9v.9h-.9zM230.8 62.6h.9v.9h-.9zM237.0 86.0h.9v.9h-.9zM228.1 64.2h.9v.9h-.9zM228.7 48.8h.9v.9h-.9zM228.3 46.8h.9v.9h-.9zM229.3 39.2h.9v.9h-.9zM235.2 60.7h.9v.9h-.9zM229.9 58.1h.9v.9h-.9zM229.0 74.4h.9v.9h-.9zM231.0 60.1h.9v.9h-.9zM233.0 69.0h.9v.9h-.9zM229.4 31.1h.9v.9h-.9zM231.4 58.1h.9v.9h-.9zM230.5 71.7h.9v.9h-.9zM229.0 62.2h.9v.9h-.9zM231.5 54.9h.9v.9h-.9zM229.2 76.3h.9v.9h-.9zM229.7 85.1h.9v.9h-.9zM230.3 81.2h.9v.9h-.9zM232.2 78.7h.9v.9h-.9zM229.9 57.3h.9v.9h-.9zM231.2 84.9h.9v.9h-.9zM228.3 47.7h.9v.9h-.9zM231.0 42.8h.9v.9h-.9zM229.8 34.2h.9v.9h-.9zM230.9 56.4h.9v.9h-.9zM227.9 58.6h.9v.9h-.9zM230.2 82.9h.9v.9h-.9zM231.3 84.3h.9v.9h-.9zM230.6 72.1h.9v.9h-.9zM227.8 59.9h.9v.9h-.9zM228.0 70.7h.9v.9h-.9zM229.8 59.0h.9v.9h-.9zM231.9 59.9h.9v.9h-.9zM233.0 67.5h.9v.9h-.9zM230.1 53.6h.9v.9h-.9zM231.6 46.2h.9v.9h-.9zM229.8 74.3h.9v.9h-.9zM227.7 37.9h.9v.9h-.9zM229.1 79.3h.9v.9h-.9zM228.8 37.7h.9v.9h-.9zM227.9 52.9h.9v.9h-.9zM233.6 83.5h.9v.9h-.9zM235.9 85.0h.9v.9h-.9zM229.2 40.7h.9v.9h-.9zM229.8 84.1h.9v.9h-.9zM228.4 76.8h.9v.9h-.9zM228.7 81.4h.9v.9h-.9zM228.6 82.0h.9v.9h-.9zM235.7 77.1h.9v.9h-.9zM231.0 35.6h.9v.9h-.9zM227.8 37.5h.9v.9h-.9zM228.0 75.1h.9v.9h-.9zM229.0 71.7h.9v.9h-.9zM228.5 47.6h.9v.9h-.9zM231.7 70.7h.9v.9h-.9zM234.5 58.4h.9v.9h-.9zM231.1 86.2h.9v.9h-.9zM228.6 52.3h.9v.9h-.9zM236.3 51.0h.9v.9h-.9zM229.3 75.0h.9v.9h-.9zM228.1 47.2h.9v.9h-.9zM229.0 57.9h.9v.9h-.9zM231.6 76.4h.9v.9h-.9zM229.0 73.9h.9v.9h-.9zM231.1 35.1h.9v.9h-.9zM229.7 69.2h.9v.9h-.9zM230.6 63.2h.9v.9h-.9zM230.2 57.1h.9v.9h-.9zM233.2 60.3h.9v.9h-.9zM230.1 83.7h.9v.9h-.9zM228.8 68.5h.9v.9h-.9zM228.9 59.7h.9v.9h-.9zM233.9 74.4h.9v.9h-.9zM227.6 78.4h.9v.9h-.9zM233.3 66.3h.9v.9h-.9zM227.6 61.3h.9v.9h-.9zM232.6 73.4h.9v.9h-.9zM229.6 61.0h.9v.9h-.9zM236.2 85.5h.9v.9h-.9zM229.6 71.0h.9v.9h-.9zM229.1 56.0h.9v.9h-.9zM229.6 83.3h.9v.9h-.9zM229.1 78.7h.9v.9h-.9zM234.6 86.7h.9v.9h-.9zM229.9 74.3h.9v.9h-.9zM231.8 52.8h.9v.9h-.9zM231.2 70.8h.9v.9h-.9zM232.8 65.0h.9v.9h-.9zM228.5 53.6h.9v.9h-.9zM228.2 84.3h.9v.9h-.9zM231.1 77.2h.9v.9h-.9zM232.1 69.1h.9v.9h-.9zM231.0 83.4h.9v.9h-.9zM229.6 84.4h.9v.9h-.9zM227.6 40.5h.9v.9h-.9zM228.8 53.7h.9v.9h-.9zM229.3 42.7h.9v.9h-.9zM230.3 75.9h.9v.9h-.9zM228.0 52.5h.9v.9h-.9zM230.9 41.3h.9v.9h-.9zM227.8 65.3h.9v.9h-.9zM229.9 72.8h.9v.9h-.9zM231.9 53.7h.9v.9h-.9zM233.9 84.8h.9v.9h-.9zM232.1 87.0h.9v.9h-.9zM229.6 79.4h.9v.9h-.9zM234.5 77.3h.9v.9h-.9zM229.1 60.6h.9v.9h-.9zM229.4 85.1h.9v.9h-.9zM227.8 76.9h.9v.9h-.9zM227.8 45.1h.9v.9h-.9zM228.6 86.6h.9v.9h-.9zM227.6 67.6h.9v.9h-.9zM229.3 72.0h.9v.9h-.9zM227.5 59.3h.9v.9h-.9zM231.5 35.0h.9v.9h-.9zM232.8 64.5h.9v.9h-.9zM231.4 82.8h.9v.9h-.9zM229.9 35.2h.9v.9h-.9zM228.3 75.6h.9v.9h-.9zM232.1 76.0h.9v.9h-.9zM232.6 47.9h.9v.9h-.9zM228.0 44.4h.9v.9h-.9zM228.7 47.9h.9v.9h-.9zM228.5 65.6h.9v.9h-.9zM229.5 84.3h.9v.9h-.9zM228.0 64.3h.9v.9h-.9zM230.3 83.6h.9v.9h-.9zM230.6 50.3h.9v.9h-.9zM230.5 85.9h.9v.9h-.9zM230.5 77.8h.9v.9h-.9zM230.9 81.3h.9v.9h-.9zM233.2 62.8h.9v.9h-.9zM232.2 79.3h.9v.9h-.9zM227.5 74.0h.9v.9h-.9zM229.8 63.8h.9v.9h-.9zM235.7 80.0h.9v.9h-.9zM228.8 46.2h.9v.9h-.9zM230.9 74.1h.9v.9h-.9zM228.3 46.7h.9v.9h-.9zM230.4 44.5h.9v.9h-.9zM228.1 53.2h.9v.9h-.9zM232.3 58.8h.9v.9h-.9zM229.4 69.8h.9v.9h-.9zM229.3 46.3h.9v.9h-.9zM229.9 85.5h.9v.9h-.9zM230.8 86.3h.9v.9h-.9zM231.5 85.8h.9v.9h-.9zM230.0 59.7h.9v.9h-.9zM228.0 34.5h.9v.9h-.9zM229.0 49.2h.9v.9h-.9zM229.4 71.7h.9v.9h-.9zM232.3 68.6h.9v.9h-.9zM228.9 58.5h.9v.9h-.9zM230.7 85.1h.9v.9h-.9zM231.0 81.6h.9v.9h-.9zM230.5 73.5h.9v.9h-.9zM230.5 55.1h.9v.9h-.9zM227.8 85.9h.9v.9h-.9zM233.7 38.4h.9v.9h-.9zM228.8 31.7h.9v.9h-.9zM228.2 66.0h.9v.9h-.9zM229.4 43.0h.9v.9h-.9zM232.0 74.1h.9v.9h-.9zM233.3 84.2h.9v.9h-.9zM227.7 75.3h.9v.9h-.9zM229.5 29.9h.9v.9h-.9zM228.7 85.8h.9v.9h-.9zM227.8 55.8h.9v.9h-.9zM227.6 61.4h.9v.9h-.9zM233.6 83.2h.9v.9h-.9zM229.6 32.3h.9v.9h-.9zM229.6 49.1h.9v.9h-.9zM231.6 41.7h.9v.9h-.9zM228.3 84.4h.9v.9h-.9zM234.2 66.3h.9v.9h-.9zM230.4 56.4h.9v.9h-.9zM228.2 74.7h.9v.9h-.9zM230.7 38.6h.9v.9h-.9zM233.6 42.4h.9v.9h-.9zM227.7 76.8h.9v.9h-.9zM229.1 58.6h.9v.9h-.9zM238.2 73.1h.9v.9h-.9zM231.1 86.8h.9v.9h-.9zM228.6 71.4h.9v.9h-.9zM229.2 75.9h.9v.9h-.9zM232.0 68.0h.9v.9h-.9zM232.1 52.4h.9v.9h-.9zM228.2 44.8h.9v.9h-.9zM229.1 69.8h.9v.9h-.9zM229.8 79.1h.9v.9h-.9zM230.8 69.1h.9v.9h-.9zM231.0 68.5h.9v.9h-.9zM228.8 32.6h.9v.9h-.9zM229.0 37.7h.9v.9h-.9zM228.7 77.2h.9v.9h-.9zM228.4 51.6h.9v.9h-.9zM229.1 40.9h.9v.9h-.9zM229.7 64.5h.9v.9h-.9zM229.6 77.6h.9v.9h-.9zM230.0 50.3h.9v.9h-.9zM232.7 63.2h.9v.9h-.9zM231.4 65.7h.9v.9h-.9zM229.1 47.6h.9v.9h-.9zM229.3 38.9h.9v.9h-.9zM228.5 40.6h.9v.9h-.9zM230.1 72.5h.9v.9h-.9zM228.8 66.2h.9v.9h-.9zM227.5 84.6h.9v.9h-.9zM229.1 55.3h.9v.9h-.9zM231.4 56.4h.9v.9h-.9zM230.1 62.0h.9v.9h-.9zM228.7 46.6h.9v.9h-.9zM228.0 81.0h.9v.9h-.9zM230.2 72.5h.9v.9h-.9zM230.2 37.8h.9v.9h-.9zM228.2 65.9h.9v.9h-.9zM228.9 76.6h.9v.9h-.9zM229.6 75.5h.9v.9h-.9zM227.6 73.4h.9v.9h-.9zM228.2 62.3h.9v.9h-.9zM228.9 83.2h.9v.9h-.9zM227.8 30.4h.9v.9h-.9zM230.1 48.8h.9v.9h-.9zM230.4 40.5h.9v.9h-.9zM236.2 57.0h.9v.9h-.9zM228.4 53.1h.9v.9h-.9zM229.4 60.6h.9v.9h-.9zM229.3 74.3h.9v.9h-.9zM228.0 38.9h.9v.9h-.9zM234.9 67.7h.9v.9h-.9zM227.8 41.5h.9v.9h-.9zM229.6 65.7h.9v.9h-.9zM227.6 73.5h.9v.9h-.9zM228.4 65.4h.9v.9h-.9zM230.5 84.5h.9v.9h-.9zM229.5 79.6h.9v.9h-.9zM227.7 64.8h.9v.9h-.9zM229.0 43.7h.9v.9h-.9zM232.3 69.3h.9v.9h-.9zM233.5 86.1h.9v.9h-.9zM229.1 79.1h.9v.9h-.9zM227.8 42.6h.9v.9h-.9zM228.5 69.5h.9v.9h-.9zM230.7 75.8h.9v.9h-.9zM231.3 58.8h.9v.9h-.9zM229.1 75.3h.9v.9h-.9zM236.1 62.5h.9v.9h-.9zM230.2 30.4h.9v.9h-.9zM230.8 81.7h.9v.9h-.9zM231.4 72.0h.9v.9h-.9zM233.5 75.5h.9v.9h-.9zM230.2 42.8h.9v.9h-.9zM229.5 30.4h.9v.9h-.9zM230.2 36.1h.9v.9h-.9zM233.9 86.9h.9v.9h-.9zM231.8 56.1h.9v.9h-.9zM231.1 81.7h.9v.9h-.9zM232.3 69.8h.9v.9h-.9zM228.5 85.0h.9v.9h-.9zM228.8 68.7h.9v.9h-.9zM231.1 64.8h.9v.9h-.9zM229.9 57.2h.9v.9h-.9zM230.4 69.8h.9v.9h-.9zM228.0 50.3h.9v.9h-.9zM231.3 65.8h.9v.9h-.9zM228.5 61.5h.9v.9h-.9zM229.3 67.1h.9v.9h-.9zM228.0 53.6h.9v.9h-.9zM233.2 78.2h.9v.9h-.9zM227.5 66.4h.9v.9h-.9zM234.9 66.1h.9v.9h-.9zM228.2 59.2h.9v.9h-.9zM231.0 75.2h.9v.9h-.9zM233.5 79.8h.9v.9h-.9zM227.9 49.7h.9v.9h-.9zM229.2 63.2h.9v.9h-.9zM229.5 58.4h.9v.9h-.9zM227.7 77.1h.9v.9h-.9zM229.3 51.1h.9v.9h-.9zM230.6 78.4h.9v.9h-.9zM231.8 71.9h.9v.9h-.9zM227.6 74.5h.9v.9h-.9zM228.5 58.4h.9v.9h-.9zM230.1 34.9h.9v.9h-.9zM228.5 73.5h.9v.9h-.9zM228.4 85.7h.9v.9h-.9zM229.5 57.1h.9v.9h-.9zM228.6 42.2h.9v.9h-.9zM232.5 65.0h.9v.9h-.9zM227.9 58.9h.9v.9h-.9zM231.6 75.3h.9v.9h-.9zM232.0 82.9h.9v.9h-.9zM232.6 62.6h.9v.9h-.9zM230.8 61.6h.9v.9h-.9zM234.1 47.8h.9v.9h-.9zM228.6 46.0h.9v.9h-.9zM235.9 81.2h.9v.9h-.9zM231.2 56.8h.9v.9h-.9zM232.8 62.0h.9v.9h-.9zM227.8 48.4h.9v.9h-.9zM229.8 43.1h.9v.9h-.9zM231.1 83.2h.9v.9h-.9zM228.7 70.1h.9v.9h-.9zM230.2 52.4h.9v.9h-.9zM227.8 59.4h.9v.9h-.9zM229.9 31.9h.9v.9h-.9zM231.1 56.9h.9v.9h-.9zM229.1 73.9h.9v.9h-.9zM228.4 33.4h.9v.9h-.9zM229.7 73.7h.9v.9h-.9zM228.9 48.9h.9v.9h-.9zM229.8 81.3h.9v.9h-.9zM228.8 69.7h.9v.9h-.9zM227.9 69.1h.9v.9h-.9zM228.2 56.5h.9v.9h-.9zM230.8 72.3h.9v.9h-.9zM229.2 43.3h.9v.9h-.9zM228.5 49.7h.9v.9h-.9zM230.4 58.6h.9v.9h-.9zM235.9 83.2h.9v.9h-.9zM232.9 51.5h.9v.9h-.9zM227.7 81.4h.9v.9h-.9zM231.5 59.3h.9v.9h-.9zM228.6 35.6h.9v.9h-.9zM232.4 53.2h.9v.9h-.9zM238.2 78.0h.9v.9h-.9zM228.3 37.4h.9v.9h-.9zM228.0 59.5h.9v.9h-.9zM232.6 78.1h.9v.9h-.9zM237.1 77.7h.9v.9h-.9zM242.4 52.2h.9v.9h-.9zM232.5 36.4h.9v.9h-.9zM235.1 72.7h.9v.9h-.9zM230.9 86.2h.9v.9h-.9zM232.0 56.4h.9v.9h-.9zM230.9 30.7h.9v.9h-.9zM234.0 35.6h.9v.9h-.9zM236.3 54.8h.9v.9h-.9zM240.2 46.8h.9v.9h-.9zM247.1 59.5h.9v.9h-.9zM236.3 40.0h.9v.9h-.9zM234.0 58.2h.9v.9h-.9zM231.9 78.8h.9v.9h-.9zM233.8 79.7h.9v.9h-.9zM238.4 49.3h.9v.9h-.9zM232.8 62.1h.9v.9h-.9zM246.3 35.3h.9v.9h-.9zM231.1 51.2h.9v.9h-.9zM236.7 67.3h.9v.9h-.9zM233.4 48.9h.9v.9h-.9zM233.6 77.9h.9v.9h-.9zM246.4 53.9h.9v.9h-.9zM234.5 50.8h.9v.9h-.9zM239.3 39.6h.9v.9h-.9zM235.2 67.8h.9v.9h-.9zM232.2 53.3h.9v.9h-.9zM235.4 74.8h.9v.9h-.9zM234.1 77.1h.9v.9h-.9zM230.6 71.6h.9v.9h-.9zM246.5 42.9h.9v.9h-.9zM239.6 68.8h.9v.9h-.9zM235.7 58.4h.9v.9h-.9zM231.6 41.6h.9v.9h-.9zM240.0 66.7h.9v.9h-.9zM239.0 45.0h.9v.9h-.9zM238.3 38.2h.9v.9h-.9zM236.3 40.2h.9v.9h-.9zM237.1 48.1h.9v.9h-.9zM235.9 38.1h.9v.9h-.9zM231.2 65.1h.9v.9h-.9zM239.7 47.8h.9v.9h-.9zM238.4 61.1h.9v.9h-.9zM237.5 74.2h.9v.9h-.9zM235.2 43.0h.9v.9h-.9zM237.4 77.0h.9v.9h-.9zM233.9 72.7h.9v.9h-.9zM246.7 55.7h.9v.9h-.9zM239.1 76.6h.9v.9h-.9zM238.3 36.5h.9v.9h-.9zM245.8 32.4h.9v.9h-.9zM240.8 85.0h.9v.9h-.9zM243.6 45.5h.9v.9h-.9zM243.1 40.5h.9v.9h-.9zM230.6 59.7h.9v.9h-.9zM235.1 80.4h.9v.9h-.9zM239.9 77.0h.9v.9h-.9zM244.0 60.4h.9v.9h-.9zM244.9 41.9h.9v.9h-.9zM230.6 49.5h.9v.9h-.9zM230.4 27.4h.9v.9h-.9zM231.2 27.4h.9v.9h-.9zM232.0 27.4h.9v.9h-.9zM232.8 27.4h.9v.9h-.9zM233.6 27.4h.9v.9h-.9zM234.4 27.4h.9v.9h-.9zM235.2 27.4h.9v.9h-.9zM236.0 27.4h.9v.9h-.9zM236.8 27.4h.9v.9h-.9zM237.6 27.4h.9v.9h-.9zM238.4 27.4h.9v.9h-.9zM239.2 27.4h.9v.9h-.9zM240.0 27.4h.9v.9h-.9zM240.8 27.4h.9v.9h-.9zM241.6 27.4h.9v.9h-.9zM242.4 27.4h.9v.9h-.9zM243.2 27.4h.9v.9h-.9zM244.0 27.4h.9v.9h-.9zM244.8 27.4h.9v.9h-.9zM245.6 27.4h.9v.9h-.9zM246.4 27.4h.9v.9h-.9zM247.2 27.4h.9v.9h-.9zM256.9 27.4h.9v.9h-.9zM248.6 84.5h.9v.9h-.9zM245.6 83.5h.9v.9h-.9zM248.6 39.5h.9v.9h-.9z"/>
<line x1="325.5" y1="27.5" x2="325.5" y2="100" stroke="#111" stroke-width="0.9" stroke-dasharray="1 1.2"/>
<line x1="337.5" y1="27.5" x2="337.5" y2="100" stroke="#111" stroke-width="0.9" stroke-dasharray="1 1.2"/>
<line x1="343.5" y1="27.5" x2="343.5" y2="100" stroke="#111" stroke-width="0.9" stroke-dasharray="1 1.2"/>
<line x1="316.3" y1="30.6" x2="319.5" y2="30.6" stroke="#111" stroke-width="0.9"/>
<text x="313.4" y="32.800000000000004" font-size="6.25" fill="#111" text-anchor="end">CASP9</text>
<rect x="324.30" y="28.60" width="7.20" height="4.00" fill="#2c4a80"/>
<line x1="316.3" y1="36.075" x2="319.5" y2="36.075" stroke="#111" stroke-width="0.9"/>
<text x="313.4" y="38.275000000000006" font-size="6.25" fill="#111" text-anchor="end">CASP3</text>
<rect x="331.50" y="34.08" width="6.00" height="4.00" fill="#a30b29"/>
<line x1="316.3" y1="41.55" x2="319.5" y2="41.55" stroke="#111" stroke-width="0.9"/>
<text x="313.4" y="43.75" font-size="6.25" fill="#111" text-anchor="end">CASP8</text>
<rect x="331.50" y="39.55" width="6.00" height="4.00" fill="#a30b29"/>
<line x1="316.3" y1="47.025" x2="319.5" y2="47.025" stroke="#111" stroke-width="0.9"/>
<text x="313.4" y="49.225" font-size="6.25" fill="#111" text-anchor="end">BID</text>
<rect x="331.50" y="45.02" width="6.00" height="4.00" fill="#a30b29"/>
<line x1="316.3" y1="52.5" x2="319.5" y2="52.5" stroke="#111" stroke-width="0.9"/>
<text x="313.4" y="54.7" font-size="6.25" fill="#111" text-anchor="end">CAD</text>
<rect x="331.50" y="50.50" width="6.30" height="4.00" fill="#a30b29"/>
<line x1="316.3" y1="57.975" x2="319.5" y2="57.975" stroke="#111" stroke-width="0.9"/>
<text x="313.4" y="60.175000000000004" font-size="6.25" fill="#111" text-anchor="end">MCL1</text>
<rect x="331.50" y="55.98" width="6.30" height="4.00" fill="#a30b29"/>
<line x1="316.3" y1="63.449999999999996" x2="319.5" y2="63.449999999999996" stroke="#111" stroke-width="0.9"/>
<text x="313.4" y="65.64999999999999" font-size="6.25" fill="#111" text-anchor="end">CASP6</text>
<rect x="331.50" y="61.45" width="6.60" height="4.00" fill="#a30b29"/>
<line x1="316.3" y1="68.925" x2="319.5" y2="68.925" stroke="#111" stroke-width="0.9"/>
<text x="313.4" y="71.125" font-size="6.25" fill="#111" text-anchor="end">CASP7</text>
<rect x="331.50" y="66.92" width="6.60" height="4.00" fill="#a30b29"/>
<line x1="316.3" y1="74.4" x2="319.5" y2="74.4" stroke="#111" stroke-width="0.9"/>
<text x="313.4" y="76.60000000000001" font-size="6.25" fill="#111" text-anchor="end">DIABLO</text>
<rect x="331.50" y="72.40" width="6.90" height="4.00" fill="#a30b29"/>
<line x1="316.3" y1="79.875" x2="319.5" y2="79.875" stroke="#111" stroke-width="0.9"/>
<text x="313.4" y="82.075" font-size="6.25" fill="#111" text-anchor="end">SPTAN1</text>
<rect x="331.50" y="77.88" width="6.90" height="4.00" fill="#a30b29"/>
<line x1="316.3" y1="85.35" x2="319.5" y2="85.35" stroke="#111" stroke-width="0.9"/>
<text x="313.4" y="87.55" font-size="6.25" fill="#111" text-anchor="end">BIRC6</text>
<rect x="331.50" y="83.35" width="7.50" height="4.00" fill="#a30b29"/>
<line x1="316.3" y1="90.82499999999999" x2="319.5" y2="90.82499999999999" stroke="#111" stroke-width="0.9"/>
<text x="313.4" y="93.02499999999999" font-size="6.25" fill="#111" text-anchor="end">LMNA</text>
<rect x="331.50" y="88.82" width="7.50" height="4.00" fill="#a30b29"/>
<line x1="316.3" y1="96.29999999999998" x2="319.5" y2="96.29999999999998" stroke="#111" stroke-width="0.9"/>
<text x="313.4" y="98.49999999999999" font-size="6.25" fill="#111" text-anchor="end">BAX</text>
<rect x="331.50" y="94.30" width="12.30" height="4.00" fill="#a30b29"/>
<line x1="331.5" y1="27.1" x2="331.5" y2="100" stroke="#111" stroke-width="1.1"/>
<line x1="319.5" y1="27.1" x2="319.5" y2="100.6" stroke="#111" stroke-width="1.2"/>
<line x1="318.9" y1="100" x2="382.3" y2="100" stroke="#111" stroke-width="1.2"/>
<line x1="319.5" y1="100" x2="319.5" y2="102.3" stroke="#111" stroke-width="0.9"/>
<text x="318.7" y="112.0" font-size="6.5" fill="#1a1a1a" text-anchor="middle">-2</text>
<line x1="325.5" y1="100" x2="325.5" y2="102.3" stroke="#111" stroke-width="0.9"/>
<line x1="331.5" y1="100" x2="331.5" y2="102.3" stroke="#111" stroke-width="0.9"/>
<text x="331.5" y="112.0" font-size="6.5" fill="#1a1a1a" text-anchor="middle">0</text>
<line x1="337.5" y1="100" x2="337.5" y2="102.3" stroke="#111" stroke-width="0.9"/>
<line x1="343.5" y1="100" x2="343.5" y2="102.3" stroke="#111" stroke-width="0.9"/>
<text x="343.5" y="112.0" font-size="6.5" fill="#1a1a1a" text-anchor="middle">2</text>
<line x1="349.5" y1="100" x2="349.5" y2="102.3" stroke="#111" stroke-width="0.9"/>
<line x1="355.5" y1="100" x2="355.5" y2="102.3" stroke="#111" stroke-width="0.9"/>
<text x="355.5" y="112.0" font-size="6.5" fill="#1a1a1a" text-anchor="middle">4</text>
<line x1="361.5" y1="100" x2="361.5" y2="102.3" stroke="#111" stroke-width="0.9"/>
<line x1="367.5" y1="100" x2="367.5" y2="102.3" stroke="#111" stroke-width="0.9"/>
<text x="367.5" y="112.0" font-size="6.5" fill="#1a1a1a" text-anchor="middle">6</text>
<line x1="373.5" y1="100" x2="373.5" y2="102.3" stroke="#111" stroke-width="0.9"/>
<line x1="379.5" y1="100" x2="379.5" y2="102.3" stroke="#111" stroke-width="0.9"/>
<text x="379.5" y="112.0" font-size="6.5" fill="#1a1a1a" text-anchor="middle">8</text>
<line x1="447.59999999999997" y1="20" x2="447.59999999999997" y2="100" stroke="#111" stroke-width="0.9" stroke-dasharray="1 1.2"/>
<line x1="460.8" y1="20" x2="460.8" y2="100" stroke="#111" stroke-width="0.9" stroke-dasharray="1 1.2"/>
<line x1="467.4" y1="20" x2="467.4" y2="100" stroke="#111" stroke-width="0.9" stroke-dasharray="1 1.2"/>
<line x1="437.9" y1="23.1" x2="441.2" y2="23.1" stroke="#111" stroke-width="0.9"/>
<text x="435.1" y="25.400000000000002" font-size="6.5" fill="#111" text-anchor="end">CDKN1B</text>
<rect x="445.29" y="20.85" width="8.91" height="4.50" fill="#2c4a80"/>
<line x1="437.9" y1="29.14" x2="441.2" y2="29.14" stroke="#111" stroke-width="0.9"/>
<text x="435.1" y="31.44" font-size="6.5" fill="#111" text-anchor="end">CDC25C</text>
<rect x="446.08" y="26.89" width="8.12" height="4.50" fill="#2c4a80"/>
<line x1="437.9" y1="35.18" x2="441.2" y2="35.18" stroke="#111" stroke-width="0.9"/>
<text x="435.1" y="37.48" font-size="6.5" fill="#111" text-anchor="end">CDC14B</text>
<rect x="445.69" y="32.93" width="8.51" height="4.50" fill="#2c4a80"/>
<line x1="437.9" y1="41.22" x2="441.2" y2="41.22" stroke="#111" stroke-width="0.9"/>
<text x="435.1" y="43.519999999999996" font-size="6.5" fill="#111" text-anchor="end">PNPT1</text>
<rect x="446.61" y="38.97" width="7.59" height="4.50" fill="#2c4a80"/>
<line x1="437.9" y1="47.260000000000005" x2="441.2" y2="47.260000000000005" stroke="#111" stroke-width="0.9"/>
<text x="435.1" y="49.56" font-size="6.5" fill="#111" text-anchor="end">CDC14A</text>
<rect x="446.61" y="45.01" width="7.59" height="4.50" fill="#2c4a80"/>
<line x1="437.9" y1="53.3" x2="441.2" y2="53.3" stroke="#111" stroke-width="0.9"/>
<text x="435.1" y="55.599999999999994" font-size="6.5" fill="#111" text-anchor="end">CDK1</text>
<rect x="454.20" y="51.35" width="6.73" height="3.90" fill="#a30b29"/>
<line x1="437.9" y1="59.34" x2="441.2" y2="59.34" stroke="#111" stroke-width="0.9"/>
<text x="435.1" y="61.64" font-size="6.5" fill="#111" text-anchor="end">MCPH1</text>
<rect x="454.20" y="57.39" width="6.93" height="3.90" fill="#a30b29"/>
<line x1="437.9" y1="65.38" x2="441.2" y2="65.38" stroke="#111" stroke-width="0.9"/>
<text x="435.1" y="67.67999999999999" font-size="6.5" fill="#111" text-anchor="end">RGCC</text>
<rect x="454.20" y="63.43" width="8.25" height="3.90" fill="#a30b29"/>
<line x1="437.9" y1="71.42" x2="441.2" y2="71.42" stroke="#111" stroke-width="0.9"/>
<text x="435.1" y="73.72" font-size="6.5" fill="#111" text-anchor="end">GADD45A</text>
<rect x="454.20" y="69.47" width="10.56" height="3.90" fill="#a30b29"/>
<line x1="437.9" y1="77.46000000000001" x2="441.2" y2="77.46000000000001" stroke="#111" stroke-width="0.9"/>
<text x="435.1" y="79.76" font-size="6.5" fill="#111" text-anchor="end">MDM2</text>
<rect x="454.20" y="75.51" width="11.42" height="3.90" fill="#a30b29"/>
<line x1="437.9" y1="83.5" x2="441.2" y2="83.5" stroke="#111" stroke-width="0.9"/>
<text x="435.1" y="85.8" font-size="6.5" fill="#111" text-anchor="end">DDIAS</text>
<rect x="454.20" y="81.55" width="18.08" height="3.90" fill="#a30b29"/>
<line x1="437.9" y1="89.53999999999999" x2="441.2" y2="89.53999999999999" stroke="#111" stroke-width="0.9"/>
<text x="435.1" y="91.83999999999999" font-size="6.5" fill="#111" text-anchor="end">MDM4</text>
<rect x="454.20" y="87.59" width="43.49" height="3.90" fill="#a30b29"/>
<line x1="437.9" y1="95.58000000000001" x2="441.2" y2="95.58000000000001" stroke="#111" stroke-width="0.9"/>
<text x="435.1" y="97.88000000000001" font-size="6.5" fill="#111" text-anchor="end">CDKN1A</text>
<rect x="454.20" y="93.63" width="45.41" height="3.90" fill="#a30b29"/>
<line x1="454.2" y1="19.5" x2="454.2" y2="100" stroke="#111" stroke-width="1.1"/>
<line x1="441.2" y1="19.3" x2="441.2" y2="100.6" stroke="#111" stroke-width="1.2"/>
<line x1="440.6" y1="100" x2="509" y2="100" stroke="#111" stroke-width="1.2"/>
<text x="440.2" y="112.2" font-size="6.6" fill="#1a1a1a" text-anchor="middle">-2</text>
<line x1="441.0" y1="100" x2="441.0" y2="102.3" stroke="#111" stroke-width="0.9"/>
<text x="454.2" y="112.2" font-size="6.6" fill="#1a1a1a" text-anchor="middle">0</text>
<line x1="454.2" y1="100" x2="454.2" y2="102.3" stroke="#111" stroke-width="0.9"/>
<text x="467.4" y="112.2" font-size="6.6" fill="#1a1a1a" text-anchor="middle">2</text>
<line x1="467.4" y1="100" x2="467.4" y2="102.3" stroke="#111" stroke-width="0.9"/>
<text x="480.6" y="112.2" font-size="6.6" fill="#1a1a1a" text-anchor="middle">4</text>
<line x1="480.6" y1="100" x2="480.6" y2="102.3" stroke="#111" stroke-width="0.9"/>
<text x="493.8" y="112.2" font-size="6.6" fill="#1a1a1a" text-anchor="middle">6</text>
<line x1="493.8" y1="100" x2="493.8" y2="102.3" stroke="#111" stroke-width="0.9"/>
<text x="507.0" y="112.2" font-size="6.6" fill="#1a1a1a" text-anchor="middle">8</text>
<line x1="507.0" y1="100" x2="507.0" y2="102.3" stroke="#111" stroke-width="0.9"/>
<line x1="447.6" y1="100" x2="447.6" y2="101.8" stroke="#111" stroke-width="0.8"/>
<line x1="460.8" y1="100" x2="460.8" y2="101.8" stroke="#111" stroke-width="0.8"/>
<line x1="474.0" y1="100" x2="474.0" y2="101.8" stroke="#111" stroke-width="0.8"/>
<line x1="487.20000000000005" y1="100" x2="487.20000000000005" y2="101.8" stroke="#111" stroke-width="0.8"/>
<line x1="500.40000000000003" y1="100" x2="500.40000000000003" y2="101.8" stroke="#111" stroke-width="0.8"/>
<rect x="43.2" y="181.3" width="62.5" height="62.69999999999999" fill="#fff" stroke="#ececec" stroke-width="0.6"/>
<line x1="43.2" y1="181.3" x2="43.2" y2="244.0" stroke="#a0a0a0" stroke-width="0.7" stroke-dasharray="0.7 1.2"/>
<line x1="43.2" y1="244.0" x2="105.7" y2="244.0" stroke="#909090" stroke-width="0.9" stroke-dasharray="0.8 1.1"/>
<text x="73.95" y="177.2" font-size="7.0" fill="#111" text-anchor="middle" textLength="19.9" lengthAdjust="spacingAndGlyphs">Control</text>
<text x="30.900000000000002" y="200.4" font-size="5.3" fill="#1a1a1a">10<tspan font-size="3.6" dy="-2.1">4</tspan></text>
<line x1="41.800000000000004" y1="198.5" x2="43.2" y2="198.5" stroke="#444" stroke-width="0.8"/>
<text x="30.900000000000002" y="218.0" font-size="5.3" fill="#1a1a1a">10<tspan font-size="3.6" dy="-2.1">3</tspan></text>
<line x1="41.800000000000004" y1="216.1" x2="43.2" y2="216.1" stroke="#444" stroke-width="0.8"/>
<text x="30.900000000000002" y="236.1" font-size="5.3" fill="#1a1a1a">10<tspan font-size="3.6" dy="-2.1">2</tspan></text>
<line x1="41.800000000000004" y1="234.2" x2="43.2" y2="234.2" stroke="#444" stroke-width="0.8"/>
<text x="43.5" y="253.2" font-size="5.0" fill="#1a1a1a" text-anchor="middle">0</text>
<text x="57.800000000000004" y="253.2" font-size="5.0" fill="#1a1a1a" text-anchor="middle">50K</text>
<text x="71.9" y="253.2" font-size="5.0" fill="#1a1a1a" text-anchor="middle">100K</text>
<text x="86.6" y="253.2" font-size="5.0" fill="#1a1a1a" text-anchor="middle">150K</text>
<text x="100.4" y="253.2" font-size="5.0" fill="#1a1a1a" text-anchor="middle">200K</text>
<path fill="#4a5fb0" d="M45.1 224.5h.9v.9h-.9zM46.7 225.4h.9v.9h-.9zM45.8 224.8h.9v.9h-.9zM45.1 225.9h.9v.9h-.9zM47.4 220.4h.9v.9h-.9zM47.6 216.9h.9v.9h-.9zM43.5 225.5h.9v.9h-.9zM44.9 230.3h.9v.9h-.9zM46.0 219.0h.9v.9h-.9zM45.4 224.9h.9v.9h-.9zM46.6 221.8h.9v.9h-.9zM43.7 219.7h.9v.9h-.9zM46.4 227.2h.9v.9h-.9zM43.5 224.7h.9v.9h-.9zM44.6 224.1h.9v.9h-.9zM46.2 222.9h.9v.9h-.9zM45.3 217.9h.9v.9h-.9zM45.4 228.2h.9v.9h-.9zM44.7 224.8h.9v.9h-.9zM45.9 230.8h.9v.9h-.9zM44.5 226.2h.9v.9h-.9zM45.1 223.5h.9v.9h-.9zM45.4 218.6h.9v.9h-.9zM46.1 221.6h.9v.9h-.9zM45.6 226.2h.9v.9h-.9zM45.2 219.2h.9v.9h-.9zM44.2 225.6h.9v.9h-.9zM46.7 229.1h.9v.9h-.9zM44.1 224.2h.9v.9h-.9zM45.5 221.6h.9v.9h-.9zM45.2 220.8h.9v.9h-.9zM45.5 222.3h.9v.9h-.9zM45.1 227.8h.9v.9h-.9zM44.3 223.9h.9v.9h-.9zM44.7 222.6h.9v.9h-.9zM45.3 223.6h.9v.9h-.9zM45.6 221.4h.9v.9h-.9zM46.0 220.2h.9v.9h-.9zM44.1 221.0h.9v.9h-.9zM46.7 227.2h.9v.9h-.9zM44.8 229.3h.9v.9h-.9zM45.7 219.2h.9v.9h-.9zM45.8 220.6h.9v.9h-.9zM44.1 217.0h.9v.9h-.9zM45.5 224.8h.9v.9h-.9zM44.2 225.4h.9v.9h-.9zM45.8 225.3h.9v.9h-.9zM46.1 221.3h.9v.9h-.9zM45.8 225.1h.9v.9h-.9zM44.7 222.6h.9v.9h-.9zM44.0 224.1h.9v.9h-.9zM44.1 224.9h.9v.9h-.9zM45.5 223.1h.9v.9h-.9zM46.0 222.7h.9v.9h-.9zM47.2 224.8h.9v.9h-.9zM44.1 222.0h.9v.9h-.9zM45.7 228.7h.9v.9h-.9zM44.7 228.1h.9v.9h-.9zM45.5 227.4h.9v.9h-.9zM44.7 221.2h.9v.9h-.9zM44.9 223.7h.9v.9h-.9zM44.3 219.9h.9v.9h-.9zM46.1 226.7h.9v.9h-.9zM45.3 222.2h.9v.9h-.9zM46.5 218.4h.9v.9h-.9zM46.1 224.3h.9v.9h-.9zM46.1 224.7h.9v.9h-.9zM46.4 225.3h.9v.9h-.9zM45.3 226.1h.9v.9h-.9zM44.3 224.2h.9v.9h-.9zM45.8 218.9h.9v.9h-.9zM45.9 225.0h.9v.9h-.9zM46.3 223.7h.9v.9h-.9zM46.7 226.5h.9v.9h-.9zM46.0 213.8h.9v.9h-.9zM45.4 224.3h.9v.9h-.9zM45.4 220.5h.9v.9h-.9zM46.3 222.3h.9v.9h-.9zM45.2 224.6h.9v.9h-.9zM46.6 222.4h.9v.9h-.9zM44.3 224.7h.9v.9h-.9zM45.6 217.9h.9v.9h-.9zM44.7 223.8h.9v.9h-.9zM43.4 227.1h.9v.9h-.9zM44.0 226.0h.9v.9h-.9zM44.2 222.3h.9v.9h-.9zM44.6 222.5h.9v.9h-.9zM43.3 221.4h.9v.9h-.9zM46.3 224.9h.9v.9h-.9zM47.6 217.9h.9v.9h-.9z"/>
<path fill="#2f8f9a" d="M46.2 223.7h.9v.9h-.9zM44.6 221.4h.9v.9h-.9zM45.0 223.7h.9v.9h-.9zM45.1 225.8h.9v.9h-.9zM45.3 222.5h.9v.9h-.9zM44.8 221.8h.9v.9h-.9zM45.3 223.3h.9v.9h-.9zM44.9 224.0h.9v.9h-.9zM44.9 222.8h.9v.9h-.9zM46.0 225.2h.9v.9h-.9zM45.1 226.1h.9v.9h-.9zM45.1 225.3h.9v.9h-.9zM45.5 222.9h.9v.9h-.9zM45.3 223.0h.9v.9h-.9zM45.5 223.4h.9v.9h-.9zM45.3 222.1h.9v.9h-.9zM45.6 224.9h.9v.9h-.9zM44.7 223.5h.9v.9h-.9zM45.9 224.8h.9v.9h-.9zM44.9 227.3h.9v.9h-.9z"/>
<path fill="#6a78c4" fill-opacity="0.7" d="M54.0 229.4h.9v.9h-.9zM58.0 237.0h.9v.9h-.9zM54.6 231.7h.9v.9h-.9zM58.5 223.1h.9v.9h-.9zM56.8 223.3h.9v.9h-.9zM57.5 227.3h.9v.9h-.9zM50.0 229.1h.9v.9h-.9zM57.8 230.7h.9v.9h-.9zM57.0 223.3h.9v.9h-.9zM59.2 230.5h.9v.9h-.9zM49.4 230.8h.9v.9h-.9zM58.8 224.8h.9v.9h-.9zM53.4 225.0h.9v.9h-.9zM60.5 227.5h.9v.9h-.9zM59.3 224.8h.9v.9h-.9zM52.0 223.3h.9v.9h-.9zM64.1 230.1h.9v.9h-.9zM59.0 228.7h.9v.9h-.9zM56.6 225.8h.9v.9h-.9zM55.5 228.0h.9v.9h-.9zM56.1 226.7h.9v.9h-.9zM58.2 228.9h.9v.9h-.9zM58.1 227.4h.9v.9h-.9zM58.2 231.1h.9v.9h-.9zM61.0 232.2h.9v.9h-.9zM54.4 228.1h.9v.9h-.9zM57.1 234.2h.9v.9h-.9zM62.3 228.5h.9v.9h-.9zM63.6 232.1h.9v.9h-.9zM52.8 229.5h.9v.9h-.9zM57.8 225.2h.9v.9h-.9zM61.7 229.0h.9v.9h-.9zM52.0 223.2h.9v.9h-.9zM56.0 231.2h.9v.9h-.9zM58.2 230.5h.9v.9h-.9zM55.8 231.8h.9v.9h-.9zM55.9 229.6h.9v.9h-.9zM55.8 225.2h.9v.9h-.9zM58.0 222.1h.9v.9h-.9zM57.0 228.5h.9v.9h-.9zM52.6 226.3h.9v.9h-.9zM56.1 222.8h.9v.9h-.9zM50.5 231.0h.9v.9h-.9zM55.3 237.7h.9v.9h-.9zM65.1 218.9h.9v.9h-.9zM59.3 225.5h.9v.9h-.9zM58.6 221.5h.9v.9h-.9zM60.2 239.8h.9v.9h-.9zM52.9 220.7h.9v.9h-.9zM55.4 226.0h.9v.9h-.9zM58.2 224.7h.9v.9h-.9zM56.5 232.1h.9v.9h-.9zM58.1 230.7h.9v.9h-.9zM56.4 224.8h.9v.9h-.9zM55.9 225.0h.9v.9h-.9zM51.7 227.4h.9v.9h-.9zM56.4 225.5h.9v.9h-.9zM60.0 236.0h.9v.9h-.9zM53.9 229.2h.9v.9h-.9zM52.9 230.9h.9v.9h-.9z"/>
<path fill="#4656ae" fill-opacity="0.75" d="M67.9 219.1h.9v.9h-.9zM64.2 229.6h.9v.9h-.9zM65.8 225.8h.9v.9h-.9zM77.6 222.2h.9v.9h-.9zM70.3 211.2h.9v.9h-.9zM61.2 228.0h.9v.9h-.9zM68.6 233.9h.9v.9h-.9zM66.3 215.0h.9v.9h-.9zM72.2 217.5h.9v.9h-.9zM67.5 234.4h.9v.9h-.9zM65.0 226.7h.9v.9h-.9zM63.6 232.4h.9v.9h-.9zM72.3 218.3h.9v.9h-.9zM67.1 223.5h.9v.9h-.9zM71.0 231.2h.9v.9h-.9zM69.1 230.3h.9v.9h-.9zM70.0 227.7h.9v.9h-.9zM67.7 222.7h.9v.9h-.9zM70.2 222.5h.9v.9h-.9zM70.1 222.7h.9v.9h-.9zM67.8 230.8h.9v.9h-.9zM72.3 226.4h.9v.9h-.9zM67.8 226.6h.9v.9h-.9zM70.6 222.5h.9v.9h-.9zM77.9 226.1h.9v.9h-.9zM68.6 229.7h.9v.9h-.9zM70.0 226.4h.9v.9h-.9zM67.0 219.9h.9v.9h-.9zM65.4 226.0h.9v.9h-.9zM65.9 238.4h.9v.9h-.9zM60.3 236.5h.9v.9h-.9zM69.7 224.4h.9v.9h-.9zM68.7 225.2h.9v.9h-.9zM66.6 217.6h.9v.9h-.9zM66.6 220.3h.9v.9h-.9zM69.1 223.5h.9v.9h-.9zM65.4 225.1h.9v.9h-.9zM66.3 227.9h.9v.9h-.9zM67.0 220.0h.9v.9h-.9zM69.2 219.4h.9v.9h-.9zM61.3 219.7h.9v.9h-.9zM70.1 220.3h.9v.9h-.9zM64.2 235.8h.9v.9h-.9zM67.0 227.7h.9v.9h-.9zM65.3 232.6h.9v.9h-.9zM73.2 223.2h.9v.9h-.9zM63.6 216.4h.9v.9h-.9zM69.0 220.9h.9v.9h-.9zM62.0 228.0h.9v.9h-.9zM67.5 228.2h.9v.9h-.9zM63.2 220.1h.9v.9h-.9zM68.3 233.3h.9v.9h-.9zM69.8 224.5h.9v.9h-.9zM71.2 230.3h.9v.9h-.9zM63.6 236.2h.9v.9h-.9zM72.4 225.9h.9v.9h-.9zM69.7 219.5h.9v.9h-.9zM72.9 237.4h.9v.9h-.9zM68.9 227.7h.9v.9h-.9zM67.6 226.3h.9v.9h-.9zM64.4 226.6h.9v.9h-.9zM72.0 224.6h.9v.9h-.9zM72.1 219.3h.9v.9h-.9zM65.9 224.2h.9v.9h-.9zM66.8 231.3h.9v.9h-.9zM63.9 230.3h.9v.9h-.9zM64.9 225.9h.9v.9h-.9zM58.2 216.0h.9v.9h-.9zM69.3 230.2h.9v.9h-.9zM69.9 226.2h.9v.9h-.9zM72.0 227.8h.9v.9h-.9zM71.3 219.7h.9v.9h-.9zM75.3 224.1h.9v.9h-.9zM64.0 222.8h.9v.9h-.9zM72.0 226.4h.9v.9h-.9zM67.9 232.7h.9v.9h-.9zM72.6 228.4h.9v.9h-.9zM65.1 230.0h.9v.9h-.9zM66.8 227.3h.9v.9h-.9zM67.5 217.5h.9v.9h-.9zM66.7 224.7h.9v.9h-.9zM62.0 220.4h.9v.9h-.9zM74.6 225.4h.9v.9h-.9zM75.7 228.8h.9v.9h-.9zM66.7 222.7h.9v.9h-.9zM74.5 221.7h.9v.9h-.9zM70.5 223.8h.9v.9h-.9zM65.0 223.9h.9v.9h-.9zM66.4 233.8h.9v.9h-.9zM65.7 223.2h.9v.9h-.9zM59.8 223.1h.9v.9h-.9zM60.6 221.7h.9v.9h-.9zM57.4 220.0h.9v.9h-.9zM72.4 227.0h.9v.9h-.9zM62.5 223.6h.9v.9h-.9zM73.5 224.7h.9v.9h-.9zM62.9 227.0h.9v.9h-.9zM62.4 224.5h.9v.9h-.9zM68.9 225.8h.9v.9h-.9zM64.9 234.9h.9v.9h-.9zM74.5 229.2h.9v.9h-.9zM73.6 227.4h.9v.9h-.9zM69.1 222.7h.9v.9h-.9zM66.3 228.4h.9v.9h-.9zM66.9 220.4h.9v.9h-.9zM65.6 223.4h.9v.9h-.9zM60.2 219.9h.9v.9h-.9zM70.0 214.4h.9v.9h-.9zM68.3 231.8h.9v.9h-.9zM65.6 229.0h.9v.9h-.9zM69.0 223.2h.9v.9h-.9zM62.1 223.1h.9v.9h-.9zM68.9 225.7h.9v.9h-.9zM67.7 231.6h.9v.9h-.9zM70.3 224.9h.9v.9h-.9zM70.3 222.0h.9v.9h-.9zM59.9 222.8h.9v.9h-.9zM71.4 227.7h.9v.9h-.9zM69.4 228.2h.9v.9h-.9zM66.3 233.1h.9v.9h-.9zM66.6 224.9h.9v.9h-.9zM69.7 220.6h.9v.9h-.9zM72.6 233.0h.9v.9h-.9zM69.4 223.0h.9v.9h-.9zM74.7 222.8h.9v.9h-.9zM68.3 226.3h.9v.9h-.9zM73.0 219.4h.9v.9h-.9zM73.6 230.8h.9v.9h-.9zM69.0 219.3h.9v.9h-.9zM73.7 214.0h.9v.9h-.9zM64.9 234.1h.9v.9h-.9zM71.1 224.1h.9v.9h-.9zM65.9 219.4h.9v.9h-.9zM71.1 221.0h.9v.9h-.9zM67.8 229.7h.9v.9h-.9zM66.3 225.4h.9v.9h-.9zM73.3 218.3h.9v.9h-.9zM68.5 233.5h.9v.9h-.9zM67.4 223.9h.9v.9h-.9zM69.4 218.0h.9v.9h-.9zM67.7 228.1h.9v.9h-.9zM67.0 234.1h.9v.9h-.9zM61.4 227.9h.9v.9h-.9zM69.2 228.0h.9v.9h-.9zM63.7 234.1h.9v.9h-.9zM69.0 227.6h.9v.9h-.9zM68.3 223.9h.9v.9h-.9zM67.5 224.3h.9v.9h-.9zM68.4 233.1h.9v.9h-.9zM71.0 222.5h.9v.9h-.9zM67.3 226.4h.9v.9h-.9zM66.7 229.1h.9v.9h-.9zM69.7 218.7h.9v.9h-.9zM69.3 220.3h.9v.9h-.9zM67.6 223.7h.9v.9h-.9zM65.9 228.7h.9v.9h-.9zM67.0 233.8h.9v.9h-.9zM69.0 230.2h.9v.9h-.9zM66.7 235.4h.9v.9h-.9zM65.4 221.8h.9v.9h-.9zM62.0 233.5h.9v.9h-.9zM72.1 224.1h.9v.9h-.9zM61.3 222.2h.9v.9h-.9zM68.1 229.8h.9v.9h-.9zM71.8 229.5h.9v.9h-.9zM68.5 223.3h.9v.9h-.9zM57.7 232.1h.9v.9h-.9zM64.5 226.6h.9v.9h-.9zM72.5 217.5h.9v.9h-.9zM66.9 227.8h.9v.9h-.9zM64.2 220.1h.9v.9h-.9zM73.2 222.8h.9v.9h-.9zM66.6 231.4h.9v.9h-.9zM67.3 231.1h.9v.9h-.9zM60.0 228.2h.9v.9h-.9zM75.5 219.9h.9v.9h-.9zM58.5 227.8h.9v.9h-.9zM73.8 234.3h.9v.9h-.9zM63.3 218.5h.9v.9h-.9zM58.3 233.7h.9v.9h-.9zM75.5 227.5h.9v.9h-.9zM69.8 221.8h.9v.9h-.9zM69.5 223.1h.9v.9h-.9zM68.3 220.7h.9v.9h-.9zM66.1 227.7h.9v.9h-.9zM70.2 218.7h.9v.9h-.9zM77.2 233.1h.9v.9h-.9zM68.9 230.6h.9v.9h-.9zM64.0 229.3h.9v.9h-.9zM75.3 218.7h.9v.9h-.9zM65.8 222.6h.9v.9h-.9zM69.4 227.2h.9v.9h-.9zM63.3 225.3h.9v.9h-.9zM58.0 230.5h.9v.9h-.9zM65.2 228.4h.9v.9h-.9zM66.2 227.5h.9v.9h-.9zM73.0 223.7h.9v.9h-.9zM64.4 224.7h.9v.9h-.9zM68.2 230.2h.9v.9h-.9zM64.1 226.3h.9v.9h-.9zM73.1 225.2h.9v.9h-.9zM68.6 227.6h.9v.9h-.9zM70.1 229.8h.9v.9h-.9zM69.9 216.2h.9v.9h-.9zM68.8 234.4h.9v.9h-.9zM63.8 228.2h.9v.9h-.9zM67.2 225.8h.9v.9h-.9zM73.4 228.9h.9v.9h-.9zM66.9 221.7h.9v.9h-.9zM74.4 221.7h.9v.9h-.9zM67.8 227.7h.9v.9h-.9zM63.0 223.7h.9v.9h-.9zM68.4 227.5h.9v.9h-.9zM67.3 226.2h.9v.9h-.9zM67.8 219.3h.9v.9h-.9zM67.5 231.2h.9v.9h-.9zM68.5 229.1h.9v.9h-.9zM71.2 234.1h.9v.9h-.9zM62.5 228.3h.9v.9h-.9zM64.3 233.2h.9v.9h-.9zM63.7 222.1h.9v.9h-.9zM64.4 229.9h.9v.9h-.9zM72.0 238.1h.9v.9h-.9zM66.0 220.8h.9v.9h-.9zM67.1 224.4h.9v.9h-.9zM66.9 229.0h.9v.9h-.9zM68.6 225.4h.9v.9h-.9zM61.1 229.3h.9v.9h-.9zM69.5 218.6h.9v.9h-.9zM67.4 229.4h.9v.9h-.9zM67.3 222.2h.9v.9h-.9zM67.7 221.7h.9v.9h-.9zM68.6 219.8h.9v.9h-.9zM72.7 213.2h.9v.9h-.9zM60.2 235.8h.9v.9h-.9zM76.0 226.7h.9v.9h-.9zM72.9 227.2h.9v.9h-.9zM63.3 231.4h.9v.9h-.9zM67.2 229.1h.9v.9h-.9zM69.3 220.1h.9v.9h-.9zM68.4 220.5h.9v.9h-.9zM74.6 227.9h.9v.9h-.9zM69.1 231.4h.9v.9h-.9zM71.2 226.1h.9v.9h-.9zM65.0 219.0h.9v.9h-.9zM65.6 222.1h.9v.9h-.9zM67.6 219.0h.9v.9h-.9zM69.5 231.8h.9v.9h-.9zM63.2 221.6h.9v.9h-.9zM69.3 230.0h.9v.9h-.9zM67.3 227.8h.9v.9h-.9zM64.7 232.4h.9v.9h-.9zM66.2 224.7h.9v.9h-.9zM68.0 223.7h.9v.9h-.9zM68.3 223.3h.9v.9h-.9zM70.6 228.1h.9v.9h-.9zM65.2 225.7h.9v.9h-.9zM74.9 218.5h.9v.9h-.9zM66.9 233.9h.9v.9h-.9zM66.6 220.2h.9v.9h-.9zM68.0 237.8h.9v.9h-.9zM68.8 225.8h.9v.9h-.9zM66.6 229.8h.9v.9h-.9zM69.5 230.9h.9v.9h-.9zM68.9 225.4h.9v.9h-.9zM69.9 222.5h.9v.9h-.9zM76.4 226.9h.9v.9h-.9zM67.9 229.3h.9v.9h-.9zM71.0 229.1h.9v.9h-.9zM70.0 228.1h.9v.9h-.9zM68.2 232.4h.9v.9h-.9zM65.2 227.4h.9v.9h-.9zM61.8 224.7h.9v.9h-.9zM67.7 221.7h.9v.9h-.9zM74.1 221.9h.9v.9h-.9zM64.3 224.0h.9v.9h-.9zM67.3 228.3h.9v.9h-.9zM72.2 221.7h.9v.9h-.9zM75.3 232.4h.9v.9h-.9zM69.0 225.2h.9v.9h-.9zM67.4 222.7h.9v.9h-.9zM61.2 224.0h.9v.9h-.9zM65.6 230.6h.9v.9h-.9zM67.0 223.3h.9v.9h-.9zM65.4 222.4h.9v.9h-.9zM70.7 225.7h.9v.9h-.9zM68.0 224.7h.9v.9h-.9zM68.0 228.4h.9v.9h-.9zM71.0 230.8h.9v.9h-.9zM71.3 233.6h.9v.9h-.9zM72.6 229.9h.9v.9h-.9zM69.5 224.1h.9v.9h-.9zM69.6 234.0h.9v.9h-.9zM59.6 228.1h.9v.9h-.9zM66.2 230.2h.9v.9h-.9zM71.6 224.9h.9v.9h-.9zM76.1 223.9h.9v.9h-.9zM69.7 231.8h.9v.9h-.9zM70.0 225.2h.9v.9h-.9zM72.1 219.3h.9v.9h-.9zM68.2 219.5h.9v.9h-.9zM76.0 233.2h.9v.9h-.9zM73.6 231.1h.9v.9h-.9zM67.7 221.9h.9v.9h-.9zM66.7 221.5h.9v.9h-.9zM68.3 224.6h.9v.9h-.9zM71.7 224.1h.9v.9h-.9zM69.7 220.9h.9v.9h-.9zM69.5 222.3h.9v.9h-.9zM67.4 225.7h.9v.9h-.9zM66.7 226.2h.9v.9h-.9zM71.9 220.5h.9v.9h-.9zM59.1 231.9h.9v.9h-.9zM77.2 222.1h.9v.9h-.9zM73.4 229.8h.9v.9h-.9zM67.5 219.6h.9v.9h-.9zM76.8 227.1h.9v.9h-.9zM63.5 228.5h.9v.9h-.9zM69.5 222.5h.9v.9h-.9zM76.7 228.0h.9v.9h-.9zM68.1 227.4h.9v.9h-.9zM76.3 237.8h.9v.9h-.9zM68.1 222.8h.9v.9h-.9zM73.2 234.2h.9v.9h-.9zM65.7 220.6h.9v.9h-.9zM70.9 229.7h.9v.9h-.9zM68.5 225.9h.9v.9h-.9zM67.1 226.9h.9v.9h-.9zM70.0 226.0h.9v.9h-.9zM75.2 223.4h.9v.9h-.9zM68.1 224.6h.9v.9h-.9zM66.8 220.8h.9v.9h-.9zM66.1 226.2h.9v.9h-.9zM61.4 225.4h.9v.9h-.9zM73.5 233.3h.9v.9h-.9zM65.6 227.9h.9v.9h-.9zM68.5 231.4h.9v.9h-.9zM65.3 221.1h.9v.9h-.9zM71.8 222.4h.9v.9h-.9zM56.9 224.9h.9v.9h-.9zM68.4 226.9h.9v.9h-.9zM66.7 229.7h.9v.9h-.9zM71.1 229.6h.9v.9h-.9zM76.6 228.4h.9v.9h-.9zM60.5 227.0h.9v.9h-.9zM66.3 218.7h.9v.9h-.9zM68.4 222.0h.9v.9h-.9zM67.9 222.8h.9v.9h-.9zM63.4 223.9h.9v.9h-.9zM68.6 223.2h.9v.9h-.9zM64.3 233.5h.9v.9h-.9zM71.8 213.6h.9v.9h-.9zM70.2 228.3h.9v.9h-.9zM73.0 230.8h.9v.9h-.9zM68.1 219.1h.9v.9h-.9zM69.1 220.4h.9v.9h-.9zM60.3 221.9h.9v.9h-.9zM64.9 220.4h.9v.9h-.9zM64.5 223.1h.9v.9h-.9zM68.5 219.8h.9v.9h-.9zM71.0 229.7h.9v.9h-.9zM64.7 228.5h.9v.9h-.9zM64.9 224.3h.9v.9h-.9zM65.1 229.3h.9v.9h-.9zM61.2 235.3h.9v.9h-.9zM68.8 226.5h.9v.9h-.9zM67.6 221.3h.9v.9h-.9zM63.4 228.1h.9v.9h-.9zM66.4 228.7h.9v.9h-.9zM75.9 227.0h.9v.9h-.9zM71.1 224.6h.9v.9h-.9zM65.0 227.0h.9v.9h-.9zM75.7 229.7h.9v.9h-.9zM69.7 223.0h.9v.9h-.9zM68.1 233.5h.9v.9h-.9zM69.5 220.9h.9v.9h-.9zM66.1 228.3h.9v.9h-.9zM70.5 216.9h.9v.9h-.9zM69.4 224.2h.9v.9h-.9zM59.1 218.3h.9v.9h-.9zM67.3 220.9h.9v.9h-.9zM69.1 227.4h.9v.9h-.9zM68.1 224.3h.9v.9h-.9zM70.3 219.4h.9v.9h-.9zM60.4 227.7h.9v.9h-.9zM73.0 223.3h.9v.9h-.9zM72.4 229.8h.9v.9h-.9zM65.7 227.8h.9v.9h-.9zM73.8 222.7h.9v.9h-.9zM70.2 228.4h.9v.9h-.9zM65.5 231.3h.9v.9h-.9zM66.4 230.7h.9v.9h-.9zM69.2 223.2h.9v.9h-.9zM67.6 221.8h.9v.9h-.9zM77.0 222.0h.9v.9h-.9zM65.8 231.8h.9v.9h-.9zM71.2 229.2h.9v.9h-.9zM64.4 221.3h.9v.9h-.9zM67.7 227.1h.9v.9h-.9zM71.7 230.4h.9v.9h-.9zM69.8 229.7h.9v.9h-.9zM62.2 219.1h.9v.9h-.9zM65.3 225.7h.9v.9h-.9zM65.6 224.1h.9v.9h-.9zM68.7 223.3h.9v.9h-.9zM67.9 231.2h.9v.9h-.9zM70.2 224.5h.9v.9h-.9zM69.0 228.4h.9v.9h-.9zM69.0 230.3h.9v.9h-.9zM63.2 231.0h.9v.9h-.9zM64.7 229.1h.9v.9h-.9zM63.0 231.1h.9v.9h-.9zM71.5 223.2h.9v.9h-.9zM70.8 224.3h.9v.9h-.9zM72.8 225.2h.9v.9h-.9zM66.7 221.8h.9v.9h-.9zM68.0 228.6h.9v.9h-.9zM70.9 223.1h.9v.9h-.9zM66.9 221.0h.9v.9h-.9zM65.7 225.5h.9v.9h-.9z"/>
<path fill="#2a9a7a" fill-opacity="0.9" d="M69.2 228.5h.9v.9h-.9zM67.0 222.6h.9v.9h-.9zM72.0 226.1h.9v.9h-.9zM67.4 226.5h.9v.9h-.9zM68.1 228.1h.9v.9h-.9zM69.6 222.6h.9v.9h-.9zM67.4 228.1h.9v.9h-.9zM67.8 228.4h.9v.9h-.9zM65.8 230.4h.9v.9h-.9zM69.1 221.5h.9v.9h-.9zM70.9 223.2h.9v.9h-.9zM68.8 226.6h.9v.9h-.9zM69.2 228.0h.9v.9h-.9zM63.9 225.1h.9v.9h-.9zM66.1 224.4h.9v.9h-.9zM68.6 234.5h.9v.9h-.9zM68.3 223.3h.9v.9h-.9zM74.8 228.5h.9v.9h-.9zM68.1 231.9h.9v.9h-.9zM70.8 229.0h.9v.9h-.9zM65.1 231.0h.9v.9h-.9zM67.9 227.4h.9v.9h-.9zM69.6 231.2h.9v.9h-.9zM71.7 225.5h.9v.9h-.9zM67.4 223.8h.9v.9h-.9zM68.1 227.3h.9v.9h-.9zM69.0 226.0h.9v.9h-.9zM66.6 224.2h.9v.9h-.9zM69.2 229.0h.9v.9h-.9zM69.9 225.1h.9v.9h-.9zM70.0 229.7h.9v.9h-.9zM66.7 223.1h.9v.9h-.9zM70.3 231.6h.9v.9h-.9zM69.4 227.2h.9v.9h-.9zM68.4 229.6h.9v.9h-.9zM65.2 226.6h.9v.9h-.9zM67.5 219.8h.9v.9h-.9zM67.6 226.2h.9v.9h-.9zM68.5 225.5h.9v.9h-.9zM67.7 227.6h.9v.9h-.9zM64.9 222.9h.9v.9h-.9zM69.6 227.9h.9v.9h-.9zM70.4 222.4h.9v.9h-.9zM71.1 228.9h.9v.9h-.9zM68.9 223.1h.9v.9h-.9zM70.2 229.7h.9v.9h-.9zM67.7 227.5h.9v.9h-.9zM69.5 228.7h.9v.9h-.9zM69.9 228.2h.9v.9h-.9zM65.4 224.8h.9v.9h-.9zM64.7 229.1h.9v.9h-.9zM70.1 227.5h.9v.9h-.9zM72.6 223.6h.9v.9h-.9zM71.8 223.6h.9v.9h-.9zM64.1 224.9h.9v.9h-.9zM67.2 225.4h.9v.9h-.9zM68.2 227.4h.9v.9h-.9zM69.7 224.2h.9v.9h-.9zM65.8 228.1h.9v.9h-.9zM71.3 228.8h.9v.9h-.9zM69.5 220.9h.9v.9h-.9zM69.8 224.3h.9v.9h-.9zM70.7 230.1h.9v.9h-.9zM67.4 223.3h.9v.9h-.9zM67.5 227.5h.9v.9h-.9zM69.6 223.1h.9v.9h-.9zM69.1 223.5h.9v.9h-.9zM67.0 229.3h.9v.9h-.9zM68.1 219.8h.9v.9h-.9zM66.0 229.7h.9v.9h-.9zM64.3 229.4h.9v.9h-.9zM68.4 222.2h.9v.9h-.9zM67.0 227.9h.9v.9h-.9zM71.5 222.5h.9v.9h-.9zM67.9 227.2h.9v.9h-.9zM70.3 233.3h.9v.9h-.9zM72.5 227.4h.9v.9h-.9zM65.3 225.4h.9v.9h-.9zM65.9 225.3h.9v.9h-.9zM67.3 225.6h.9v.9h-.9zM69.2 225.4h.9v.9h-.9zM70.6 229.5h.9v.9h-.9zM65.5 221.8h.9v.9h-.9zM66.3 219.6h.9v.9h-.9zM68.6 226.2h.9v.9h-.9zM68.6 231.2h.9v.9h-.9zM69.9 229.1h.9v.9h-.9zM68.4 224.3h.9v.9h-.9zM63.2 224.9h.9v.9h-.9zM68.2 223.0h.9v.9h-.9zM66.3 226.4h.9v.9h-.9zM72.3 224.8h.9v.9h-.9zM67.4 223.7h.9v.9h-.9zM67.9 222.6h.9v.9h-.9zM68.9 223.3h.9v.9h-.9zM70.9 223.0h.9v.9h-.9zM65.3 227.2h.9v.9h-.9zM69.2 222.6h.9v.9h-.9zM68.5 226.0h.9v.9h-.9zM71.3 223.2h.9v.9h-.9zM63.6 226.4h.9v.9h-.9zM69.5 228.2h.9v.9h-.9zM67.2 220.6h.9v.9h-.9zM62.9 232.9h.9v.9h-.9zM67.8 225.3h.9v.9h-.9zM68.9 226.9h.9v.9h-.9zM66.3 224.9h.9v.9h-.9zM68.1 229.3h.9v.9h-.9zM72.9 229.1h.9v.9h-.9zM69.9 222.8h.9v.9h-.9zM66.3 226.9h.9v.9h-.9zM66.5 224.4h.9v.9h-.9zM74.2 224.9h.9v.9h-.9zM67.6 220.5h.9v.9h-.9zM69.3 226.8h.9v.9h-.9zM67.5 227.3h.9v.9h-.9zM62.0 230.2h.9v.9h-.9zM71.3 219.5h.9v.9h-.9zM68.6 228.1h.9v.9h-.9zM70.1 226.4h.9v.9h-.9zM71.0 227.3h.9v.9h-.9zM67.1 230.3h.9v.9h-.9zM65.2 224.5h.9v.9h-.9zM67.0 230.7h.9v.9h-.9zM66.8 221.6h.9v.9h-.9zM65.6 226.7h.9v.9h-.9zM68.1 226.9h.9v.9h-.9zM65.0 226.9h.9v.9h-.9zM70.1 231.5h.9v.9h-.9zM71.7 222.0h.9v.9h-.9zM69.4 222.9h.9v.9h-.9zM69.1 228.2h.9v.9h-.9zM67.7 217.4h.9v.9h-.9zM68.5 226.3h.9v.9h-.9zM66.9 228.3h.9v.9h-.9zM67.3 225.2h.9v.9h-.9zM69.5 223.8h.9v.9h-.9zM70.1 224.6h.9v.9h-.9zM67.7 227.8h.9v.9h-.9zM71.4 225.2h.9v.9h-.9zM68.6 225.1h.9v.9h-.9zM64.5 224.8h.9v.9h-.9zM73.9 225.3h.9v.9h-.9zM70.1 227.8h.9v.9h-.9zM71.2 226.0h.9v.9h-.9zM70.0 225.4h.9v.9h-.9zM74.0 227.2h.9v.9h-.9zM68.0 229.9h.9v.9h-.9zM66.2 229.1h.9v.9h-.9zM73.6 223.1h.9v.9h-.9zM69.6 224.4h.9v.9h-.9zM68.4 225.5h.9v.9h-.9zM63.3 229.7h.9v.9h-.9zM68.2 228.9h.9v.9h-.9zM66.7 225.0h.9v.9h-.9zM67.3 221.8h.9v.9h-.9zM72.7 229.8h.9v.9h-.9zM71.6 228.1h.9v.9h-.9zM67.5 227.4h.9v.9h-.9zM75.6 231.0h.9v.9h-.9z"/>
<path fill="#c8c828" d="M68.6 223.7h.9v.9h-.9zM69.2 220.9h.9v.9h-.9zM69.8 224.7h.9v.9h-.9zM67.7 228.0h.9v.9h-.9zM70.6 225.4h.9v.9h-.9zM66.6 222.5h.9v.9h-.9zM66.3 227.1h.9v.9h-.9zM68.7 224.7h.9v.9h-.9zM68.3 225.4h.9v.9h-.9zM66.0 225.2h.9v.9h-.9zM70.2 229.2h.9v.9h-.9zM67.1 226.2h.9v.9h-.9zM66.2 227.1h.9v.9h-.9zM67.9 225.8h.9v.9h-.9zM70.2 227.4h.9v.9h-.9zM68.9 226.8h.9v.9h-.9zM69.2 222.2h.9v.9h-.9zM68.8 225.0h.9v.9h-.9zM70.7 225.9h.9v.9h-.9zM66.8 224.7h.9v.9h-.9zM69.7 226.0h.9v.9h-.9zM68.2 228.3h.9v.9h-.9zM69.1 225.6h.9v.9h-.9zM70.2 227.1h.9v.9h-.9zM68.9 226.6h.9v.9h-.9zM63.7 227.8h.9v.9h-.9zM67.4 227.2h.9v.9h-.9zM67.1 225.9h.9v.9h-.9zM66.0 227.4h.9v.9h-.9zM66.8 228.8h.9v.9h-.9zM68.3 226.6h.9v.9h-.9zM66.8 224.3h.9v.9h-.9zM68.7 225.3h.9v.9h-.9zM68.0 222.9h.9v.9h-.9zM67.5 226.5h.9v.9h-.9zM66.0 223.7h.9v.9h-.9zM66.3 226.1h.9v.9h-.9zM67.2 223.4h.9v.9h-.9zM67.1 226.3h.9v.9h-.9zM66.1 226.3h.9v.9h-.9zM72.2 222.0h.9v.9h-.9zM66.7 225.2h.9v.9h-.9zM68.4 228.4h.9v.9h-.9zM68.0 224.3h.9v.9h-.9zM65.8 219.1h.9v.9h-.9zM65.1 228.6h.9v.9h-.9zM65.9 226.8h.9v.9h-.9zM68.8 224.8h.9v.9h-.9zM65.4 230.3h.9v.9h-.9zM69.3 226.4h.9v.9h-.9zM65.4 226.2h.9v.9h-.9zM65.5 222.5h.9v.9h-.9zM68.0 225.7h.9v.9h-.9zM68.4 226.0h.9v.9h-.9zM67.7 225.9h.9v.9h-.9zM65.8 225.3h.9v.9h-.9zM69.0 229.3h.9v.9h-.9zM64.6 228.2h.9v.9h-.9zM66.7 227.8h.9v.9h-.9zM66.8 225.4h.9v.9h-.9zM68.1 225.6h.9v.9h-.9zM68.1 227.4h.9v.9h-.9zM69.4 224.2h.9v.9h-.9zM69.4 226.1h.9v.9h-.9zM65.8 223.6h.9v.9h-.9zM70.2 227.8h.9v.9h-.9zM66.5 227.2h.9v.9h-.9zM66.5 226.7h.9v.9h-.9zM71.6 225.5h.9v.9h-.9zM70.3 224.2h.9v.9h-.9zM67.8 224.8h.9v.9h-.9zM71.0 226.5h.9v.9h-.9zM67.0 223.4h.9v.9h-.9zM67.6 227.1h.9v.9h-.9zM69.8 224.6h.9v.9h-.9zM69.5 226.0h.9v.9h-.9zM67.7 226.3h.9v.9h-.9zM71.5 225.2h.9v.9h-.9zM68.1 225.6h.9v.9h-.9zM67.4 226.2h.9v.9h-.9zM67.6 222.3h.9v.9h-.9zM68.7 222.5h.9v.9h-.9zM68.2 226.0h.9v.9h-.9zM70.6 227.8h.9v.9h-.9zM69.0 223.7h.9v.9h-.9zM68.4 229.5h.9v.9h-.9zM69.1 226.9h.9v.9h-.9zM72.6 225.8h.9v.9h-.9zM65.7 227.4h.9v.9h-.9zM68.7 223.4h.9v.9h-.9z"/>
<path fill="#e07a20" d="M69.6 225.4h.9v.9h-.9zM70.1 224.3h.9v.9h-.9zM69.4 226.5h.9v.9h-.9zM68.2 226.5h.9v.9h-.9zM66.6 228.3h.9v.9h-.9zM68.9 226.0h.9v.9h-.9zM70.2 228.3h.9v.9h-.9zM66.7 225.6h.9v.9h-.9zM66.5 225.3h.9v.9h-.9zM67.6 226.5h.9v.9h-.9zM68.0 223.8h.9v.9h-.9zM68.6 224.9h.9v.9h-.9zM68.9 224.1h.9v.9h-.9zM67.2 225.0h.9v.9h-.9zM67.7 225.4h.9v.9h-.9zM68.7 226.1h.9v.9h-.9zM68.3 225.8h.9v.9h-.9zM67.7 223.8h.9v.9h-.9zM67.6 225.1h.9v.9h-.9zM67.8 223.5h.9v.9h-.9zM67.6 225.0h.9v.9h-.9zM67.2 225.1h.9v.9h-.9zM68.0 226.2h.9v.9h-.9zM68.9 224.4h.9v.9h-.9zM68.6 225.3h.9v.9h-.9zM68.0 226.9h.9v.9h-.9zM68.8 225.9h.9v.9h-.9zM67.1 225.2h.9v.9h-.9zM69.0 224.8h.9v.9h-.9zM67.3 224.4h.9v.9h-.9zM68.2 224.5h.9v.9h-.9zM70.6 225.6h.9v.9h-.9zM68.2 225.0h.9v.9h-.9zM68.5 226.1h.9v.9h-.9zM67.8 225.1h.9v.9h-.9zM69.1 225.7h.9v.9h-.9zM68.7 225.6h.9v.9h-.9zM67.6 226.1h.9v.9h-.9zM68.7 225.6h.9v.9h-.9zM68.1 226.5h.9v.9h-.9zM67.3 226.1h.9v.9h-.9zM68.0 225.7h.9v.9h-.9zM68.8 224.0h.9v.9h-.9zM68.0 225.6h.9v.9h-.9zM68.3 227.9h.9v.9h-.9z"/>
<path fill="#5464b8" fill-opacity="0.7" d="M84.5 224.7h.9v.9h-.9zM94.6 218.8h.9v.9h-.9zM94.3 226.4h.9v.9h-.9zM85.7 223.6h.9v.9h-.9zM84.9 227.7h.9v.9h-.9zM84.5 220.7h.9v.9h-.9zM84.1 222.3h.9v.9h-.9zM89.8 224.4h.9v.9h-.9zM95.5 219.4h.9v.9h-.9zM90.9 223.5h.9v.9h-.9zM89.2 222.4h.9v.9h-.9zM86.3 225.7h.9v.9h-.9zM96.4 220.2h.9v.9h-.9zM91.9 221.8h.9v.9h-.9zM93.4 223.3h.9v.9h-.9zM80.1 222.3h.9v.9h-.9zM89.4 226.9h.9v.9h-.9zM98.1 227.1h.9v.9h-.9zM90.2 225.5h.9v.9h-.9zM87.1 228.1h.9v.9h-.9zM83.6 221.6h.9v.9h-.9zM95.3 220.4h.9v.9h-.9zM90.8 227.5h.9v.9h-.9zM91.1 226.0h.9v.9h-.9zM90.3 225.0h.9v.9h-.9zM80.8 228.9h.9v.9h-.9zM87.2 223.2h.9v.9h-.9zM90.4 227.8h.9v.9h-.9zM87.3 224.0h.9v.9h-.9zM95.7 226.2h.9v.9h-.9zM86.6 223.5h.9v.9h-.9zM89.4 222.1h.9v.9h-.9zM82.0 222.3h.9v.9h-.9zM80.3 229.9h.9v.9h-.9zM83.3 225.9h.9v.9h-.9zM76.7 222.8h.9v.9h-.9zM99.9 223.8h.9v.9h-.9zM78.7 223.1h.9v.9h-.9zM78.1 218.7h.9v.9h-.9zM99.5 223.3h.9v.9h-.9zM90.5 227.7h.9v.9h-.9zM84.4 224.9h.9v.9h-.9zM89.7 222.2h.9v.9h-.9zM86.9 221.0h.9v.9h-.9zM79.6 226.1h.9v.9h-.9zM85.7 215.8h.9v.9h-.9zM100.4 224.1h.9v.9h-.9zM87.9 228.3h.9v.9h-.9zM73.3 224.3h.9v.9h-.9zM83.0 225.0h.9v.9h-.9zM96.0 224.7h.9v.9h-.9zM83.3 223.7h.9v.9h-.9zM94.7 226.1h.9v.9h-.9zM92.4 224.9h.9v.9h-.9zM83.1 225.0h.9v.9h-.9zM80.8 224.1h.9v.9h-.9zM86.1 225.1h.9v.9h-.9zM97.0 224.6h.9v.9h-.9zM93.9 223.7h.9v.9h-.9zM85.3 226.1h.9v.9h-.9zM88.4 220.9h.9v.9h-.9zM88.9 223.9h.9v.9h-.9zM91.7 225.6h.9v.9h-.9zM84.3 226.2h.9v.9h-.9zM76.1 228.9h.9v.9h-.9zM80.9 225.5h.9v.9h-.9zM97.8 223.2h.9v.9h-.9zM78.6 221.2h.9v.9h-.9zM87.9 224.8h.9v.9h-.9zM96.5 223.2h.9v.9h-.9zM86.7 223.6h.9v.9h-.9zM88.6 221.4h.9v.9h-.9zM85.4 222.4h.9v.9h-.9zM94.2 222.8h.9v.9h-.9zM86.5 230.0h.9v.9h-.9zM89.6 226.3h.9v.9h-.9zM70.5 224.8h.9v.9h-.9zM92.1 225.4h.9v.9h-.9zM89.5 223.1h.9v.9h-.9zM79.0 226.7h.9v.9h-.9zM86.1 219.3h.9v.9h-.9zM98.9 228.1h.9v.9h-.9zM81.3 228.2h.9v.9h-.9zM75.3 225.2h.9v.9h-.9zM83.8 224.4h.9v.9h-.9zM93.2 226.8h.9v.9h-.9zM92.5 224.7h.9v.9h-.9zM94.7 221.6h.9v.9h-.9zM91.2 222.9h.9v.9h-.9zM81.5 224.5h.9v.9h-.9zM92.7 225.5h.9v.9h-.9zM97.9 222.0h.9v.9h-.9zM79.9 223.9h.9v.9h-.9zM99.1 218.8h.9v.9h-.9zM87.0 223.6h.9v.9h-.9zM91.5 222.9h.9v.9h-.9zM89.0 225.7h.9v.9h-.9zM80.2 223.9h.9v.9h-.9zM81.7 224.9h.9v.9h-.9zM95.3 227.6h.9v.9h-.9zM83.3 223.6h.9v.9h-.9zM96.5 218.4h.9v.9h-.9zM94.6 225.3h.9v.9h-.9zM84.0 224.8h.9v.9h-.9zM88.2 218.1h.9v.9h-.9zM93.7 226.7h.9v.9h-.9zM102.1 223.0h.9v.9h-.9zM85.8 224.6h.9v.9h-.9zM81.2 225.1h.9v.9h-.9zM89.7 222.4h.9v.9h-.9zM85.3 232.1h.9v.9h-.9zM97.7 224.4h.9v.9h-.9zM97.7 226.8h.9v.9h-.9zM75.6 227.1h.9v.9h-.9zM91.0 229.8h.9v.9h-.9zM89.0 225.0h.9v.9h-.9zM91.0 224.7h.9v.9h-.9zM75.5 229.0h.9v.9h-.9zM82.4 227.7h.9v.9h-.9zM96.4 224.9h.9v.9h-.9zM85.9 223.8h.9v.9h-.9zM82.6 222.7h.9v.9h-.9zM83.0 228.8h.9v.9h-.9zM87.6 222.8h.9v.9h-.9zM90.4 224.7h.9v.9h-.9zM88.0 228.1h.9v.9h-.9zM91.0 223.1h.9v.9h-.9zM91.6 219.6h.9v.9h-.9zM67.6 225.7h.9v.9h-.9zM86.1 223.3h.9v.9h-.9zM89.5 225.6h.9v.9h-.9zM81.8 221.6h.9v.9h-.9zM89.3 223.8h.9v.9h-.9zM88.4 226.3h.9v.9h-.9zM90.9 223.1h.9v.9h-.9zM92.4 218.4h.9v.9h-.9zM80.5 222.7h.9v.9h-.9zM97.6 224.3h.9v.9h-.9zM80.3 221.0h.9v.9h-.9zM85.6 224.0h.9v.9h-.9zM90.4 228.2h.9v.9h-.9zM91.5 224.8h.9v.9h-.9zM88.7 229.1h.9v.9h-.9zM82.9 223.4h.9v.9h-.9zM97.1 223.3h.9v.9h-.9zM89.3 227.8h.9v.9h-.9zM92.6 222.0h.9v.9h-.9zM80.9 225.6h.9v.9h-.9zM98.0 223.8h.9v.9h-.9zM92.3 227.5h.9v.9h-.9zM85.6 227.0h.9v.9h-.9zM88.4 223.6h.9v.9h-.9zM83.1 224.0h.9v.9h-.9zM79.0 221.1h.9v.9h-.9zM79.8 225.0h.9v.9h-.9zM87.5 226.2h.9v.9h-.9zM80.8 223.9h.9v.9h-.9zM90.6 228.8h.9v.9h-.9zM82.7 224.2h.9v.9h-.9zM88.5 229.5h.9v.9h-.9zM101.3 220.3h.9v.9h-.9zM88.8 225.2h.9v.9h-.9zM87.8 223.7h.9v.9h-.9zM94.8 220.8h.9v.9h-.9zM85.1 226.7h.9v.9h-.9zM87.2 222.6h.9v.9h-.9zM81.2 227.8h.9v.9h-.9zM85.1 220.8h.9v.9h-.9zM92.4 225.3h.9v.9h-.9zM88.7 224.9h.9v.9h-.9zM83.3 221.3h.9v.9h-.9zM96.1 222.5h.9v.9h-.9zM95.1 222.6h.9v.9h-.9zM83.5 223.9h.9v.9h-.9zM73.9 225.6h.9v.9h-.9zM88.3 224.2h.9v.9h-.9zM86.1 225.6h.9v.9h-.9zM83.2 221.8h.9v.9h-.9zM74.0 225.1h.9v.9h-.9zM89.0 223.0h.9v.9h-.9zM98.7 225.0h.9v.9h-.9zM81.0 221.8h.9v.9h-.9zM87.0 224.1h.9v.9h-.9zM77.0 225.7h.9v.9h-.9zM87.2 223.6h.9v.9h-.9zM98.8 228.4h.9v.9h-.9zM85.0 223.7h.9v.9h-.9zM84.8 218.0h.9v.9h-.9zM94.9 221.1h.9v.9h-.9zM89.7 223.0h.9v.9h-.9zM77.2 225.3h.9v.9h-.9zM86.8 225.5h.9v.9h-.9zM95.5 220.9h.9v.9h-.9zM91.1 224.2h.9v.9h-.9zM73.7 221.7h.9v.9h-.9zM78.9 220.3h.9v.9h-.9zM95.5 226.4h.9v.9h-.9zM91.2 226.4h.9v.9h-.9zM93.0 226.7h.9v.9h-.9zM97.9 225.3h.9v.9h-.9zM80.2 219.3h.9v.9h-.9zM89.0 223.0h.9v.9h-.9zM94.3 221.6h.9v.9h-.9zM95.7 222.9h.9v.9h-.9zM97.6 226.3h.9v.9h-.9zM97.4 231.3h.9v.9h-.9zM75.2 222.7h.9v.9h-.9zM83.0 224.3h.9v.9h-.9zM83.4 220.4h.9v.9h-.9zM83.7 224.7h.9v.9h-.9zM79.7 226.3h.9v.9h-.9zM89.3 225.8h.9v.9h-.9zM79.3 224.6h.9v.9h-.9zM93.5 225.1h.9v.9h-.9zM93.8 223.8h.9v.9h-.9zM89.5 221.8h.9v.9h-.9zM95.2 225.8h.9v.9h-.9zM96.4 220.6h.9v.9h-.9zM98.4 225.4h.9v.9h-.9zM83.3 221.9h.9v.9h-.9zM84.7 221.2h.9v.9h-.9zM92.8 228.1h.9v.9h-.9zM92.6 225.9h.9v.9h-.9zM93.8 221.2h.9v.9h-.9zM78.5 223.8h.9v.9h-.9zM82.4 224.3h.9v.9h-.9zM87.4 224.0h.9v.9h-.9zM87.7 224.8h.9v.9h-.9zM102.9 224.0h.9v.9h-.9zM86.6 222.8h.9v.9h-.9zM92.0 222.3h.9v.9h-.9zM91.9 220.3h.9v.9h-.9zM80.3 221.3h.9v.9h-.9zM87.4 229.4h.9v.9h-.9zM78.2 222.9h.9v.9h-.9zM91.4 222.3h.9v.9h-.9zM83.5 225.6h.9v.9h-.9zM100.5 226.8h.9v.9h-.9zM85.8 221.2h.9v.9h-.9zM75.9 222.5h.9v.9h-.9zM94.3 225.3h.9v.9h-.9zM85.6 221.0h.9v.9h-.9zM83.7 224.2h.9v.9h-.9zM90.4 228.3h.9v.9h-.9zM80.5 229.7h.9v.9h-.9zM102.8 219.9h.9v.9h-.9zM87.5 227.5h.9v.9h-.9zM93.6 225.8h.9v.9h-.9zM95.6 225.6h.9v.9h-.9zM99.4 222.9h.9v.9h-.9zM85.3 225.8h.9v.9h-.9zM90.7 223.8h.9v.9h-.9zM95.9 219.6h.9v.9h-.9zM103.2 227.0h.9v.9h-.9zM84.8 221.9h.9v.9h-.9zM80.8 225.9h.9v.9h-.9zM75.9 223.2h.9v.9h-.9zM93.3 222.6h.9v.9h-.9zM100.0 224.4h.9v.9h-.9zM83.1 220.9h.9v.9h-.9zM91.1 224.7h.9v.9h-.9zM93.7 222.6h.9v.9h-.9zM71.5 225.4h.9v.9h-.9zM91.9 227.9h.9v.9h-.9zM96.5 225.5h.9v.9h-.9zM88.5 222.5h.9v.9h-.9zM89.8 216.8h.9v.9h-.9zM94.0 219.8h.9v.9h-.9zM98.5 222.7h.9v.9h-.9zM77.2 222.6h.9v.9h-.9zM91.9 220.5h.9v.9h-.9zM86.8 222.6h.9v.9h-.9zM85.7 226.3h.9v.9h-.9zM95.9 220.4h.9v.9h-.9zM83.5 232.8h.9v.9h-.9zM90.9 224.5h.9v.9h-.9zM87.5 225.1h.9v.9h-.9zM94.6 223.3h.9v.9h-.9zM79.0 227.7h.9v.9h-.9zM79.8 223.3h.9v.9h-.9zM82.0 225.3h.9v.9h-.9zM93.8 223.5h.9v.9h-.9zM81.4 223.6h.9v.9h-.9zM91.1 225.4h.9v.9h-.9zM77.1 223.9h.9v.9h-.9zM86.7 224.6h.9v.9h-.9zM92.0 223.5h.9v.9h-.9zM90.2 223.6h.9v.9h-.9zM86.6 222.9h.9v.9h-.9zM88.3 227.1h.9v.9h-.9zM89.0 221.2h.9v.9h-.9zM83.0 225.5h.9v.9h-.9zM83.5 223.9h.9v.9h-.9zM92.8 223.6h.9v.9h-.9zM94.3 226.8h.9v.9h-.9zM82.6 227.7h.9v.9h-.9zM98.2 225.2h.9v.9h-.9zM79.0 229.0h.9v.9h-.9zM86.6 227.0h.9v.9h-.9zM85.4 227.3h.9v.9h-.9zM86.9 228.2h.9v.9h-.9zM80.1 226.5h.9v.9h-.9zM86.9 227.1h.9v.9h-.9zM79.1 222.6h.9v.9h-.9zM84.8 221.7h.9v.9h-.9zM91.5 224.9h.9v.9h-.9zM91.3 225.6h.9v.9h-.9zM92.6 227.9h.9v.9h-.9zM81.1 229.3h.9v.9h-.9zM89.2 226.2h.9v.9h-.9zM90.2 225.6h.9v.9h-.9zM85.2 220.8h.9v.9h-.9zM88.7 229.3h.9v.9h-.9zM85.7 221.5h.9v.9h-.9zM81.3 221.6h.9v.9h-.9zM86.1 224.6h.9v.9h-.9zM78.4 229.2h.9v.9h-.9zM82.3 227.0h.9v.9h-.9zM98.3 226.7h.9v.9h-.9zM92.9 222.1h.9v.9h-.9zM83.3 226.6h.9v.9h-.9zM88.7 226.1h.9v.9h-.9zM95.6 227.2h.9v.9h-.9zM72.5 223.7h.9v.9h-.9zM101.6 222.8h.9v.9h-.9zM100.4 222.3h.9v.9h-.9zM92.1 224.4h.9v.9h-.9zM101.8 223.3h.9v.9h-.9zM82.0 221.6h.9v.9h-.9zM82.5 225.3h.9v.9h-.9zM93.7 226.9h.9v.9h-.9zM88.2 225.6h.9v.9h-.9zM94.6 221.5h.9v.9h-.9zM92.6 222.5h.9v.9h-.9zM84.1 223.1h.9v.9h-.9zM90.9 222.5h.9v.9h-.9zM83.8 221.3h.9v.9h-.9zM87.5 225.2h.9v.9h-.9zM80.9 224.4h.9v.9h-.9zM90.6 222.4h.9v.9h-.9zM90.9 226.3h.9v.9h-.9zM90.3 222.2h.9v.9h-.9zM87.6 223.6h.9v.9h-.9zM97.6 226.3h.9v.9h-.9zM85.6 224.2h.9v.9h-.9zM73.5 225.3h.9v.9h-.9zM82.3 226.4h.9v.9h-.9zM82.0 225.7h.9v.9h-.9zM101.7 225.7h.9v.9h-.9zM83.5 222.9h.9v.9h-.9zM87.9 225.9h.9v.9h-.9zM100.1 222.0h.9v.9h-.9zM82.4 226.8h.9v.9h-.9zM84.6 223.5h.9v.9h-.9zM99.1 225.1h.9v.9h-.9zM93.1 227.2h.9v.9h-.9zM90.1 224.2h.9v.9h-.9zM93.6 227.6h.9v.9h-.9zM73.6 218.6h.9v.9h-.9zM84.5 221.3h.9v.9h-.9zM105.1 224.7h.9v.9h-.9zM75.9 224.5h.9v.9h-.9zM100.7 225.5h.9v.9h-.9zM84.3 224.4h.9v.9h-.9zM86.6 224.8h.9v.9h-.9zM84.8 223.2h.9v.9h-.9zM87.5 222.5h.9v.9h-.9zM85.4 220.5h.9v.9h-.9zM85.0 217.5h.9v.9h-.9zM86.0 228.2h.9v.9h-.9zM77.7 227.7h.9v.9h-.9zM93.8 219.9h.9v.9h-.9zM84.7 222.9h.9v.9h-.9zM103.1 220.1h.9v.9h-.9zM94.4 223.4h.9v.9h-.9zM93.0 220.4h.9v.9h-.9zM95.0 219.9h.9v.9h-.9z"/>
<path fill="#2a8aa0" fill-opacity="0.9" d="M88.4 224.6h.9v.9h-.9zM93.2 221.9h.9v.9h-.9zM84.8 223.3h.9v.9h-.9zM92.3 224.2h.9v.9h-.9zM90.2 224.3h.9v.9h-.9zM92.6 223.6h.9v.9h-.9zM93.6 223.4h.9v.9h-.9zM95.7 226.1h.9v.9h-.9zM90.2 222.7h.9v.9h-.9zM88.1 223.0h.9v.9h-.9zM95.7 223.5h.9v.9h-.9zM88.0 223.7h.9v.9h-.9zM87.2 225.4h.9v.9h-.9zM95.9 225.7h.9v.9h-.9zM97.1 223.0h.9v.9h-.9zM88.6 223.8h.9v.9h-.9zM93.0 224.6h.9v.9h-.9zM84.8 223.3h.9v.9h-.9zM93.2 223.4h.9v.9h-.9zM91.7 221.2h.9v.9h-.9zM84.9 224.5h.9v.9h-.9zM93.0 225.5h.9v.9h-.9zM86.1 223.9h.9v.9h-.9zM88.9 224.6h.9v.9h-.9zM94.1 223.0h.9v.9h-.9zM89.6 224.7h.9v.9h-.9zM86.3 224.4h.9v.9h-.9zM88.4 225.9h.9v.9h-.9zM91.2 224.2h.9v.9h-.9zM94.6 223.8h.9v.9h-.9zM83.3 223.0h.9v.9h-.9zM92.1 224.7h.9v.9h-.9zM92.3 225.0h.9v.9h-.9zM94.3 222.6h.9v.9h-.9zM94.4 224.5h.9v.9h-.9zM89.6 224.1h.9v.9h-.9zM89.1 227.4h.9v.9h-.9zM89.4 224.5h.9v.9h-.9zM90.3 223.7h.9v.9h-.9zM86.7 223.9h.9v.9h-.9zM95.5 225.2h.9v.9h-.9zM89.6 226.6h.9v.9h-.9zM86.0 221.8h.9v.9h-.9zM90.0 223.5h.9v.9h-.9zM93.9 226.4h.9v.9h-.9zM92.2 223.6h.9v.9h-.9zM89.3 224.8h.9v.9h-.9zM84.8 224.8h.9v.9h-.9zM86.4 223.2h.9v.9h-.9zM92.0 222.9h.9v.9h-.9zM89.3 223.1h.9v.9h-.9zM87.5 224.5h.9v.9h-.9zM90.7 223.3h.9v.9h-.9zM92.8 223.3h.9v.9h-.9zM89.1 227.0h.9v.9h-.9zM95.1 224.0h.9v.9h-.9zM92.7 224.0h.9v.9h-.9zM94.0 223.9h.9v.9h-.9zM97.5 224.7h.9v.9h-.9zM94.8 226.4h.9v.9h-.9z"/>
<path fill="#6a78c2" fill-opacity="0.6" d="M82.8 207.2h.9v.9h-.9zM78.2 208.9h.9v.9h-.9zM74.3 208.0h.9v.9h-.9zM79.2 200.7h.9v.9h-.9zM91.0 204.8h.9v.9h-.9zM86.1 217.9h.9v.9h-.9zM85.9 202.7h.9v.9h-.9zM76.1 206.5h.9v.9h-.9zM77.9 210.5h.9v.9h-.9zM82.5 214.2h.9v.9h-.9zM75.1 215.4h.9v.9h-.9zM69.7 202.5h.9v.9h-.9zM89.7 212.6h.9v.9h-.9zM71.3 206.7h.9v.9h-.9zM80.4 215.5h.9v.9h-.9zM71.8 211.9h.9v.9h-.9zM76.9 205.5h.9v.9h-.9zM76.6 215.8h.9v.9h-.9zM88.2 207.8h.9v.9h-.9zM70.6 204.6h.9v.9h-.9zM76.5 212.6h.9v.9h-.9zM69.9 208.4h.9v.9h-.9zM86.2 210.0h.9v.9h-.9zM79.3 214.4h.9v.9h-.9zM79.5 210.8h.9v.9h-.9zM81.2 218.6h.9v.9h-.9zM71.7 215.6h.9v.9h-.9zM79.3 202.7h.9v.9h-.9zM79.0 206.8h.9v.9h-.9zM87.5 203.9h.9v.9h-.9zM85.3 211.4h.9v.9h-.9zM70.8 207.3h.9v.9h-.9zM76.5 218.7h.9v.9h-.9zM78.1 205.6h.9v.9h-.9zM85.0 196.7h.9v.9h-.9zM76.6 215.2h.9v.9h-.9zM87.7 198.3h.9v.9h-.9zM90.1 211.5h.9v.9h-.9zM79.9 216.9h.9v.9h-.9zM77.1 201.4h.9v.9h-.9zM88.6 201.3h.9v.9h-.9zM94.9 206.6h.9v.9h-.9zM71.0 203.1h.9v.9h-.9zM76.8 202.2h.9v.9h-.9zM72.6 207.1h.9v.9h-.9zM80.7 211.2h.9v.9h-.9zM86.2 198.2h.9v.9h-.9zM76.8 199.1h.9v.9h-.9zM71.9 206.6h.9v.9h-.9zM79.4 206.5h.9v.9h-.9zM64.9 212.1h.9v.9h-.9zM81.6 213.0h.9v.9h-.9zM83.8 209.0h.9v.9h-.9zM80.4 205.8h.9v.9h-.9zM83.0 197.7h.9v.9h-.9zM82.9 203.9h.9v.9h-.9zM85.0 204.8h.9v.9h-.9zM65.7 211.2h.9v.9h-.9zM71.0 204.8h.9v.9h-.9zM80.2 207.4h.9v.9h-.9zM79.5 209.6h.9v.9h-.9zM81.8 203.3h.9v.9h-.9zM88.5 204.9h.9v.9h-.9zM83.1 215.1h.9v.9h-.9zM76.7 213.2h.9v.9h-.9zM89.8 211.8h.9v.9h-.9zM81.6 200.0h.9v.9h-.9zM77.8 202.4h.9v.9h-.9zM83.4 210.6h.9v.9h-.9zM79.3 200.0h.9v.9h-.9zM82.7 210.1h.9v.9h-.9zM78.7 207.2h.9v.9h-.9zM86.1 208.7h.9v.9h-.9zM88.1 215.6h.9v.9h-.9zM86.6 213.7h.9v.9h-.9zM81.2 202.4h.9v.9h-.9zM61.7 202.6h.9v.9h-.9zM75.3 203.4h.9v.9h-.9zM84.3 206.4h.9v.9h-.9zM84.7 205.7h.9v.9h-.9zM75.1 209.3h.9v.9h-.9zM72.6 197.8h.9v.9h-.9zM78.3 203.8h.9v.9h-.9zM89.3 206.5h.9v.9h-.9zM68.1 206.6h.9v.9h-.9zM86.1 211.7h.9v.9h-.9zM82.1 197.8h.9v.9h-.9zM78.7 205.3h.9v.9h-.9zM75.0 207.6h.9v.9h-.9zM75.1 203.6h.9v.9h-.9zM72.6 208.9h.9v.9h-.9zM69.0 201.0h.9v.9h-.9zM78.8 211.4h.9v.9h-.9zM80.9 209.5h.9v.9h-.9zM87.6 197.0h.9v.9h-.9zM83.7 210.7h.9v.9h-.9zM89.6 200.8h.9v.9h-.9zM98.4 204.7h.9v.9h-.9zM79.0 209.0h.9v.9h-.9zM79.8 213.5h.9v.9h-.9zM84.3 207.5h.9v.9h-.9zM70.8 208.5h.9v.9h-.9zM81.5 209.4h.9v.9h-.9zM78.5 209.2h.9v.9h-.9zM81.8 208.8h.9v.9h-.9zM83.5 196.3h.9v.9h-.9zM90.2 209.7h.9v.9h-.9zM84.6 200.4h.9v.9h-.9zM76.3 216.7h.9v.9h-.9zM81.4 207.9h.9v.9h-.9zM83.8 206.0h.9v.9h-.9zM88.4 202.4h.9v.9h-.9zM82.3 207.8h.9v.9h-.9zM77.7 204.6h.9v.9h-.9zM75.2 199.9h.9v.9h-.9zM80.5 213.3h.9v.9h-.9zM82.6 217.9h.9v.9h-.9zM73.5 200.9h.9v.9h-.9zM78.2 205.7h.9v.9h-.9zM87.6 200.8h.9v.9h-.9zM71.8 206.4h.9v.9h-.9zM69.7 207.5h.9v.9h-.9zM75.0 206.1h.9v.9h-.9zM75.6 206.7h.9v.9h-.9zM87.0 207.3h.9v.9h-.9zM86.3 200.7h.9v.9h-.9zM81.6 213.4h.9v.9h-.9zM72.9 203.4h.9v.9h-.9zM72.8 208.7h.9v.9h-.9zM75.1 196.5h.9v.9h-.9zM69.3 206.1h.9v.9h-.9zM78.5 204.5h.9v.9h-.9zM79.5 211.8h.9v.9h-.9zM75.5 212.1h.9v.9h-.9zM73.9 225.6h.9v.9h-.9zM79.2 201.8h.9v.9h-.9zM75.5 195.2h.9v.9h-.9zM84.3 213.6h.9v.9h-.9zM85.4 205.7h.9v.9h-.9zM87.5 200.1h.9v.9h-.9zM78.3 209.8h.9v.9h-.9zM81.9 201.7h.9v.9h-.9zM75.8 212.0h.9v.9h-.9zM78.0 195.5h.9v.9h-.9zM88.6 202.4h.9v.9h-.9zM82.3 211.8h.9v.9h-.9zM83.8 207.2h.9v.9h-.9zM77.7 209.9h.9v.9h-.9zM76.6 207.5h.9v.9h-.9zM76.2 202.4h.9v.9h-.9zM79.9 215.4h.9v.9h-.9zM79.1 208.1h.9v.9h-.9zM85.0 199.2h.9v.9h-.9zM83.4 203.9h.9v.9h-.9zM78.9 215.5h.9v.9h-.9zM89.2 218.5h.9v.9h-.9zM75.4 201.4h.9v.9h-.9zM84.4 208.5h.9v.9h-.9zM64.8 214.2h.9v.9h-.9zM84.7 212.9h.9v.9h-.9zM93.9 213.9h.9v.9h-.9zM79.6 197.0h.9v.9h-.9zM79.7 203.6h.9v.9h-.9zM79.8 208.6h.9v.9h-.9zM77.4 206.3h.9v.9h-.9zM81.2 210.2h.9v.9h-.9zM89.0 202.4h.9v.9h-.9zM76.2 221.3h.9v.9h-.9zM81.5 209.6h.9v.9h-.9zM71.8 213.8h.9v.9h-.9zM88.4 212.7h.9v.9h-.9zM69.4 204.4h.9v.9h-.9zM78.8 208.4h.9v.9h-.9zM87.6 212.2h.9v.9h-.9zM69.6 206.6h.9v.9h-.9zM81.3 211.3h.9v.9h-.9zM82.6 217.5h.9v.9h-.9zM78.7 204.0h.9v.9h-.9zM79.5 205.5h.9v.9h-.9zM75.2 207.9h.9v.9h-.9zM80.6 198.3h.9v.9h-.9zM78.1 203.7h.9v.9h-.9zM88.0 209.1h.9v.9h-.9zM79.5 206.3h.9v.9h-.9zM86.5 197.1h.9v.9h-.9zM75.1 212.1h.9v.9h-.9zM71.8 196.9h.9v.9h-.9zM75.5 201.7h.9v.9h-.9zM80.6 200.7h.9v.9h-.9zM87.1 208.5h.9v.9h-.9zM75.1 209.6h.9v.9h-.9zM76.4 209.4h.9v.9h-.9zM76.0 215.5h.9v.9h-.9zM84.7 203.0h.9v.9h-.9zM81.5 204.7h.9v.9h-.9zM69.9 206.2h.9v.9h-.9zM80.9 201.7h.9v.9h-.9zM87.3 219.2h.9v.9h-.9zM73.0 202.0h.9v.9h-.9zM78.1 209.3h.9v.9h-.9zM74.2 204.7h.9v.9h-.9zM86.6 201.9h.9v.9h-.9zM80.0 199.9h.9v.9h-.9zM79.8 204.1h.9v.9h-.9zM87.7 206.9h.9v.9h-.9zM76.6 205.0h.9v.9h-.9zM87.6 211.7h.9v.9h-.9zM78.4 199.0h.9v.9h-.9zM79.5 213.4h.9v.9h-.9zM80.7 199.2h.9v.9h-.9zM81.9 205.8h.9v.9h-.9zM79.9 206.2h.9v.9h-.9zM74.5 202.2h.9v.9h-.9zM85.3 209.6h.9v.9h-.9zM73.8 197.4h.9v.9h-.9zM86.1 210.1h.9v.9h-.9zM80.6 204.4h.9v.9h-.9zM90.8 198.9h.9v.9h-.9zM77.5 210.2h.9v.9h-.9zM82.3 210.1h.9v.9h-.9zM71.5 211.3h.9v.9h-.9zM86.8 204.3h.9v.9h-.9zM85.8 205.4h.9v.9h-.9zM79.7 207.0h.9v.9h-.9zM78.6 207.6h.9v.9h-.9zM87.1 214.4h.9v.9h-.9zM83.6 210.1h.9v.9h-.9zM72.5 206.0h.9v.9h-.9zM82.6 207.6h.9v.9h-.9zM77.0 202.0h.9v.9h-.9zM85.5 210.5h.9v.9h-.9zM63.4 222.5h.9v.9h-.9zM83.4 208.1h.9v.9h-.9zM86.5 210.2h.9v.9h-.9zM89.8 204.7h.9v.9h-.9zM85.4 211.5h.9v.9h-.9zM69.4 218.8h.9v.9h-.9zM77.6 199.8h.9v.9h-.9zM79.5 212.9h.9v.9h-.9zM74.0 206.2h.9v.9h-.9zM77.4 206.1h.9v.9h-.9zM64.2 214.8h.9v.9h-.9zM74.0 210.9h.9v.9h-.9zM80.0 197.0h.9v.9h-.9zM79.2 201.7h.9v.9h-.9zM78.8 203.5h.9v.9h-.9zM79.0 206.4h.9v.9h-.9zM81.1 210.2h.9v.9h-.9zM73.9 214.3h.9v.9h-.9zM91.9 208.5h.9v.9h-.9zM92.1 214.4h.9v.9h-.9zM87.6 204.7h.9v.9h-.9zM87.4 196.0h.9v.9h-.9zM68.6 210.5h.9v.9h-.9zM90.0 209.1h.9v.9h-.9zM73.5 199.4h.9v.9h-.9zM81.2 208.9h.9v.9h-.9zM71.6 206.0h.9v.9h-.9zM78.3 203.9h.9v.9h-.9zM65.4 201.1h.9v.9h-.9zM79.5 217.2h.9v.9h-.9zM88.4 205.0h.9v.9h-.9zM73.9 209.1h.9v.9h-.9zM76.7 207.6h.9v.9h-.9zM84.1 209.1h.9v.9h-.9zM85.7 217.5h.9v.9h-.9zM71.8 215.6h.9v.9h-.9zM67.9 202.5h.9v.9h-.9zM87.3 201.8h.9v.9h-.9zM75.5 208.4h.9v.9h-.9zM75.0 205.2h.9v.9h-.9zM80.6 205.6h.9v.9h-.9zM76.2 203.3h.9v.9h-.9zM73.2 210.4h.9v.9h-.9zM98.7 205.1h.9v.9h-.9zM70.3 217.8h.9v.9h-.9zM86.8 205.2h.9v.9h-.9zM76.1 205.6h.9v.9h-.9zM81.4 200.9h.9v.9h-.9zM80.8 194.7h.9v.9h-.9zM73.2 201.1h.9v.9h-.9zM76.7 206.2h.9v.9h-.9zM77.7 207.6h.9v.9h-.9zM86.9 221.0h.9v.9h-.9zM77.4 209.1h.9v.9h-.9zM77.8 207.8h.9v.9h-.9zM76.4 204.6h.9v.9h-.9zM81.5 214.7h.9v.9h-.9zM80.6 206.6h.9v.9h-.9zM78.0 200.0h.9v.9h-.9zM73.5 207.5h.9v.9h-.9zM85.3 207.4h.9v.9h-.9zM74.4 206.3h.9v.9h-.9zM85.2 206.9h.9v.9h-.9zM85.9 198.8h.9v.9h-.9zM81.7 200.9h.9v.9h-.9zM68.2 207.1h.9v.9h-.9zM82.9 209.7h.9v.9h-.9zM86.7 207.6h.9v.9h-.9zM65.4 211.0h.9v.9h-.9zM85.3 204.7h.9v.9h-.9zM76.9 207.1h.9v.9h-.9zM79.9 200.4h.9v.9h-.9zM85.8 216.8h.9v.9h-.9zM83.5 208.0h.9v.9h-.9zM59.5 209.7h.9v.9h-.9zM82.8 210.4h.9v.9h-.9zM81.1 202.2h.9v.9h-.9zM80.8 206.6h.9v.9h-.9zM80.1 211.8h.9v.9h-.9zM81.4 205.0h.9v.9h-.9zM74.0 196.9h.9v.9h-.9zM90.5 205.4h.9v.9h-.9zM86.3 209.0h.9v.9h-.9zM80.4 209.8h.9v.9h-.9zM80.2 216.0h.9v.9h-.9zM76.9 205.7h.9v.9h-.9zM79.3 209.0h.9v.9h-.9zM88.7 202.9h.9v.9h-.9zM64.7 209.5h.9v.9h-.9zM83.8 206.5h.9v.9h-.9zM79.6 210.6h.9v.9h-.9zM74.2 201.7h.9v.9h-.9zM69.5 206.0h.9v.9h-.9zM74.6 206.2h.9v.9h-.9zM72.6 195.3h.9v.9h-.9zM86.3 209.0h.9v.9h-.9zM86.1 214.1h.9v.9h-.9zM69.3 211.4h.9v.9h-.9zM72.4 194.9h.9v.9h-.9zM72.7 203.5h.9v.9h-.9zM90.4 205.5h.9v.9h-.9zM78.3 209.2h.9v.9h-.9zM81.7 206.1h.9v.9h-.9zM92.1 201.1h.9v.9h-.9zM72.0 195.7h.9v.9h-.9zM72.0 201.4h.9v.9h-.9zM76.2 204.8h.9v.9h-.9zM88.5 211.4h.9v.9h-.9zM76.8 207.9h.9v.9h-.9zM75.4 205.5h.9v.9h-.9zM78.8 218.3h.9v.9h-.9zM72.4 200.9h.9v.9h-.9zM82.4 201.7h.9v.9h-.9zM73.7 208.8h.9v.9h-.9zM73.2 214.5h.9v.9h-.9zM83.5 204.0h.9v.9h-.9zM78.7 203.3h.9v.9h-.9zM88.9 207.5h.9v.9h-.9zM80.6 202.2h.9v.9h-.9zM89.3 206.8h.9v.9h-.9zM75.4 215.4h.9v.9h-.9zM81.6 204.5h.9v.9h-.9zM85.2 204.0h.9v.9h-.9zM78.9 212.3h.9v.9h-.9zM72.5 205.8h.9v.9h-.9zM79.2 208.9h.9v.9h-.9zM73.3 200.6h.9v.9h-.9zM77.7 201.8h.9v.9h-.9zM80.5 206.2h.9v.9h-.9zM80.5 207.8h.9v.9h-.9zM72.9 204.8h.9v.9h-.9zM80.8 213.7h.9v.9h-.9zM81.4 207.1h.9v.9h-.9zM91.9 204.4h.9v.9h-.9zM87.7 210.4h.9v.9h-.9zM72.3 206.7h.9v.9h-.9zM84.4 200.4h.9v.9h-.9zM88.2 204.0h.9v.9h-.9zM82.3 205.7h.9v.9h-.9zM82.1 202.7h.9v.9h-.9zM89.1 202.4h.9v.9h-.9zM89.6 205.1h.9v.9h-.9zM74.1 211.3h.9v.9h-.9zM80.2 205.2h.9v.9h-.9zM72.2 205.3h.9v.9h-.9zM78.7 202.1h.9v.9h-.9zM72.1 201.5h.9v.9h-.9zM73.1 212.7h.9v.9h-.9zM84.5 204.0h.9v.9h-.9zM72.9 206.0h.9v.9h-.9zM82.3 203.3h.9v.9h-.9zM78.4 212.4h.9v.9h-.9zM77.7 204.4h.9v.9h-.9zM86.8 206.2h.9v.9h-.9zM79.0 201.4h.9v.9h-.9zM85.6 208.0h.9v.9h-.9zM77.4 206.0h.9v.9h-.9zM87.7 206.1h.9v.9h-.9zM78.3 207.4h.9v.9h-.9zM79.9 212.0h.9v.9h-.9zM77.6 204.3h.9v.9h-.9zM75.0 207.5h.9v.9h-.9zM71.3 203.7h.9v.9h-.9zM69.8 206.0h.9v.9h-.9zM78.0 205.4h.9v.9h-.9zM75.9 201.8h.9v.9h-.9zM80.6 194.1h.9v.9h-.9zM72.8 215.7h.9v.9h-.9zM80.8 215.0h.9v.9h-.9zM90.9 207.4h.9v.9h-.9zM73.5 209.1h.9v.9h-.9zM74.0 207.1h.9v.9h-.9zM80.9 215.4h.9v.9h-.9zM78.3 205.7h.9v.9h-.9zM78.0 219.7h.9v.9h-.9zM78.7 211.5h.9v.9h-.9zM74.6 204.5h.9v.9h-.9zM95.9 202.0h.9v.9h-.9zM82.7 209.9h.9v.9h-.9zM82.8 212.3h.9v.9h-.9zM77.8 215.1h.9v.9h-.9zM81.5 205.7h.9v.9h-.9zM82.6 207.5h.9v.9h-.9zM78.6 209.8h.9v.9h-.9zM74.6 209.2h.9v.9h-.9zM77.5 192.8h.9v.9h-.9zM86.0 206.2h.9v.9h-.9zM77.8 204.8h.9v.9h-.9zM70.2 199.8h.9v.9h-.9zM82.2 205.1h.9v.9h-.9zM86.3 217.3h.9v.9h-.9zM76.4 198.2h.9v.9h-.9zM87.3 210.2h.9v.9h-.9zM89.5 208.3h.9v.9h-.9zM81.2 202.4h.9v.9h-.9zM89.5 207.2h.9v.9h-.9zM88.1 207.0h.9v.9h-.9zM76.2 210.7h.9v.9h-.9zM85.7 193.7h.9v.9h-.9zM76.9 210.0h.9v.9h-.9zM86.1 206.9h.9v.9h-.9zM74.9 208.7h.9v.9h-.9zM77.1 191.6h.9v.9h-.9zM68.2 209.1h.9v.9h-.9zM74.7 210.4h.9v.9h-.9zM84.9 193.2h.9v.9h-.9zM80.1 198.5h.9v.9h-.9zM86.0 196.1h.9v.9h-.9zM86.8 205.1h.9v.9h-.9zM79.2 207.5h.9v.9h-.9zM74.2 206.2h.9v.9h-.9zM98.7 207.1h.9v.9h-.9zM74.8 219.0h.9v.9h-.9zM85.4 207.6h.9v.9h-.9zM81.6 199.0h.9v.9h-.9zM76.5 201.4h.9v.9h-.9zM89.3 212.7h.9v.9h-.9zM80.2 200.8h.9v.9h-.9zM69.7 203.3h.9v.9h-.9zM72.9 207.3h.9v.9h-.9zM70.0 207.9h.9v.9h-.9zM79.3 202.1h.9v.9h-.9zM80.7 201.8h.9v.9h-.9zM77.1 202.3h.9v.9h-.9zM91.2 199.3h.9v.9h-.9zM80.8 201.7h.9v.9h-.9zM75.9 211.8h.9v.9h-.9zM78.5 206.2h.9v.9h-.9zM66.5 203.5h.9v.9h-.9z"/>
<path fill="#4a5aa8" fill-opacity="0.8" d="M85.6 212.0h.9v.9h-.9zM70.4 205.0h.9v.9h-.9zM78.9 204.8h.9v.9h-.9zM79.8 206.4h.9v.9h-.9zM84.1 213.5h.9v.9h-.9zM83.2 206.2h.9v.9h-.9zM80.5 213.0h.9v.9h-.9zM76.9 209.3h.9v.9h-.9zM76.4 209.8h.9v.9h-.9zM83.9 209.0h.9v.9h-.9zM86.2 208.6h.9v.9h-.9zM82.0 214.2h.9v.9h-.9zM76.8 212.3h.9v.9h-.9zM75.2 207.7h.9v.9h-.9zM78.3 213.8h.9v.9h-.9zM76.2 213.4h.9v.9h-.9zM75.4 209.7h.9v.9h-.9zM82.2 209.5h.9v.9h-.9zM86.1 209.7h.9v.9h-.9zM75.5 208.9h.9v.9h-.9zM82.8 204.0h.9v.9h-.9zM73.1 215.4h.9v.9h-.9zM76.0 212.6h.9v.9h-.9zM81.2 207.1h.9v.9h-.9zM77.2 210.9h.9v.9h-.9zM78.1 212.1h.9v.9h-.9zM80.4 208.7h.9v.9h-.9zM85.0 209.2h.9v.9h-.9zM75.7 208.0h.9v.9h-.9zM78.2 214.4h.9v.9h-.9zM81.8 207.5h.9v.9h-.9zM77.6 209.6h.9v.9h-.9zM79.7 215.4h.9v.9h-.9zM77.7 207.0h.9v.9h-.9zM78.5 208.1h.9v.9h-.9zM82.6 209.6h.9v.9h-.9zM78.0 208.7h.9v.9h-.9zM77.2 208.9h.9v.9h-.9zM79.4 214.5h.9v.9h-.9zM76.6 213.3h.9v.9h-.9zM79.7 206.6h.9v.9h-.9zM85.4 210.7h.9v.9h-.9zM76.0 208.3h.9v.9h-.9zM78.3 206.1h.9v.9h-.9zM80.1 209.3h.9v.9h-.9zM83.8 208.7h.9v.9h-.9zM74.3 213.1h.9v.9h-.9zM83.0 207.1h.9v.9h-.9zM83.9 209.8h.9v.9h-.9zM76.4 211.6h.9v.9h-.9zM80.5 208.2h.9v.9h-.9zM81.2 207.4h.9v.9h-.9zM79.7 210.4h.9v.9h-.9zM81.6 211.0h.9v.9h-.9zM72.8 208.3h.9v.9h-.9zM80.9 211.7h.9v.9h-.9zM76.8 212.6h.9v.9h-.9zM77.0 213.1h.9v.9h-.9zM80.3 210.3h.9v.9h-.9zM75.5 207.2h.9v.9h-.9z"/>
<path fill="#98a0d8" fill-opacity="0.5" d="M80.6 213.7h.9v.9h-.9zM77.1 208.7h.9v.9h-.9zM91.1 205.3h.9v.9h-.9zM83.7 219.4h.9v.9h-.9zM82.4 212.9h.9v.9h-.9zM67.7 226.3h.9v.9h-.9zM91.4 203.5h.9v.9h-.9zM71.0 202.5h.9v.9h-.9zM65.6 210.7h.9v.9h-.9zM69.7 211.7h.9v.9h-.9zM82.7 205.0h.9v.9h-.9zM67.5 219.1h.9v.9h-.9zM86.8 209.7h.9v.9h-.9zM70.4 215.3h.9v.9h-.9zM80.8 219.7h.9v.9h-.9zM80.2 205.9h.9v.9h-.9zM71.5 212.6h.9v.9h-.9zM65.1 204.2h.9v.9h-.9zM86.5 218.4h.9v.9h-.9zM83.7 223.5h.9v.9h-.9zM76.0 205.8h.9v.9h-.9zM79.7 219.1h.9v.9h-.9zM69.8 228.3h.9v.9h-.9zM89.9 200.2h.9v.9h-.9zM70.9 217.7h.9v.9h-.9zM81.8 221.1h.9v.9h-.9zM82.5 210.4h.9v.9h-.9zM74.1 215.2h.9v.9h-.9zM83.0 205.2h.9v.9h-.9zM75.8 211.8h.9v.9h-.9zM74.8 201.5h.9v.9h-.9zM83.3 197.9h.9v.9h-.9zM78.5 204.5h.9v.9h-.9zM78.7 223.7h.9v.9h-.9zM98.9 218.0h.9v.9h-.9zM76.8 201.2h.9v.9h-.9zM76.4 214.3h.9v.9h-.9zM64.1 206.4h.9v.9h-.9zM81.8 214.3h.9v.9h-.9zM74.8 202.2h.9v.9h-.9zM81.1 202.6h.9v.9h-.9zM96.9 209.5h.9v.9h-.9zM73.9 221.6h.9v.9h-.9zM70.3 206.4h.9v.9h-.9zM84.6 198.7h.9v.9h-.9zM81.6 205.3h.9v.9h-.9zM67.5 211.2h.9v.9h-.9zM77.3 210.7h.9v.9h-.9zM82.5 202.5h.9v.9h-.9zM88.3 226.4h.9v.9h-.9zM64.9 206.4h.9v.9h-.9zM78.0 199.0h.9v.9h-.9zM81.4 210.0h.9v.9h-.9zM76.1 216.2h.9v.9h-.9zM74.6 206.8h.9v.9h-.9zM83.5 212.4h.9v.9h-.9zM83.9 221.5h.9v.9h-.9zM69.1 214.3h.9v.9h-.9zM89.7 212.4h.9v.9h-.9zM78.7 215.5h.9v.9h-.9zM83.6 213.3h.9v.9h-.9zM74.3 214.7h.9v.9h-.9zM73.5 212.8h.9v.9h-.9zM77.0 193.2h.9v.9h-.9zM77.2 214.7h.9v.9h-.9zM82.4 210.7h.9v.9h-.9zM69.9 199.3h.9v.9h-.9zM59.9 213.6h.9v.9h-.9zM87.4 223.0h.9v.9h-.9zM94.8 201.0h.9v.9h-.9zM84.4 203.7h.9v.9h-.9zM61.3 210.3h.9v.9h-.9zM73.7 216.3h.9v.9h-.9zM84.7 212.7h.9v.9h-.9zM91.9 227.6h.9v.9h-.9zM75.7 219.4h.9v.9h-.9zM92.4 209.4h.9v.9h-.9zM74.9 213.3h.9v.9h-.9zM73.8 217.1h.9v.9h-.9zM87.7 208.6h.9v.9h-.9z"/>
<rect x="66.1" y="193.8" width="27.4" height="22.4" fill="none" stroke="#454545" stroke-width="0.6"/>
<polygon points="78.6,216.6 102.9,209.6 102.9,229.9 78.6,229.9" fill="none" stroke="#454545" stroke-width="0.6"/>
<rect x="63.8" y="216.2" width="14.8" height="21.7" fill="none" stroke="#454545" stroke-width="0.6"/>
<rect x="51.3" y="217.9" width="12.5" height="19.1" fill="none" stroke="#454545" stroke-width="0.6"/>
<text x="79.2" y="191.8" font-size="4.9" fill="#1a1a1a" text-anchor="middle">S</text>
<text x="68.3" y="198.9" font-size="4.6" fill="#1a1a1a" textLength="6.6" lengthAdjust="spacingAndGlyphs">16.5</text>
<text x="94.2" y="227.9" font-size="4.6" fill="#1a1a1a" textLength="6.6" lengthAdjust="spacingAndGlyphs">18.0</text>
<text x="86.8" y="234.6" font-size="4.6" fill="#1a1a1a" textLength="8.6" lengthAdjust="spacingAndGlyphs">G2M</text>
<text x="70.80000000000001" y="236.3" font-size="4.6" fill="#1a1a1a" textLength="6.6" lengthAdjust="spacingAndGlyphs">51.7</text>
<text x="64.6" y="242.6" font-size="4.6" fill="#1a1a1a" textLength="12.2" lengthAdjust="spacingAndGlyphs">G0/G1</text>
<text x="52.5" y="235.8" font-size="4.6" fill="#1a1a1a" textLength="4.6" lengthAdjust="spacingAndGlyphs">8.0</text>
<text x="45.0" y="216.6" font-size="4.6" fill="#1a1a1a" textLength="13.6" lengthAdjust="spacingAndGlyphs">Sub-G1</text>
<rect x="128.2" y="181.3" width="62.5" height="62.69999999999999" fill="#fff" stroke="#ececec" stroke-width="0.6"/>
<line x1="128.2" y1="181.3" x2="128.2" y2="244.0" stroke="#a0a0a0" stroke-width="0.7" stroke-dasharray="0.7 1.2"/>
<line x1="128.2" y1="244.0" x2="190.7" y2="244.0" stroke="#909090" stroke-width="0.9" stroke-dasharray="0.8 1.1"/>
<text x="158.95" y="177.2" font-size="7.0" fill="#111" text-anchor="middle" textLength="29.8" lengthAdjust="spacingAndGlyphs">Talazoparib</text>
<text x="115.89999999999999" y="200.4" font-size="5.3" fill="#1a1a1a">10<tspan font-size="3.6" dy="-2.1">4</tspan></text>
<line x1="126.79999999999998" y1="198.5" x2="128.2" y2="198.5" stroke="#444" stroke-width="0.8"/>
<text x="115.89999999999999" y="218.0" font-size="5.3" fill="#1a1a1a">10<tspan font-size="3.6" dy="-2.1">3</tspan></text>
<line x1="126.79999999999998" y1="216.1" x2="128.2" y2="216.1" stroke="#444" stroke-width="0.8"/>
<text x="115.89999999999999" y="236.1" font-size="5.3" fill="#1a1a1a">10<tspan font-size="3.6" dy="-2.1">2</tspan></text>
<line x1="126.79999999999998" y1="234.2" x2="128.2" y2="234.2" stroke="#444" stroke-width="0.8"/>
<text x="128.5" y="253.2" font-size="5.0" fill="#1a1a1a" text-anchor="middle">0</text>
<text x="142.79999999999998" y="253.2" font-size="5.0" fill="#1a1a1a" text-anchor="middle">50K</text>
<text x="156.89999999999998" y="253.2" font-size="5.0" fill="#1a1a1a" text-anchor="middle">100K</text>
<text x="171.6" y="253.2" font-size="5.0" fill="#1a1a1a" text-anchor="middle">150K</text>
<text x="185.39999999999998" y="253.2" font-size="5.0" fill="#1a1a1a" text-anchor="middle">200K</text>
<path fill="#4a5fb0" fill-opacity="0.9" d="M131.0 223.0h.9v.9h-.9zM132.4 225.1h.9v.9h-.9zM131.9 225.6h.9v.9h-.9zM129.4 222.1h.9v.9h-.9zM130.7 220.8h.9v.9h-.9zM131.5 223.0h.9v.9h-.9zM132.5 221.1h.9v.9h-.9zM128.9 226.4h.9v.9h-.9zM129.9 219.3h.9v.9h-.9zM131.8 224.0h.9v.9h-.9zM130.2 221.5h.9v.9h-.9zM130.5 223.9h.9v.9h-.9zM129.6 223.0h.9v.9h-.9zM130.8 221.0h.9v.9h-.9zM131.9 223.2h.9v.9h-.9zM129.5 224.1h.9v.9h-.9zM128.8 225.1h.9v.9h-.9zM131.6 218.8h.9v.9h-.9zM130.0 223.9h.9v.9h-.9zM129.3 219.7h.9v.9h-.9zM129.0 219.3h.9v.9h-.9zM130.7 219.7h.9v.9h-.9zM130.4 222.0h.9v.9h-.9zM131.7 222.0h.9v.9h-.9zM130.7 224.3h.9v.9h-.9zM129.6 221.5h.9v.9h-.9zM131.0 222.5h.9v.9h-.9zM128.9 223.6h.9v.9h-.9zM131.0 222.5h.9v.9h-.9zM131.5 220.5h.9v.9h-.9zM131.5 220.2h.9v.9h-.9zM129.8 223.1h.9v.9h-.9zM130.4 227.3h.9v.9h-.9zM131.3 226.0h.9v.9h-.9zM129.5 225.6h.9v.9h-.9zM131.1 218.5h.9v.9h-.9zM130.1 220.3h.9v.9h-.9zM131.5 221.6h.9v.9h-.9zM132.2 226.2h.9v.9h-.9zM130.7 223.7h.9v.9h-.9zM129.8 221.8h.9v.9h-.9zM130.2 219.1h.9v.9h-.9zM131.4 228.6h.9v.9h-.9zM131.8 223.3h.9v.9h-.9zM132.1 222.8h.9v.9h-.9zM131.7 221.7h.9v.9h-.9zM131.1 224.7h.9v.9h-.9zM129.9 220.8h.9v.9h-.9zM130.8 226.0h.9v.9h-.9zM130.9 225.8h.9v.9h-.9zM131.6 226.0h.9v.9h-.9zM130.7 229.7h.9v.9h-.9zM131.4 225.8h.9v.9h-.9zM129.7 221.9h.9v.9h-.9zM129.2 220.8h.9v.9h-.9zM129.6 222.2h.9v.9h-.9zM129.5 221.9h.9v.9h-.9zM129.0 228.3h.9v.9h-.9zM131.3 224.4h.9v.9h-.9zM129.0 223.1h.9v.9h-.9zM130.7 223.4h.9v.9h-.9zM130.8 220.8h.9v.9h-.9zM129.8 226.3h.9v.9h-.9zM130.6 223.7h.9v.9h-.9zM131.0 219.2h.9v.9h-.9zM130.5 225.7h.9v.9h-.9zM131.0 224.5h.9v.9h-.9zM128.3 222.7h.9v.9h-.9zM131.6 223.3h.9v.9h-.9zM130.7 223.8h.9v.9h-.9zM129.9 222.0h.9v.9h-.9zM130.4 222.8h.9v.9h-.9zM133.6 226.5h.9v.9h-.9zM129.0 225.3h.9v.9h-.9zM129.7 222.6h.9v.9h-.9zM129.6 225.7h.9v.9h-.9zM130.0 218.5h.9v.9h-.9zM129.9 221.7h.9v.9h-.9zM130.6 225.7h.9v.9h-.9zM131.8 224.0h.9v.9h-.9zM128.8 224.2h.9v.9h-.9zM130.4 222.3h.9v.9h-.9zM129.4 221.9h.9v.9h-.9zM130.2 218.9h.9v.9h-.9zM129.6 224.2h.9v.9h-.9zM130.3 219.0h.9v.9h-.9zM128.5 221.5h.9v.9h-.9zM130.9 222.7h.9v.9h-.9zM129.4 218.6h.9v.9h-.9zM129.9 229.4h.9v.9h-.9zM129.1 229.8h.9v.9h-.9zM131.6 220.1h.9v.9h-.9zM129.3 225.6h.9v.9h-.9zM128.5 220.7h.9v.9h-.9zM130.4 226.7h.9v.9h-.9zM130.6 224.7h.9v.9h-.9zM130.1 224.2h.9v.9h-.9zM128.8 221.7h.9v.9h-.9zM128.6 226.4h.9v.9h-.9zM128.6 222.1h.9v.9h-.9zM131.0 224.6h.9v.9h-.9z"/>
<path fill="#2f9a70" d="M130.6 223.5h.9v.9h-.9zM130.4 222.7h.9v.9h-.9zM129.6 222.5h.9v.9h-.9zM129.5 220.5h.9v.9h-.9zM131.0 219.7h.9v.9h-.9zM130.8 223.0h.9v.9h-.9zM131.3 223.1h.9v.9h-.9zM130.0 224.8h.9v.9h-.9zM128.8 222.9h.9v.9h-.9zM131.3 225.3h.9v.9h-.9zM129.7 221.5h.9v.9h-.9zM129.6 224.2h.9v.9h-.9zM129.2 224.8h.9v.9h-.9zM129.1 224.2h.9v.9h-.9zM130.4 222.9h.9v.9h-.9zM131.8 223.8h.9v.9h-.9zM130.6 226.1h.9v.9h-.9zM129.7 224.0h.9v.9h-.9zM130.9 223.5h.9v.9h-.9zM130.0 223.0h.9v.9h-.9zM130.7 223.4h.9v.9h-.9zM131.0 221.5h.9v.9h-.9zM130.1 225.0h.9v.9h-.9zM129.2 224.6h.9v.9h-.9zM130.0 224.8h.9v.9h-.9zM129.6 223.3h.9v.9h-.9zM129.1 224.5h.9v.9h-.9zM129.9 223.3h.9v.9h-.9zM129.6 225.0h.9v.9h-.9zM130.2 224.9h.9v.9h-.9zM129.5 222.8h.9v.9h-.9zM130.7 226.3h.9v.9h-.9zM131.5 224.7h.9v.9h-.9zM130.9 224.5h.9v.9h-.9zM129.5 222.9h.9v.9h-.9z"/>
<path fill="#d0c020" d="M129.6 222.2h.9v.9h-.9zM130.1 223.6h.9v.9h-.9zM130.4 224.9h.9v.9h-.9zM129.6 222.6h.9v.9h-.9zM129.9 223.8h.9v.9h-.9zM130.0 222.4h.9v.9h-.9zM130.4 223.1h.9v.9h-.9zM129.8 224.4h.9v.9h-.9z"/>
<path fill="#6070bc" fill-opacity="0.7" d="M147.5 223.4h.9v.9h-.9zM144.2 224.0h.9v.9h-.9zM141.5 223.2h.9v.9h-.9zM142.6 222.9h.9v.9h-.9zM145.0 228.0h.9v.9h-.9zM142.7 220.3h.9v.9h-.9zM147.3 223.7h.9v.9h-.9zM150.4 228.0h.9v.9h-.9zM143.5 231.0h.9v.9h-.9zM139.4 225.8h.9v.9h-.9zM146.6 226.0h.9v.9h-.9zM143.7 221.8h.9v.9h-.9zM149.1 221.4h.9v.9h-.9zM132.6 223.5h.9v.9h-.9zM147.8 225.6h.9v.9h-.9zM142.4 225.3h.9v.9h-.9zM145.3 224.1h.9v.9h-.9zM141.0 224.2h.9v.9h-.9zM140.5 228.1h.9v.9h-.9zM143.1 227.6h.9v.9h-.9zM141.0 221.4h.9v.9h-.9zM153.2 230.0h.9v.9h-.9zM146.0 227.0h.9v.9h-.9zM143.0 228.7h.9v.9h-.9zM135.1 226.0h.9v.9h-.9zM148.0 228.2h.9v.9h-.9zM141.6 223.7h.9v.9h-.9zM141.1 228.5h.9v.9h-.9zM149.0 221.7h.9v.9h-.9zM142.2 225.7h.9v.9h-.9zM139.1 230.4h.9v.9h-.9zM140.1 226.9h.9v.9h-.9zM143.0 224.8h.9v.9h-.9zM140.1 221.4h.9v.9h-.9zM146.9 227.8h.9v.9h-.9zM145.7 223.5h.9v.9h-.9zM140.1 225.0h.9v.9h-.9zM140.0 224.5h.9v.9h-.9zM138.7 232.0h.9v.9h-.9zM138.6 214.0h.9v.9h-.9zM141.5 228.8h.9v.9h-.9zM138.4 230.7h.9v.9h-.9zM139.7 229.4h.9v.9h-.9zM146.0 229.4h.9v.9h-.9zM142.7 233.0h.9v.9h-.9zM137.1 231.8h.9v.9h-.9zM140.4 224.3h.9v.9h-.9zM135.0 223.1h.9v.9h-.9zM141.2 219.6h.9v.9h-.9zM138.7 223.6h.9v.9h-.9zM148.6 230.5h.9v.9h-.9zM140.1 221.8h.9v.9h-.9zM141.5 231.0h.9v.9h-.9zM140.3 225.0h.9v.9h-.9zM150.6 225.2h.9v.9h-.9zM140.4 219.7h.9v.9h-.9zM142.4 222.4h.9v.9h-.9zM152.1 223.5h.9v.9h-.9zM141.7 222.4h.9v.9h-.9zM142.5 225.5h.9v.9h-.9zM149.5 221.4h.9v.9h-.9zM140.0 223.4h.9v.9h-.9zM144.0 224.9h.9v.9h-.9zM141.3 227.1h.9v.9h-.9zM140.8 223.6h.9v.9h-.9zM137.1 221.0h.9v.9h-.9zM142.1 226.4h.9v.9h-.9zM151.3 226.1h.9v.9h-.9zM139.5 226.3h.9v.9h-.9zM145.6 225.8h.9v.9h-.9zM152.3 225.6h.9v.9h-.9zM147.1 226.4h.9v.9h-.9zM138.6 226.3h.9v.9h-.9zM144.7 230.4h.9v.9h-.9zM136.3 218.0h.9v.9h-.9zM146.5 227.1h.9v.9h-.9zM146.4 227.2h.9v.9h-.9zM144.0 226.4h.9v.9h-.9zM144.9 223.0h.9v.9h-.9zM143.5 219.3h.9v.9h-.9zM144.0 224.8h.9v.9h-.9zM137.1 222.1h.9v.9h-.9zM140.1 222.1h.9v.9h-.9zM137.1 228.4h.9v.9h-.9zM140.1 224.9h.9v.9h-.9zM139.2 225.6h.9v.9h-.9zM146.0 230.2h.9v.9h-.9zM146.7 221.3h.9v.9h-.9zM147.8 225.8h.9v.9h-.9zM144.0 223.8h.9v.9h-.9zM137.7 225.4h.9v.9h-.9zM140.2 224.9h.9v.9h-.9zM150.0 226.1h.9v.9h-.9zM146.5 229.5h.9v.9h-.9zM137.4 224.7h.9v.9h-.9zM152.0 231.5h.9v.9h-.9zM143.6 218.6h.9v.9h-.9zM146.3 230.5h.9v.9h-.9zM139.3 229.2h.9v.9h-.9zM142.4 222.2h.9v.9h-.9zM147.8 224.4h.9v.9h-.9zM137.5 226.7h.9v.9h-.9zM148.7 231.4h.9v.9h-.9zM139.6 231.7h.9v.9h-.9zM145.0 226.9h.9v.9h-.9zM141.2 224.2h.9v.9h-.9zM141.3 226.4h.9v.9h-.9zM142.7 220.1h.9v.9h-.9zM142.9 223.9h.9v.9h-.9zM148.8 226.9h.9v.9h-.9zM149.3 228.2h.9v.9h-.9zM134.9 223.2h.9v.9h-.9zM146.2 221.0h.9v.9h-.9zM146.0 222.0h.9v.9h-.9zM143.4 226.7h.9v.9h-.9zM142.0 220.7h.9v.9h-.9zM140.5 222.5h.9v.9h-.9zM135.1 227.7h.9v.9h-.9zM142.2 226.9h.9v.9h-.9zM150.2 223.8h.9v.9h-.9zM153.0 219.5h.9v.9h-.9zM141.6 226.3h.9v.9h-.9zM139.1 225.7h.9v.9h-.9zM138.4 229.4h.9v.9h-.9zM143.7 234.6h.9v.9h-.9zM144.5 228.3h.9v.9h-.9zM145.2 223.4h.9v.9h-.9zM143.2 222.9h.9v.9h-.9zM140.0 227.6h.9v.9h-.9zM143.9 231.9h.9v.9h-.9zM152.2 222.7h.9v.9h-.9zM144.2 226.2h.9v.9h-.9zM137.6 227.6h.9v.9h-.9zM134.0 223.0h.9v.9h-.9zM149.8 225.1h.9v.9h-.9zM143.5 229.0h.9v.9h-.9zM147.4 226.9h.9v.9h-.9zM143.8 222.6h.9v.9h-.9zM145.7 229.4h.9v.9h-.9zM148.3 222.6h.9v.9h-.9zM147.0 227.9h.9v.9h-.9zM144.7 231.7h.9v.9h-.9zM140.0 227.4h.9v.9h-.9zM146.2 223.6h.9v.9h-.9zM133.1 228.6h.9v.9h-.9zM142.0 229.5h.9v.9h-.9zM141.6 223.1h.9v.9h-.9zM140.9 223.0h.9v.9h-.9zM146.2 221.8h.9v.9h-.9zM143.0 221.2h.9v.9h-.9zM142.5 222.4h.9v.9h-.9zM146.0 228.1h.9v.9h-.9zM143.4 226.1h.9v.9h-.9zM144.3 221.4h.9v.9h-.9zM137.6 226.2h.9v.9h-.9zM145.6 226.3h.9v.9h-.9zM143.5 224.6h.9v.9h-.9zM147.0 222.6h.9v.9h-.9zM151.5 224.2h.9v.9h-.9zM140.7 227.3h.9v.9h-.9zM137.5 227.9h.9v.9h-.9zM137.5 226.8h.9v.9h-.9zM150.4 225.2h.9v.9h-.9zM137.2 225.1h.9v.9h-.9zM138.5 225.7h.9v.9h-.9zM135.5 229.4h.9v.9h-.9zM148.9 225.2h.9v.9h-.9zM142.0 225.0h.9v.9h-.9zM135.3 222.4h.9v.9h-.9zM144.1 231.4h.9v.9h-.9z"/>
<path fill="#4858b0" fill-opacity="0.75" d="M155.5 231.1h.9v.9h-.9zM154.3 230.1h.9v.9h-.9zM156.0 224.1h.9v.9h-.9zM159.3 221.1h.9v.9h-.9zM155.9 228.3h.9v.9h-.9zM147.2 223.0h.9v.9h-.9zM156.7 226.4h.9v.9h-.9zM156.7 230.4h.9v.9h-.9zM148.1 228.7h.9v.9h-.9zM155.0 221.4h.9v.9h-.9zM153.1 223.9h.9v.9h-.9zM149.6 221.6h.9v.9h-.9zM156.4 230.7h.9v.9h-.9zM165.2 232.8h.9v.9h-.9zM143.9 222.5h.9v.9h-.9zM153.9 222.7h.9v.9h-.9zM154.9 219.8h.9v.9h-.9zM149.6 229.1h.9v.9h-.9zM156.3 219.3h.9v.9h-.9zM158.6 234.7h.9v.9h-.9zM160.7 222.9h.9v.9h-.9zM171.4 219.7h.9v.9h-.9zM153.7 227.1h.9v.9h-.9zM156.0 229.5h.9v.9h-.9zM158.2 227.3h.9v.9h-.9zM155.6 224.3h.9v.9h-.9zM151.5 222.5h.9v.9h-.9zM154.7 222.2h.9v.9h-.9zM152.0 225.4h.9v.9h-.9zM166.7 225.8h.9v.9h-.9zM152.7 227.4h.9v.9h-.9zM160.6 223.6h.9v.9h-.9zM152.8 224.5h.9v.9h-.9zM146.2 229.1h.9v.9h-.9zM160.3 218.8h.9v.9h-.9zM159.2 223.6h.9v.9h-.9zM158.5 225.7h.9v.9h-.9zM151.7 221.2h.9v.9h-.9zM149.8 229.4h.9v.9h-.9zM157.2 230.2h.9v.9h-.9zM153.1 226.1h.9v.9h-.9zM156.3 222.7h.9v.9h-.9zM158.6 218.9h.9v.9h-.9zM150.2 226.7h.9v.9h-.9zM156.6 227.0h.9v.9h-.9zM154.0 221.6h.9v.9h-.9zM150.9 223.7h.9v.9h-.9zM155.4 227.3h.9v.9h-.9zM156.2 221.0h.9v.9h-.9zM162.2 231.4h.9v.9h-.9zM158.0 227.3h.9v.9h-.9zM159.6 229.1h.9v.9h-.9zM156.0 224.1h.9v.9h-.9zM163.4 222.4h.9v.9h-.9zM158.6 221.6h.9v.9h-.9zM153.5 225.7h.9v.9h-.9zM154.9 232.7h.9v.9h-.9zM153.2 233.0h.9v.9h-.9zM162.0 217.6h.9v.9h-.9zM159.4 228.1h.9v.9h-.9zM158.1 222.2h.9v.9h-.9zM155.8 225.8h.9v.9h-.9zM149.0 224.0h.9v.9h-.9zM156.8 227.9h.9v.9h-.9zM153.5 223.3h.9v.9h-.9zM158.3 217.5h.9v.9h-.9zM153.2 226.0h.9v.9h-.9zM151.6 223.7h.9v.9h-.9zM162.6 228.7h.9v.9h-.9zM151.7 223.9h.9v.9h-.9zM155.9 231.1h.9v.9h-.9zM160.2 223.3h.9v.9h-.9zM152.4 223.7h.9v.9h-.9zM148.7 226.1h.9v.9h-.9zM153.2 229.9h.9v.9h-.9zM154.2 224.8h.9v.9h-.9zM159.9 227.7h.9v.9h-.9zM159.9 228.9h.9v.9h-.9zM149.3 222.1h.9v.9h-.9zM161.4 221.6h.9v.9h-.9zM156.1 223.2h.9v.9h-.9zM164.6 218.8h.9v.9h-.9zM147.1 221.2h.9v.9h-.9zM150.2 223.8h.9v.9h-.9zM159.1 228.7h.9v.9h-.9zM153.5 218.5h.9v.9h-.9zM161.0 222.2h.9v.9h-.9zM160.7 223.8h.9v.9h-.9zM161.5 225.5h.9v.9h-.9zM146.6 223.4h.9v.9h-.9zM155.9 225.9h.9v.9h-.9zM155.1 222.6h.9v.9h-.9zM160.0 221.1h.9v.9h-.9zM160.1 228.5h.9v.9h-.9zM156.3 222.4h.9v.9h-.9zM157.6 224.7h.9v.9h-.9zM160.1 229.2h.9v.9h-.9zM152.4 220.4h.9v.9h-.9zM159.0 223.9h.9v.9h-.9zM162.3 226.4h.9v.9h-.9zM152.5 228.1h.9v.9h-.9zM146.7 229.8h.9v.9h-.9zM153.9 230.7h.9v.9h-.9zM151.7 223.8h.9v.9h-.9zM159.3 223.5h.9v.9h-.9zM154.6 227.4h.9v.9h-.9zM153.2 219.5h.9v.9h-.9zM153.9 226.5h.9v.9h-.9zM151.6 223.1h.9v.9h-.9zM148.1 223.3h.9v.9h-.9zM157.4 225.1h.9v.9h-.9zM160.4 218.1h.9v.9h-.9zM159.1 226.5h.9v.9h-.9zM146.4 228.3h.9v.9h-.9zM150.8 233.9h.9v.9h-.9zM165.8 229.5h.9v.9h-.9zM162.7 226.9h.9v.9h-.9zM164.4 224.0h.9v.9h-.9zM160.1 223.2h.9v.9h-.9zM167.2 222.8h.9v.9h-.9zM154.3 231.5h.9v.9h-.9zM159.1 223.7h.9v.9h-.9zM148.4 229.2h.9v.9h-.9zM144.7 221.3h.9v.9h-.9zM150.3 226.7h.9v.9h-.9zM157.9 227.7h.9v.9h-.9zM158.8 223.0h.9v.9h-.9zM163.6 220.9h.9v.9h-.9zM151.5 223.7h.9v.9h-.9zM158.5 225.1h.9v.9h-.9zM162.3 216.6h.9v.9h-.9zM160.1 224.3h.9v.9h-.9zM161.2 223.5h.9v.9h-.9zM147.6 231.2h.9v.9h-.9zM159.3 219.9h.9v.9h-.9zM155.2 226.8h.9v.9h-.9zM157.5 227.8h.9v.9h-.9zM158.3 229.7h.9v.9h-.9zM154.2 227.5h.9v.9h-.9zM159.5 222.5h.9v.9h-.9zM156.5 225.1h.9v.9h-.9zM154.5 224.8h.9v.9h-.9zM154.6 224.7h.9v.9h-.9zM148.3 226.1h.9v.9h-.9zM152.0 224.4h.9v.9h-.9zM163.5 216.4h.9v.9h-.9zM160.7 216.9h.9v.9h-.9zM160.9 224.4h.9v.9h-.9zM150.3 224.0h.9v.9h-.9zM156.5 222.8h.9v.9h-.9zM156.6 229.2h.9v.9h-.9zM139.5 221.8h.9v.9h-.9zM155.5 225.3h.9v.9h-.9zM147.2 230.1h.9v.9h-.9zM161.2 227.7h.9v.9h-.9zM147.2 220.8h.9v.9h-.9zM152.2 229.6h.9v.9h-.9zM169.8 222.1h.9v.9h-.9zM151.2 223.7h.9v.9h-.9zM150.5 220.1h.9v.9h-.9zM152.2 219.9h.9v.9h-.9zM149.2 229.0h.9v.9h-.9zM153.4 227.3h.9v.9h-.9zM161.4 227.9h.9v.9h-.9zM157.9 227.8h.9v.9h-.9zM154.2 228.6h.9v.9h-.9zM142.8 230.2h.9v.9h-.9zM148.9 224.3h.9v.9h-.9zM150.1 227.9h.9v.9h-.9zM158.4 220.8h.9v.9h-.9zM150.7 224.8h.9v.9h-.9zM157.3 227.5h.9v.9h-.9zM159.6 226.7h.9v.9h-.9zM161.3 226.0h.9v.9h-.9zM153.3 224.2h.9v.9h-.9zM156.0 220.9h.9v.9h-.9zM151.6 222.2h.9v.9h-.9zM158.0 219.5h.9v.9h-.9zM160.8 228.4h.9v.9h-.9zM154.9 231.3h.9v.9h-.9zM153.1 227.0h.9v.9h-.9zM171.5 227.4h.9v.9h-.9zM158.8 227.0h.9v.9h-.9zM157.4 224.5h.9v.9h-.9zM150.8 227.2h.9v.9h-.9zM151.7 219.0h.9v.9h-.9zM160.5 224.5h.9v.9h-.9zM159.1 226.4h.9v.9h-.9zM160.1 225.1h.9v.9h-.9zM147.3 219.5h.9v.9h-.9zM159.3 226.8h.9v.9h-.9zM161.4 221.8h.9v.9h-.9zM154.0 225.9h.9v.9h-.9zM159.4 226.0h.9v.9h-.9zM154.3 224.2h.9v.9h-.9zM145.6 224.9h.9v.9h-.9zM160.3 225.1h.9v.9h-.9zM149.3 227.7h.9v.9h-.9zM155.0 219.3h.9v.9h-.9zM151.2 226.4h.9v.9h-.9zM151.5 222.0h.9v.9h-.9zM161.8 223.0h.9v.9h-.9zM148.8 222.2h.9v.9h-.9zM149.4 225.5h.9v.9h-.9zM151.9 220.6h.9v.9h-.9zM160.4 225.0h.9v.9h-.9zM140.9 225.4h.9v.9h-.9zM158.5 220.6h.9v.9h-.9zM154.6 227.3h.9v.9h-.9zM150.7 227.1h.9v.9h-.9zM151.9 226.3h.9v.9h-.9zM148.6 225.7h.9v.9h-.9zM162.2 228.4h.9v.9h-.9zM154.8 222.6h.9v.9h-.9zM155.8 226.1h.9v.9h-.9zM147.6 226.1h.9v.9h-.9zM149.5 227.7h.9v.9h-.9zM154.4 224.3h.9v.9h-.9zM161.9 226.5h.9v.9h-.9zM163.4 222.3h.9v.9h-.9zM151.7 226.0h.9v.9h-.9zM161.1 229.1h.9v.9h-.9zM156.3 221.3h.9v.9h-.9zM159.6 226.6h.9v.9h-.9zM153.2 218.8h.9v.9h-.9zM146.4 229.7h.9v.9h-.9zM154.8 225.6h.9v.9h-.9zM159.0 232.7h.9v.9h-.9zM155.1 223.5h.9v.9h-.9zM154.5 228.8h.9v.9h-.9zM154.5 225.2h.9v.9h-.9zM161.7 222.8h.9v.9h-.9zM155.6 226.0h.9v.9h-.9zM144.2 221.2h.9v.9h-.9zM153.6 217.7h.9v.9h-.9zM161.5 221.0h.9v.9h-.9zM160.2 226.2h.9v.9h-.9zM150.8 223.1h.9v.9h-.9zM156.2 226.4h.9v.9h-.9zM161.2 220.8h.9v.9h-.9zM153.9 229.1h.9v.9h-.9zM157.9 223.5h.9v.9h-.9zM153.0 223.0h.9v.9h-.9zM163.9 221.2h.9v.9h-.9zM160.9 223.9h.9v.9h-.9zM150.9 224.9h.9v.9h-.9zM147.7 232.6h.9v.9h-.9zM173.1 222.7h.9v.9h-.9zM161.1 222.6h.9v.9h-.9zM149.3 218.0h.9v.9h-.9zM144.6 228.6h.9v.9h-.9zM157.1 222.1h.9v.9h-.9zM150.4 229.5h.9v.9h-.9zM157.9 227.6h.9v.9h-.9zM156.7 226.7h.9v.9h-.9zM171.8 217.9h.9v.9h-.9zM158.5 221.0h.9v.9h-.9zM155.5 219.3h.9v.9h-.9zM149.5 226.7h.9v.9h-.9zM158.6 227.1h.9v.9h-.9zM152.9 228.0h.9v.9h-.9zM153.5 222.7h.9v.9h-.9zM156.6 232.8h.9v.9h-.9zM158.3 216.4h.9v.9h-.9zM156.4 222.6h.9v.9h-.9zM145.4 225.6h.9v.9h-.9zM157.1 222.5h.9v.9h-.9zM148.5 225.6h.9v.9h-.9zM159.8 225.2h.9v.9h-.9zM155.3 219.4h.9v.9h-.9zM149.0 226.7h.9v.9h-.9zM150.8 224.4h.9v.9h-.9zM163.5 228.2h.9v.9h-.9zM156.6 221.0h.9v.9h-.9zM157.0 218.0h.9v.9h-.9zM152.2 218.6h.9v.9h-.9zM157.3 224.8h.9v.9h-.9zM161.4 223.6h.9v.9h-.9zM157.3 218.9h.9v.9h-.9zM161.7 228.0h.9v.9h-.9zM163.3 228.3h.9v.9h-.9zM152.9 228.2h.9v.9h-.9zM154.3 231.9h.9v.9h-.9zM152.8 222.6h.9v.9h-.9zM155.6 222.6h.9v.9h-.9zM158.2 220.1h.9v.9h-.9zM156.5 219.8h.9v.9h-.9zM164.2 224.5h.9v.9h-.9zM148.6 226.2h.9v.9h-.9zM151.6 223.8h.9v.9h-.9zM152.3 231.4h.9v.9h-.9zM161.7 216.1h.9v.9h-.9zM153.2 220.9h.9v.9h-.9zM149.0 228.7h.9v.9h-.9zM147.9 217.7h.9v.9h-.9zM155.7 221.3h.9v.9h-.9zM155.5 226.2h.9v.9h-.9zM156.9 221.1h.9v.9h-.9zM154.3 225.8h.9v.9h-.9zM144.0 225.3h.9v.9h-.9zM154.2 231.2h.9v.9h-.9zM156.2 219.5h.9v.9h-.9zM152.3 223.4h.9v.9h-.9zM152.4 220.6h.9v.9h-.9zM162.2 224.1h.9v.9h-.9zM148.4 231.6h.9v.9h-.9zM152.2 222.6h.9v.9h-.9zM153.9 223.3h.9v.9h-.9zM160.0 232.4h.9v.9h-.9zM146.1 226.6h.9v.9h-.9zM157.1 229.2h.9v.9h-.9zM156.5 231.9h.9v.9h-.9zM151.2 222.9h.9v.9h-.9zM152.9 226.8h.9v.9h-.9zM157.8 230.7h.9v.9h-.9zM154.8 226.7h.9v.9h-.9zM151.2 227.8h.9v.9h-.9zM161.2 224.8h.9v.9h-.9zM143.7 230.9h.9v.9h-.9zM154.6 220.9h.9v.9h-.9zM152.6 226.7h.9v.9h-.9zM159.3 228.6h.9v.9h-.9zM154.1 223.7h.9v.9h-.9zM152.4 225.4h.9v.9h-.9zM151.7 223.0h.9v.9h-.9zM150.9 219.3h.9v.9h-.9zM151.3 227.2h.9v.9h-.9zM159.1 226.3h.9v.9h-.9zM148.5 220.3h.9v.9h-.9zM165.4 233.0h.9v.9h-.9zM179.9 224.7h.9v.9h-.9zM176.1 222.0h.9v.9h-.9zM173.4 223.5h.9v.9h-.9zM178.6 224.2h.9v.9h-.9zM173.7 221.3h.9v.9h-.9zM181.1 219.7h.9v.9h-.9zM177.4 223.3h.9v.9h-.9zM168.9 221.6h.9v.9h-.9zM172.2 222.0h.9v.9h-.9zM170.3 224.9h.9v.9h-.9zM183.4 223.8h.9v.9h-.9zM181.1 218.7h.9v.9h-.9zM183.0 225.1h.9v.9h-.9zM179.4 222.9h.9v.9h-.9zM185.0 222.3h.9v.9h-.9zM178.4 224.2h.9v.9h-.9zM187.3 226.4h.9v.9h-.9zM182.6 225.6h.9v.9h-.9zM178.6 219.0h.9v.9h-.9zM169.9 220.7h.9v.9h-.9zM180.5 217.9h.9v.9h-.9zM186.1 224.2h.9v.9h-.9zM181.2 224.7h.9v.9h-.9zM179.3 225.2h.9v.9h-.9zM168.9 218.0h.9v.9h-.9zM174.6 222.9h.9v.9h-.9zM159.9 224.1h.9v.9h-.9zM165.9 220.7h.9v.9h-.9zM176.8 217.8h.9v.9h-.9zM174.8 216.6h.9v.9h-.9zM179.4 223.9h.9v.9h-.9zM173.3 218.2h.9v.9h-.9zM184.1 218.1h.9v.9h-.9zM173.5 223.7h.9v.9h-.9zM173.8 220.8h.9v.9h-.9zM169.7 222.1h.9v.9h-.9zM166.9 224.6h.9v.9h-.9zM168.8 219.0h.9v.9h-.9zM171.2 215.8h.9v.9h-.9zM167.5 219.2h.9v.9h-.9zM185.2 218.8h.9v.9h-.9zM174.3 221.4h.9v.9h-.9zM187.5 222.8h.9v.9h-.9zM180.0 219.6h.9v.9h-.9zM177.7 225.2h.9v.9h-.9zM182.6 217.8h.9v.9h-.9zM179.2 223.5h.9v.9h-.9zM179.0 226.8h.9v.9h-.9zM175.7 228.3h.9v.9h-.9zM171.6 223.1h.9v.9h-.9zM172.2 222.9h.9v.9h-.9zM176.9 221.6h.9v.9h-.9zM169.4 223.5h.9v.9h-.9zM180.9 222.6h.9v.9h-.9zM162.4 225.0h.9v.9h-.9zM188.2 218.8h.9v.9h-.9zM174.3 218.2h.9v.9h-.9zM163.9 221.7h.9v.9h-.9zM159.5 217.2h.9v.9h-.9zM182.6 227.9h.9v.9h-.9zM176.0 218.8h.9v.9h-.9zM179.3 220.0h.9v.9h-.9zM168.1 224.5h.9v.9h-.9zM181.2 221.6h.9v.9h-.9zM182.1 218.5h.9v.9h-.9zM181.3 220.8h.9v.9h-.9zM167.6 216.7h.9v.9h-.9zM184.4 219.0h.9v.9h-.9zM181.4 218.5h.9v.9h-.9zM171.1 221.4h.9v.9h-.9zM155.3 221.1h.9v.9h-.9zM177.8 221.8h.9v.9h-.9zM173.9 224.1h.9v.9h-.9zM178.4 220.5h.9v.9h-.9zM176.2 220.1h.9v.9h-.9zM165.0 228.8h.9v.9h-.9zM182.7 224.9h.9v.9h-.9zM173.8 227.0h.9v.9h-.9zM186.0 223.9h.9v.9h-.9zM174.9 229.6h.9v.9h-.9zM170.4 226.0h.9v.9h-.9zM164.6 217.1h.9v.9h-.9zM175.6 221.0h.9v.9h-.9zM175.5 219.1h.9v.9h-.9zM180.6 228.1h.9v.9h-.9zM172.2 219.7h.9v.9h-.9zM185.5 223.9h.9v.9h-.9zM180.9 222.9h.9v.9h-.9zM180.1 222.6h.9v.9h-.9zM175.7 219.7h.9v.9h-.9zM181.8 221.8h.9v.9h-.9zM179.5 217.4h.9v.9h-.9zM169.4 218.8h.9v.9h-.9zM184.7 226.4h.9v.9h-.9zM183.9 220.3h.9v.9h-.9zM177.0 223.2h.9v.9h-.9zM175.0 230.1h.9v.9h-.9zM173.3 224.3h.9v.9h-.9zM173.8 221.9h.9v.9h-.9zM179.0 217.0h.9v.9h-.9zM175.1 222.7h.9v.9h-.9zM186.8 218.8h.9v.9h-.9zM176.2 220.0h.9v.9h-.9zM186.0 220.8h.9v.9h-.9zM174.2 220.2h.9v.9h-.9zM183.6 219.5h.9v.9h-.9zM174.6 221.5h.9v.9h-.9zM178.8 227.2h.9v.9h-.9zM180.7 222.2h.9v.9h-.9zM184.7 223.7h.9v.9h-.9zM184.3 226.1h.9v.9h-.9zM163.3 223.6h.9v.9h-.9zM178.3 224.7h.9v.9h-.9zM177.6 219.5h.9v.9h-.9zM182.0 221.0h.9v.9h-.9zM171.7 220.4h.9v.9h-.9zM174.7 219.6h.9v.9h-.9zM165.1 224.3h.9v.9h-.9zM177.7 220.6h.9v.9h-.9zM178.2 223.9h.9v.9h-.9zM177.0 217.6h.9v.9h-.9zM173.0 216.7h.9v.9h-.9zM176.6 225.5h.9v.9h-.9zM182.7 222.1h.9v.9h-.9zM171.1 220.7h.9v.9h-.9zM177.2 220.1h.9v.9h-.9zM165.1 223.7h.9v.9h-.9zM177.7 226.4h.9v.9h-.9zM173.8 222.6h.9v.9h-.9zM184.3 224.7h.9v.9h-.9zM180.7 218.0h.9v.9h-.9zM183.0 218.7h.9v.9h-.9zM178.3 216.4h.9v.9h-.9zM168.1 220.0h.9v.9h-.9zM178.7 223.9h.9v.9h-.9zM178.9 222.8h.9v.9h-.9zM170.9 223.6h.9v.9h-.9zM162.8 219.9h.9v.9h-.9zM173.9 228.4h.9v.9h-.9zM178.2 220.4h.9v.9h-.9zM171.5 221.0h.9v.9h-.9zM180.6 222.9h.9v.9h-.9zM176.0 222.4h.9v.9h-.9zM189.2 222.9h.9v.9h-.9zM185.7 217.6h.9v.9h-.9zM177.2 222.3h.9v.9h-.9zM180.3 219.8h.9v.9h-.9zM169.2 225.9h.9v.9h-.9zM169.2 221.5h.9v.9h-.9zM177.9 223.2h.9v.9h-.9zM171.9 215.7h.9v.9h-.9zM180.9 222.6h.9v.9h-.9zM169.9 221.7h.9v.9h-.9zM166.9 222.3h.9v.9h-.9zM175.4 223.5h.9v.9h-.9zM163.8 224.7h.9v.9h-.9zM181.8 224.9h.9v.9h-.9zM179.4 218.4h.9v.9h-.9zM165.9 227.7h.9v.9h-.9zM180.7 212.0h.9v.9h-.9zM173.1 225.3h.9v.9h-.9zM162.1 223.8h.9v.9h-.9zM168.8 219.5h.9v.9h-.9zM160.0 221.5h.9v.9h-.9zM173.3 223.3h.9v.9h-.9zM178.3 224.1h.9v.9h-.9zM163.1 220.2h.9v.9h-.9zM167.0 223.1h.9v.9h-.9zM178.2 228.3h.9v.9h-.9zM169.0 223.5h.9v.9h-.9zM175.0 216.0h.9v.9h-.9zM184.3 222.0h.9v.9h-.9zM163.3 224.6h.9v.9h-.9zM171.3 223.0h.9v.9h-.9zM169.4 222.4h.9v.9h-.9zM175.1 227.2h.9v.9h-.9zM169.6 225.5h.9v.9h-.9zM174.5 223.4h.9v.9h-.9zM178.3 217.0h.9v.9h-.9zM172.9 218.1h.9v.9h-.9zM179.8 225.2h.9v.9h-.9zM182.3 217.5h.9v.9h-.9zM166.8 219.8h.9v.9h-.9zM177.0 222.9h.9v.9h-.9zM176.6 221.6h.9v.9h-.9zM175.6 225.1h.9v.9h-.9zM172.2 217.6h.9v.9h-.9zM187.3 216.9h.9v.9h-.9zM175.0 224.3h.9v.9h-.9zM180.6 223.9h.9v.9h-.9zM168.0 220.5h.9v.9h-.9zM176.2 227.2h.9v.9h-.9zM177.4 224.3h.9v.9h-.9zM181.8 224.9h.9v.9h-.9zM173.7 225.9h.9v.9h-.9zM174.6 220.0h.9v.9h-.9zM181.9 224.7h.9v.9h-.9zM169.2 224.0h.9v.9h-.9zM172.7 223.4h.9v.9h-.9zM184.4 225.4h.9v.9h-.9zM168.1 218.6h.9v.9h-.9zM170.0 219.3h.9v.9h-.9zM181.2 228.3h.9v.9h-.9zM167.6 221.4h.9v.9h-.9zM175.2 225.0h.9v.9h-.9zM183.4 221.7h.9v.9h-.9zM177.0 220.6h.9v.9h-.9zM170.9 220.7h.9v.9h-.9zM176.4 224.6h.9v.9h-.9zM167.2 224.7h.9v.9h-.9zM163.3 225.3h.9v.9h-.9zM184.0 226.9h.9v.9h-.9zM163.5 224.1h.9v.9h-.9zM171.2 223.5h.9v.9h-.9zM184.2 219.4h.9v.9h-.9zM174.2 218.5h.9v.9h-.9zM171.1 214.8h.9v.9h-.9zM174.6 214.2h.9v.9h-.9zM172.1 224.1h.9v.9h-.9zM186.3 218.2h.9v.9h-.9zM181.9 220.0h.9v.9h-.9zM160.2 225.8h.9v.9h-.9zM177.1 223.8h.9v.9h-.9zM178.8 224.3h.9v.9h-.9zM169.3 223.5h.9v.9h-.9zM173.8 222.2h.9v.9h-.9zM170.9 225.0h.9v.9h-.9zM183.9 223.2h.9v.9h-.9zM184.8 219.6h.9v.9h-.9zM189.8 220.1h.9v.9h-.9zM174.2 222.1h.9v.9h-.9zM184.9 223.5h.9v.9h-.9zM179.5 219.8h.9v.9h-.9zM184.3 225.8h.9v.9h-.9zM167.6 221.2h.9v.9h-.9zM182.4 224.8h.9v.9h-.9zM165.2 219.9h.9v.9h-.9zM178.2 221.4h.9v.9h-.9zM179.0 219.7h.9v.9h-.9zM169.8 223.4h.9v.9h-.9zM178.6 219.0h.9v.9h-.9zM183.4 223.5h.9v.9h-.9zM176.6 222.5h.9v.9h-.9zM182.7 223.0h.9v.9h-.9zM175.5 222.1h.9v.9h-.9zM186.3 226.9h.9v.9h-.9zM155.5 219.8h.9v.9h-.9zM157.8 220.1h.9v.9h-.9zM173.1 219.3h.9v.9h-.9zM179.8 222.6h.9v.9h-.9zM178.7 217.8h.9v.9h-.9zM174.4 223.8h.9v.9h-.9zM164.7 216.7h.9v.9h-.9zM176.0 232.3h.9v.9h-.9zM170.7 221.6h.9v.9h-.9zM180.6 226.4h.9v.9h-.9zM180.3 221.2h.9v.9h-.9zM176.1 223.7h.9v.9h-.9zM177.1 224.1h.9v.9h-.9zM170.9 223.1h.9v.9h-.9zM172.9 220.2h.9v.9h-.9zM175.0 225.2h.9v.9h-.9zM176.9 222.9h.9v.9h-.9zM176.4 222.2h.9v.9h-.9zM174.7 221.2h.9v.9h-.9zM160.2 222.9h.9v.9h-.9zM170.9 220.4h.9v.9h-.9zM169.3 223.9h.9v.9h-.9zM174.7 222.9h.9v.9h-.9zM178.1 223.4h.9v.9h-.9zM177.5 224.6h.9v.9h-.9zM184.0 224.5h.9v.9h-.9zM178.5 225.5h.9v.9h-.9zM172.7 218.8h.9v.9h-.9zM175.0 216.8h.9v.9h-.9zM170.8 222.7h.9v.9h-.9zM186.9 223.3h.9v.9h-.9zM171.6 223.9h.9v.9h-.9zM179.8 223.0h.9v.9h-.9zM182.3 219.9h.9v.9h-.9zM184.0 217.3h.9v.9h-.9zM175.8 224.2h.9v.9h-.9zM179.9 220.6h.9v.9h-.9zM161.4 218.0h.9v.9h-.9zM168.0 222.7h.9v.9h-.9zM190.2 220.5h.9v.9h-.9zM186.3 220.0h.9v.9h-.9zM176.1 223.0h.9v.9h-.9zM160.8 220.4h.9v.9h-.9zM181.1 221.5h.9v.9h-.9zM181.6 221.6h.9v.9h-.9zM178.3 224.2h.9v.9h-.9zM170.6 224.8h.9v.9h-.9zM181.8 217.2h.9v.9h-.9zM181.4 220.3h.9v.9h-.9zM176.7 225.6h.9v.9h-.9zM185.2 220.4h.9v.9h-.9zM179.2 220.6h.9v.9h-.9zM159.0 221.7h.9v.9h-.9zM163.7 219.8h.9v.9h-.9zM178.6 219.0h.9v.9h-.9zM171.5 217.8h.9v.9h-.9zM167.3 223.4h.9v.9h-.9zM181.5 216.3h.9v.9h-.9zM182.9 221.8h.9v.9h-.9zM171.5 218.7h.9v.9h-.9zM179.1 220.3h.9v.9h-.9zM170.1 222.5h.9v.9h-.9zM179.6 217.6h.9v.9h-.9zM179.3 222.1h.9v.9h-.9zM182.1 225.2h.9v.9h-.9zM176.8 219.3h.9v.9h-.9zM184.5 224.0h.9v.9h-.9zM169.8 220.0h.9v.9h-.9zM174.8 224.8h.9v.9h-.9zM177.3 227.5h.9v.9h-.9zM167.0 225.3h.9v.9h-.9zM170.6 221.4h.9v.9h-.9zM173.7 226.4h.9v.9h-.9zM186.7 217.0h.9v.9h-.9zM179.0 224.0h.9v.9h-.9zM179.7 223.2h.9v.9h-.9zM166.7 225.2h.9v.9h-.9zM184.4 220.0h.9v.9h-.9zM180.2 224.4h.9v.9h-.9zM179.5 224.0h.9v.9h-.9zM167.9 220.5h.9v.9h-.9zM178.6 224.2h.9v.9h-.9zM184.2 219.5h.9v.9h-.9zM170.4 220.5h.9v.9h-.9zM171.9 226.9h.9v.9h-.9zM186.6 222.5h.9v.9h-.9zM186.0 220.9h.9v.9h-.9zM177.6 222.3h.9v.9h-.9zM176.8 220.2h.9v.9h-.9zM166.1 224.1h.9v.9h-.9zM172.9 219.8h.9v.9h-.9zM168.9 216.0h.9v.9h-.9zM168.4 222.6h.9v.9h-.9zM169.7 216.4h.9v.9h-.9zM169.1 215.7h.9v.9h-.9zM179.5 214.7h.9v.9h-.9zM175.7 226.5h.9v.9h-.9zM176.7 223.5h.9v.9h-.9zM165.9 228.1h.9v.9h-.9zM174.0 224.5h.9v.9h-.9zM176.1 219.3h.9v.9h-.9zM177.0 221.1h.9v.9h-.9zM178.5 222.1h.9v.9h-.9zM172.9 224.0h.9v.9h-.9zM180.9 219.5h.9v.9h-.9zM180.9 219.3h.9v.9h-.9zM171.0 224.0h.9v.9h-.9zM183.6 223.0h.9v.9h-.9zM178.8 221.5h.9v.9h-.9zM162.5 224.1h.9v.9h-.9zM177.3 223.0h.9v.9h-.9zM176.6 223.3h.9v.9h-.9zM175.0 217.3h.9v.9h-.9zM178.2 222.0h.9v.9h-.9zM171.9 217.0h.9v.9h-.9zM177.1 223.1h.9v.9h-.9zM188.9 221.4h.9v.9h-.9zM180.1 222.9h.9v.9h-.9zM173.3 220.5h.9v.9h-.9zM171.8 222.7h.9v.9h-.9zM183.0 223.9h.9v.9h-.9z"/>
<path fill="#3a9a78" fill-opacity="0.85" d="M158.4 223.7h.9v.9h-.9zM151.1 224.0h.9v.9h-.9zM154.3 226.6h.9v.9h-.9zM155.1 222.3h.9v.9h-.9zM152.0 225.8h.9v.9h-.9zM158.4 226.4h.9v.9h-.9zM155.2 226.0h.9v.9h-.9zM150.8 224.2h.9v.9h-.9zM152.0 224.3h.9v.9h-.9zM154.1 222.7h.9v.9h-.9zM158.0 224.6h.9v.9h-.9zM159.9 224.9h.9v.9h-.9zM154.7 222.7h.9v.9h-.9zM153.4 225.9h.9v.9h-.9zM156.0 228.6h.9v.9h-.9zM157.4 223.4h.9v.9h-.9zM152.5 223.8h.9v.9h-.9zM159.3 227.4h.9v.9h-.9zM146.2 223.4h.9v.9h-.9zM161.6 222.2h.9v.9h-.9zM155.6 225.8h.9v.9h-.9zM156.3 223.8h.9v.9h-.9zM155.0 223.5h.9v.9h-.9zM155.5 224.0h.9v.9h-.9zM161.2 227.1h.9v.9h-.9zM152.3 224.5h.9v.9h-.9zM161.3 224.1h.9v.9h-.9zM156.5 228.2h.9v.9h-.9zM153.1 226.4h.9v.9h-.9zM154.9 226.2h.9v.9h-.9zM154.9 226.4h.9v.9h-.9zM158.2 228.9h.9v.9h-.9zM152.8 226.7h.9v.9h-.9zM157.6 221.7h.9v.9h-.9zM160.1 229.3h.9v.9h-.9zM161.3 223.0h.9v.9h-.9zM152.9 228.4h.9v.9h-.9zM155.2 224.3h.9v.9h-.9zM152.2 227.1h.9v.9h-.9zM148.3 223.3h.9v.9h-.9zM157.3 220.7h.9v.9h-.9zM158.7 224.5h.9v.9h-.9zM155.9 224.7h.9v.9h-.9zM156.2 223.9h.9v.9h-.9zM152.3 224.8h.9v.9h-.9zM159.8 226.1h.9v.9h-.9zM156.3 223.2h.9v.9h-.9zM155.9 228.5h.9v.9h-.9zM155.1 224.7h.9v.9h-.9zM153.1 229.7h.9v.9h-.9zM155.3 226.5h.9v.9h-.9zM149.4 226.1h.9v.9h-.9zM156.9 222.7h.9v.9h-.9zM155.4 224.3h.9v.9h-.9zM158.6 225.6h.9v.9h-.9zM154.6 223.8h.9v.9h-.9zM161.8 225.9h.9v.9h-.9zM156.2 225.4h.9v.9h-.9zM156.9 225.2h.9v.9h-.9zM154.8 227.6h.9v.9h-.9zM154.3 223.2h.9v.9h-.9zM152.9 224.6h.9v.9h-.9zM154.4 224.2h.9v.9h-.9zM155.7 224.7h.9v.9h-.9zM157.7 224.0h.9v.9h-.9zM153.8 224.3h.9v.9h-.9zM153.4 225.3h.9v.9h-.9zM152.2 221.8h.9v.9h-.9zM160.6 219.8h.9v.9h-.9zM151.9 225.5h.9v.9h-.9zM154.2 226.2h.9v.9h-.9zM147.2 224.4h.9v.9h-.9zM160.7 226.0h.9v.9h-.9zM153.8 227.4h.9v.9h-.9zM155.3 228.2h.9v.9h-.9zM153.0 224.8h.9v.9h-.9zM155.5 224.8h.9v.9h-.9zM161.5 227.5h.9v.9h-.9zM158.5 225.8h.9v.9h-.9zM155.3 224.2h.9v.9h-.9zM157.7 224.1h.9v.9h-.9zM159.1 224.2h.9v.9h-.9zM152.0 223.2h.9v.9h-.9zM159.0 226.1h.9v.9h-.9zM155.7 220.9h.9v.9h-.9zM155.3 221.4h.9v.9h-.9zM158.0 226.4h.9v.9h-.9zM154.8 224.7h.9v.9h-.9zM155.9 223.7h.9v.9h-.9zM153.4 224.1h.9v.9h-.9zM159.9 229.4h.9v.9h-.9zM152.0 222.3h.9v.9h-.9zM152.5 223.0h.9v.9h-.9zM156.6 224.2h.9v.9h-.9zM154.1 225.8h.9v.9h-.9zM153.1 223.5h.9v.9h-.9zM157.8 224.0h.9v.9h-.9zM154.9 229.6h.9v.9h-.9zM155.1 222.5h.9v.9h-.9zM152.1 227.3h.9v.9h-.9zM158.8 227.6h.9v.9h-.9zM156.6 228.7h.9v.9h-.9zM162.1 226.9h.9v.9h-.9zM156.2 224.4h.9v.9h-.9zM159.6 228.9h.9v.9h-.9zM156.9 223.1h.9v.9h-.9zM157.1 222.0h.9v.9h-.9zM155.8 228.1h.9v.9h-.9zM154.2 225.4h.9v.9h-.9zM158.8 221.9h.9v.9h-.9zM167.4 220.7h.9v.9h-.9zM181.4 221.6h.9v.9h-.9zM182.5 222.5h.9v.9h-.9zM179.0 222.9h.9v.9h-.9zM183.9 221.1h.9v.9h-.9zM173.4 219.5h.9v.9h-.9zM179.0 224.0h.9v.9h-.9zM178.9 221.4h.9v.9h-.9zM179.2 220.2h.9v.9h-.9zM179.0 223.9h.9v.9h-.9zM178.5 220.7h.9v.9h-.9zM178.7 223.4h.9v.9h-.9zM178.4 223.5h.9v.9h-.9zM177.9 221.5h.9v.9h-.9zM173.7 222.1h.9v.9h-.9zM180.1 223.5h.9v.9h-.9zM182.1 220.9h.9v.9h-.9zM169.5 220.6h.9v.9h-.9zM185.0 218.1h.9v.9h-.9zM175.2 222.5h.9v.9h-.9zM182.7 220.4h.9v.9h-.9zM178.8 220.9h.9v.9h-.9zM177.4 220.7h.9v.9h-.9zM178.5 222.2h.9v.9h-.9zM173.4 222.9h.9v.9h-.9zM170.3 218.2h.9v.9h-.9zM170.8 222.5h.9v.9h-.9zM172.6 222.4h.9v.9h-.9zM176.7 221.7h.9v.9h-.9zM176.5 224.3h.9v.9h-.9zM179.1 219.1h.9v.9h-.9zM172.0 222.2h.9v.9h-.9zM178.1 222.7h.9v.9h-.9zM183.4 221.5h.9v.9h-.9zM171.7 222.7h.9v.9h-.9zM172.6 221.6h.9v.9h-.9zM172.1 222.4h.9v.9h-.9zM185.2 219.4h.9v.9h-.9zM175.4 223.4h.9v.9h-.9zM178.9 225.7h.9v.9h-.9zM180.5 223.0h.9v.9h-.9zM182.3 221.7h.9v.9h-.9zM175.9 221.6h.9v.9h-.9zM180.2 223.2h.9v.9h-.9zM172.6 221.8h.9v.9h-.9zM180.9 222.1h.9v.9h-.9zM175.4 222.2h.9v.9h-.9zM173.9 220.8h.9v.9h-.9zM169.0 221.0h.9v.9h-.9zM182.6 221.7h.9v.9h-.9zM169.8 218.8h.9v.9h-.9zM173.3 218.5h.9v.9h-.9zM174.9 220.5h.9v.9h-.9zM180.0 218.9h.9v.9h-.9zM165.4 221.9h.9v.9h-.9zM187.2 222.7h.9v.9h-.9zM172.8 223.2h.9v.9h-.9zM177.6 220.6h.9v.9h-.9zM175.9 221.6h.9v.9h-.9zM188.9 222.5h.9v.9h-.9zM177.8 223.3h.9v.9h-.9zM185.2 224.3h.9v.9h-.9zM166.9 221.4h.9v.9h-.9zM176.0 223.4h.9v.9h-.9zM176.9 223.8h.9v.9h-.9zM175.0 219.4h.9v.9h-.9zM173.0 220.8h.9v.9h-.9zM177.7 221.5h.9v.9h-.9zM180.5 223.7h.9v.9h-.9zM186.3 221.0h.9v.9h-.9zM177.0 225.6h.9v.9h-.9zM170.5 222.1h.9v.9h-.9zM172.6 219.7h.9v.9h-.9zM184.5 219.1h.9v.9h-.9zM172.5 224.8h.9v.9h-.9zM173.7 223.9h.9v.9h-.9zM180.6 223.6h.9v.9h-.9zM171.7 226.8h.9v.9h-.9zM174.2 220.1h.9v.9h-.9zM179.2 221.4h.9v.9h-.9zM176.6 219.1h.9v.9h-.9zM182.3 221.8h.9v.9h-.9zM182.5 223.0h.9v.9h-.9zM174.3 221.3h.9v.9h-.9zM182.7 220.7h.9v.9h-.9zM173.9 220.7h.9v.9h-.9zM179.3 222.8h.9v.9h-.9zM180.0 221.8h.9v.9h-.9zM171.8 221.6h.9v.9h-.9zM176.9 220.6h.9v.9h-.9zM178.4 223.5h.9v.9h-.9zM175.1 220.2h.9v.9h-.9zM177.4 222.4h.9v.9h-.9zM173.6 222.8h.9v.9h-.9zM177.8 220.3h.9v.9h-.9zM172.3 223.9h.9v.9h-.9zM177.1 222.0h.9v.9h-.9zM187.7 220.9h.9v.9h-.9zM175.1 222.8h.9v.9h-.9zM173.4 221.8h.9v.9h-.9zM179.1 218.1h.9v.9h-.9zM175.6 219.9h.9v.9h-.9zM183.0 218.2h.9v.9h-.9zM179.8 223.9h.9v.9h-.9zM183.6 225.9h.9v.9h-.9zM178.2 219.9h.9v.9h-.9zM176.5 220.1h.9v.9h-.9zM182.3 222.3h.9v.9h-.9zM181.7 222.4h.9v.9h-.9zM180.7 219.8h.9v.9h-.9zM176.4 222.7h.9v.9h-.9zM171.2 220.8h.9v.9h-.9zM179.3 221.0h.9v.9h-.9zM171.4 221.9h.9v.9h-.9zM174.5 222.3h.9v.9h-.9zM172.1 223.0h.9v.9h-.9zM178.3 223.0h.9v.9h-.9zM165.1 220.9h.9v.9h-.9zM172.2 221.7h.9v.9h-.9z"/>
<path fill="#c0c030" fill-opacity="0.9" d="M156.3 225.7h.9v.9h-.9zM155.6 223.6h.9v.9h-.9zM156.2 225.9h.9v.9h-.9zM156.9 224.4h.9v.9h-.9zM156.2 225.8h.9v.9h-.9zM161.2 224.2h.9v.9h-.9zM158.5 224.6h.9v.9h-.9zM157.0 225.1h.9v.9h-.9zM157.5 225.5h.9v.9h-.9zM160.4 224.4h.9v.9h-.9zM154.0 226.3h.9v.9h-.9zM156.0 224.1h.9v.9h-.9zM157.3 224.0h.9v.9h-.9zM157.1 224.5h.9v.9h-.9zM157.8 223.8h.9v.9h-.9zM155.2 224.5h.9v.9h-.9zM153.6 224.7h.9v.9h-.9zM152.0 223.5h.9v.9h-.9zM152.9 224.0h.9v.9h-.9zM158.0 225.9h.9v.9h-.9zM153.6 223.2h.9v.9h-.9zM155.3 225.6h.9v.9h-.9zM156.7 223.8h.9v.9h-.9zM154.1 226.1h.9v.9h-.9zM155.1 223.5h.9v.9h-.9zM159.0 224.7h.9v.9h-.9zM155.2 225.0h.9v.9h-.9zM155.6 224.9h.9v.9h-.9zM157.8 222.9h.9v.9h-.9zM158.6 224.2h.9v.9h-.9zM181.3 221.3h.9v.9h-.9zM178.1 221.4h.9v.9h-.9zM175.7 221.3h.9v.9h-.9zM176.6 222.2h.9v.9h-.9zM178.2 220.8h.9v.9h-.9zM181.3 221.4h.9v.9h-.9zM176.5 220.3h.9v.9h-.9zM179.0 221.9h.9v.9h-.9zM178.3 220.2h.9v.9h-.9zM177.2 220.9h.9v.9h-.9zM177.0 220.3h.9v.9h-.9zM182.4 221.1h.9v.9h-.9zM180.9 218.5h.9v.9h-.9zM182.0 220.6h.9v.9h-.9zM177.1 221.2h.9v.9h-.9zM178.1 220.2h.9v.9h-.9zM178.3 221.5h.9v.9h-.9zM176.0 220.2h.9v.9h-.9zM178.9 220.5h.9v.9h-.9zM179.6 222.3h.9v.9h-.9zM181.9 222.4h.9v.9h-.9zM181.5 220.5h.9v.9h-.9zM178.5 222.2h.9v.9h-.9zM179.0 220.2h.9v.9h-.9z"/>
<path fill="#8890cc" fill-opacity="0.55" d="M156.5 205.1h.9v.9h-.9zM171.2 205.9h.9v.9h-.9zM157.8 205.1h.9v.9h-.9zM168.5 206.2h.9v.9h-.9zM159.7 206.5h.9v.9h-.9zM168.2 214.5h.9v.9h-.9zM164.7 223.6h.9v.9h-.9zM164.2 221.0h.9v.9h-.9zM159.6 213.4h.9v.9h-.9zM156.7 208.5h.9v.9h-.9zM170.8 210.3h.9v.9h-.9zM166.3 213.1h.9v.9h-.9zM167.5 214.3h.9v.9h-.9zM156.2 209.8h.9v.9h-.9zM158.5 205.8h.9v.9h-.9zM165.9 203.7h.9v.9h-.9zM161.1 219.9h.9v.9h-.9zM166.4 211.2h.9v.9h-.9zM177.5 212.7h.9v.9h-.9zM149.6 208.4h.9v.9h-.9zM164.6 210.4h.9v.9h-.9zM162.8 209.9h.9v.9h-.9zM158.3 202.1h.9v.9h-.9zM151.5 217.5h.9v.9h-.9zM162.5 204.7h.9v.9h-.9zM161.0 213.4h.9v.9h-.9zM169.0 213.4h.9v.9h-.9zM157.6 210.0h.9v.9h-.9zM159.2 210.2h.9v.9h-.9zM158.7 217.6h.9v.9h-.9zM166.3 215.5h.9v.9h-.9zM170.7 218.3h.9v.9h-.9zM165.4 221.8h.9v.9h-.9zM176.4 204.2h.9v.9h-.9zM159.8 218.0h.9v.9h-.9zM177.5 216.2h.9v.9h-.9zM161.1 209.3h.9v.9h-.9zM163.7 212.4h.9v.9h-.9zM152.9 220.2h.9v.9h-.9zM163.2 206.2h.9v.9h-.9zM162.1 209.9h.9v.9h-.9zM155.5 209.2h.9v.9h-.9zM174.7 215.7h.9v.9h-.9zM150.0 196.8h.9v.9h-.9zM156.0 205.2h.9v.9h-.9zM166.9 214.6h.9v.9h-.9zM168.4 206.7h.9v.9h-.9zM157.1 206.3h.9v.9h-.9zM161.1 211.1h.9v.9h-.9zM162.6 213.7h.9v.9h-.9zM163.6 211.5h.9v.9h-.9zM162.5 194.2h.9v.9h-.9zM157.8 201.6h.9v.9h-.9zM164.9 220.0h.9v.9h-.9zM152.4 217.2h.9v.9h-.9zM162.2 214.8h.9v.9h-.9zM157.2 210.0h.9v.9h-.9zM161.2 218.6h.9v.9h-.9zM166.3 196.7h.9v.9h-.9zM158.3 206.7h.9v.9h-.9zM153.3 211.8h.9v.9h-.9zM149.6 204.4h.9v.9h-.9zM146.6 205.3h.9v.9h-.9zM154.8 211.3h.9v.9h-.9zM167.4 211.3h.9v.9h-.9zM160.8 210.6h.9v.9h-.9zM158.8 211.5h.9v.9h-.9zM160.3 220.9h.9v.9h-.9zM164.5 209.3h.9v.9h-.9zM155.4 207.5h.9v.9h-.9zM166.9 211.9h.9v.9h-.9zM155.1 209.4h.9v.9h-.9zM159.6 209.8h.9v.9h-.9zM155.0 206.1h.9v.9h-.9zM164.9 216.6h.9v.9h-.9zM174.3 206.3h.9v.9h-.9zM155.9 206.5h.9v.9h-.9zM161.7 205.1h.9v.9h-.9zM160.1 205.9h.9v.9h-.9zM151.8 207.8h.9v.9h-.9zM154.2 207.1h.9v.9h-.9zM157.2 213.6h.9v.9h-.9zM157.8 206.1h.9v.9h-.9zM155.8 212.3h.9v.9h-.9zM159.4 217.3h.9v.9h-.9zM164.8 208.3h.9v.9h-.9zM157.0 205.6h.9v.9h-.9zM155.5 205.0h.9v.9h-.9zM161.0 211.0h.9v.9h-.9zM156.6 215.1h.9v.9h-.9zM151.5 202.2h.9v.9h-.9zM156.6 204.5h.9v.9h-.9zM154.9 217.7h.9v.9h-.9zM171.0 218.1h.9v.9h-.9zM154.6 210.9h.9v.9h-.9zM158.9 204.7h.9v.9h-.9zM165.0 210.5h.9v.9h-.9zM169.8 213.2h.9v.9h-.9zM162.4 214.1h.9v.9h-.9zM169.7 210.5h.9v.9h-.9zM160.1 215.1h.9v.9h-.9zM162.5 214.3h.9v.9h-.9zM173.5 220.8h.9v.9h-.9zM161.2 205.9h.9v.9h-.9zM175.5 219.2h.9v.9h-.9zM164.0 209.1h.9v.9h-.9zM167.4 205.9h.9v.9h-.9zM168.7 210.0h.9v.9h-.9zM161.0 210.8h.9v.9h-.9zM157.5 208.8h.9v.9h-.9zM165.1 208.1h.9v.9h-.9zM166.1 207.5h.9v.9h-.9zM165.3 203.1h.9v.9h-.9zM169.5 207.9h.9v.9h-.9zM158.5 213.6h.9v.9h-.9zM162.0 212.9h.9v.9h-.9zM160.0 214.7h.9v.9h-.9zM162.1 210.0h.9v.9h-.9zM154.0 210.5h.9v.9h-.9zM167.2 217.0h.9v.9h-.9zM164.6 218.5h.9v.9h-.9zM168.2 219.5h.9v.9h-.9zM160.6 212.6h.9v.9h-.9zM164.3 213.3h.9v.9h-.9zM165.6 213.8h.9v.9h-.9zM167.9 209.7h.9v.9h-.9zM153.2 215.7h.9v.9h-.9zM164.2 211.5h.9v.9h-.9zM165.7 207.3h.9v.9h-.9zM163.6 213.4h.9v.9h-.9zM161.0 196.8h.9v.9h-.9zM153.5 215.2h.9v.9h-.9zM157.5 211.4h.9v.9h-.9zM159.4 214.7h.9v.9h-.9zM161.7 219.4h.9v.9h-.9zM167.2 213.2h.9v.9h-.9zM161.6 209.3h.9v.9h-.9zM170.5 209.0h.9v.9h-.9zM159.3 207.9h.9v.9h-.9zM165.4 219.8h.9v.9h-.9zM162.9 210.4h.9v.9h-.9zM163.5 207.5h.9v.9h-.9zM169.5 213.7h.9v.9h-.9zM172.0 215.9h.9v.9h-.9zM164.7 207.1h.9v.9h-.9zM166.5 215.3h.9v.9h-.9zM161.7 209.2h.9v.9h-.9zM160.8 208.1h.9v.9h-.9zM158.9 212.6h.9v.9h-.9zM168.8 213.6h.9v.9h-.9z"/>
<rect x="151.1" y="193.8" width="27.4" height="22.4" fill="none" stroke="#454545" stroke-width="0.6"/>
<polygon points="163.6,216.6 187.9,209.6 187.9,229.9 163.6,229.9" fill="none" stroke="#454545" stroke-width="0.6"/>
<rect x="148.8" y="216.2" width="14.8" height="21.7" fill="none" stroke="#454545" stroke-width="0.6"/>
<rect x="136.3" y="217.9" width="12.5" height="19.1" fill="none" stroke="#454545" stroke-width="0.6"/>
<text x="164.2" y="191.8" font-size="4.9" fill="#1a1a1a" text-anchor="middle">S</text>
<text x="153.3" y="198.9" font-size="4.6" fill="#1a1a1a" textLength="4.9" lengthAdjust="spacingAndGlyphs">3.6</text>
<text x="179.20000000000002" y="227.9" font-size="4.6" fill="#1a1a1a" textLength="6.6" lengthAdjust="spacingAndGlyphs">31.8</text>
<text x="171.8" y="234.6" font-size="4.6" fill="#1a1a1a" textLength="8.6" lengthAdjust="spacingAndGlyphs">G2M</text>
<text x="155.8" y="236.3" font-size="4.6" fill="#1a1a1a" textLength="6.6" lengthAdjust="spacingAndGlyphs">35.2</text>
<text x="149.6" y="242.6" font-size="4.6" fill="#1a1a1a" textLength="12.2" lengthAdjust="spacingAndGlyphs">G0/G1</text>
<text x="137.5" y="235.8" font-size="4.6" fill="#1a1a1a" textLength="6.6" lengthAdjust="spacingAndGlyphs">11.0</text>
<text x="130.0" y="216.6" font-size="4.6" fill="#1a1a1a" textLength="13.6" lengthAdjust="spacingAndGlyphs">Sub-G1</text>
<line x1="22.6" y1="186" x2="22.6" y2="193.4" stroke="#111" stroke-width="1.1"/>
<line x1="22.6" y1="231.2" x2="22.6" y2="248.3" stroke="#111" stroke-width="1.1"/>
<polygon points="22.6,181.6 20.1,187.8 25.1,187.8" fill="#000"/>
<text transform="translate(25.0,211.7) rotate(-90)" x="0" y="0" font-size="7.3" fill="#333" text-anchor="middle" font-weight="bold" textLength="35.5" lengthAdjust="spacingAndGlyphs">Click-iT EdU</text>
<line x1="47.7" y1="262.4" x2="83.8" y2="262.4" stroke="#111" stroke-width="1.1"/>
<line x1="138.8" y1="262.4" x2="176" y2="262.4" stroke="#111" stroke-width="1.1"/>
<polygon points="181,262.4 174.4,259.1 174.4,265.7" fill="#000"/>
<text x="86.9" y="264.6" font-size="8.0" fill="#2a2a2a" font-weight="bold" textLength="50.8" lengthAdjust="spacingAndGlyphs">FxCycle violet ready</text>
<line x1="244.6" y1="179.5" x2="244.6" y2="245.4" stroke="#111" stroke-width="1.1"/>
<line x1="242.3" y1="244.8" x2="244.6" y2="244.8" stroke="#111" stroke-width="0.9"/>
<text x="238.8" y="247.5" font-size="6.4" fill="#1a1a1a" text-anchor="end">0</text>
<line x1="242.3" y1="224.0" x2="244.6" y2="224.0" stroke="#111" stroke-width="0.9"/>
<text x="238.8" y="226.7" font-size="6.4" fill="#1a1a1a" text-anchor="end">20</text>
<line x1="242.3" y1="203.20000000000002" x2="244.6" y2="203.20000000000002" stroke="#111" stroke-width="0.9"/>
<text x="238.8" y="205.9" font-size="6.4" fill="#1a1a1a" text-anchor="end">40</text>
<line x1="242.3" y1="182.4" x2="244.6" y2="182.4" stroke="#111" stroke-width="0.9"/>
<text x="238.8" y="185.1" font-size="6.4" fill="#1a1a1a" text-anchor="end">60</text>
<line x1="244.0" y1="244.8" x2="326.5" y2="244.8" stroke="#111" stroke-width="1.2"/>
<line x1="254.6" y1="244.8" x2="254.6" y2="247.0" stroke="#111" stroke-width="0.9"/>
<rect x="248.30" y="239.08" width="5.90" height="5.72" fill="#a30b29"/>
<line x1="251.25" y1="239.08" x2="251.25" y2="237.52" stroke="#111" stroke-width="0.7"/>
<line x1="250.0" y1="237.52" x2="252.5" y2="237.52" stroke="#111" stroke-width="0.7"/>
<rect x="255.00" y="234.19" width="5.90" height="10.61" fill="#2c4a80"/>
<line x1="257.95" y1="234.192" x2="257.95" y2="232.94400000000002" stroke="#111" stroke-width="0.7"/>
<line x1="256.7" y1="232.94400000000002" x2="259.2" y2="232.94400000000002" stroke="#111" stroke-width="0.7"/>
<line x1="274.7" y1="244.8" x2="274.7" y2="247.0" stroke="#111" stroke-width="0.9"/>
<rect x="268.40" y="191.24" width="5.90" height="53.56" fill="#a30b29"/>
<line x1="271.34999999999997" y1="191.24" x2="271.34999999999997" y2="189.368" stroke="#111" stroke-width="0.7"/>
<line x1="270.09999999999997" y1="189.368" x2="272.59999999999997" y2="189.368" stroke="#111" stroke-width="0.7"/>
<rect x="275.10" y="208.40" width="5.90" height="36.40" fill="#2c4a80"/>
<line x1="278.05" y1="208.4" x2="278.05" y2="207.36" stroke="#111" stroke-width="0.7"/>
<line x1="276.8" y1="207.36" x2="279.3" y2="207.36" stroke="#111" stroke-width="0.7"/>
<line x1="295.4" y1="244.8" x2="295.4" y2="247.0" stroke="#111" stroke-width="0.9"/>
<rect x="289.10" y="228.16" width="5.90" height="16.64" fill="#a30b29"/>
<line x1="292.04999999999995" y1="228.16000000000003" x2="292.04999999999995" y2="225.24800000000002" stroke="#111" stroke-width="0.7"/>
<line x1="290.79999999999995" y1="225.24800000000002" x2="293.29999999999995" y2="225.24800000000002" stroke="#111" stroke-width="0.7"/>
<rect x="295.80" y="241.47" width="5.90" height="3.33" fill="#2c4a80"/>
<line x1="298.75" y1="241.472" x2="298.75" y2="239.80800000000002" stroke="#111" stroke-width="0.7"/>
<line x1="297.5" y1="239.80800000000002" x2="300.0" y2="239.80800000000002" stroke="#111" stroke-width="0.7"/>
<line x1="316" y1="244.8" x2="316" y2="247.0" stroke="#111" stroke-width="0.9"/>
<rect x="309.70" y="226.60" width="5.90" height="18.20" fill="#a30b29"/>
<line x1="312.65" y1="226.60000000000002" x2="312.65" y2="225.352" stroke="#111" stroke-width="0.7"/>
<line x1="311.4" y1="225.352" x2="313.9" y2="225.352" stroke="#111" stroke-width="0.7"/>
<rect x="316.40" y="212.56" width="5.90" height="32.24" fill="#2c4a80"/>
<line x1="319.35" y1="212.56" x2="319.35" y2="209.96" stroke="#111" stroke-width="0.7"/>
<line x1="318.1" y1="209.96" x2="320.6" y2="209.96" stroke="#111" stroke-width="0.7"/>
<line x1="248.9" y1="230.4" x2="261" y2="230.4" stroke="#111" stroke-width="0.8"/>
<text x="254.95" y="229.8" font-size="4.6" fill="#222" text-anchor="middle" letter-spacing="-0.2">****</text>
<line x1="270.5" y1="186.2" x2="280" y2="186.2" stroke="#111" stroke-width="0.8"/>
<text x="275.25" y="185.6" font-size="4.6" fill="#222" text-anchor="middle" letter-spacing="-0.2">****</text>
<line x1="291" y1="223.2" x2="300.7" y2="223.2" stroke="#111" stroke-width="0.8"/>
<text x="295.85" y="222.6" font-size="4.6" fill="#222" text-anchor="middle" letter-spacing="-0.2">****</text>
<line x1="310.7" y1="207.2" x2="320.6" y2="207.2" stroke="#111" stroke-width="0.8"/>
<text x="315.65" y="206.6" font-size="4.6" fill="#222" text-anchor="middle" letter-spacing="-0.2">****</text>
<text transform="translate(225.3,212.5) rotate(-90)" x="0" y="0" font-size="6.5" fill="#222" text-anchor="middle">%</text>
<text x="243.8" y="257.5" font-size="6.6" fill="#111" textLength="21.7" lengthAdjust="spacingAndGlyphs">Sub-G1</text>
<text x="268.8" y="257.5" font-size="6.6" fill="#111" textLength="19.2" lengthAdjust="spacingAndGlyphs">G0/G1</text>
<text x="294.5" y="257.5" font-size="6.6" fill="#111">S</text>
<text x="307.5" y="257.5" font-size="6.6" fill="#111" textLength="16.8" lengthAdjust="spacingAndGlyphs">G2/M</text>
<rect x="253.80" y="261.30" width="6.20" height="6.20" fill="#a30b29"/>
<text x="263" y="266.5" font-size="5.8" fill="#111" textLength="17.5" lengthAdjust="spacingAndGlyphs">Control</text>
<rect x="283.00" y="261.30" width="6.20" height="6.20" fill="#2c4a80"/>
<text x="291.8" y="266.5" font-size="5.8" fill="#111" textLength="25.7" lengthAdjust="spacingAndGlyphs">Talazoparib</text>
<defs><radialGradient id="nuc"><stop offset="0" stop-color="#1a1754"/><stop offset="0.75" stop-color="#161446"/><stop offset="1" stop-color="#100e30" stop-opacity="0"/></radialGradient><radialGradient id="nuc2"><stop offset="0" stop-color="#3e3ac0"/><stop offset="0.65" stop-color="#302ca0"/><stop offset="1" stop-color="#201c60" stop-opacity="0"/></radialGradient><radialGradient id="ov"><stop offset="0" stop-color="#8884d0"/><stop offset="0.7" stop-color="#8480c4"/><stop offset="1" stop-color="#8e8e9e" stop-opacity="0"/></radialGradient><radialGradient id="ov2"><stop offset="0" stop-color="#7aa0f0"/><stop offset="0.6" stop-color="#7a78d8"/><stop offset="1" stop-color="#8e8e9e" stop-opacity="0"/></radialGradient><linearGradient id="bfg" x1="0" y1="0" x2="1" y2="1"><stop offset="0" stop-color="#a9a9a9"/><stop offset="1" stop-color="#a2a2a2"/></linearGradient></defs>
<text x="387.6" y="164.9" font-size="6.5" fill="#111" text-anchor="middle" textLength="26.2" lengthAdjust="spacingAndGlyphs">brightfield</text>
<text x="439.0" y="164.9" font-size="6.5" fill="#111" text-anchor="middle" textLength="46.5" lengthAdjust="spacingAndGlyphs">Hoechst 33258</text>
<text x="489.5" y="164.9" font-size="6.5" fill="#111" text-anchor="middle" textLength="19.2" lengthAdjust="spacingAndGlyphs">overlay</text>
<text transform="translate(359.8,192.3) rotate(-90)" x="0" y="0" font-size="6.4" fill="#111" text-anchor="middle" textLength="18.3" lengthAdjust="spacingAndGlyphs">control</text>
<text transform="translate(359.8,243.5) rotate(-90)" x="0" y="0" font-size="6.4" fill="#111" text-anchor="middle" textLength="30.1" lengthAdjust="spacingAndGlyphs">talazoparib</text>
<rect x="364.00" y="169.30" width="47.50" height="47.20" fill="url(#bfg)"/>
<clipPath id="cp0"><rect x="364.0" y="169.3" width="47.5" height="47.2"/></clipPath><g clip-path="url(#cp0)">
<circle cx="383.6" cy="180.7" r="5" fill="#a9a9a9" stroke="#979797" stroke-width="0.5" stroke-opacity="0.6"/>
<circle cx="397.3" cy="179.7" r="6" fill="#a9a9a9" stroke="#979797" stroke-width="0.5" stroke-opacity="0.6"/>
<circle cx="396.3" cy="198.4" r="8" fill="#a9a9a9" stroke="#979797" stroke-width="0.5" stroke-opacity="0.6"/>
<circle cx="372.8" cy="207.2" r="5" fill="#a9a9a9" stroke="#979797" stroke-width="0.5" stroke-opacity="0.6"/>
<circle cx="396.3" cy="212.5" r="5" fill="#a9a9a9" stroke="#979797" stroke-width="0.5" stroke-opacity="0.6"/>
</g>
<rect x="414.60" y="169.30" width="47.50" height="47.20" fill="#06040f"/>
<circle cx="432.2" cy="180.7" r="4.6" fill="url(#nuc)"/>
<circle cx="431.2" cy="183.8" r="0.55" fill="#2a2680" fill-opacity="0.45"/>
<circle cx="434.6" cy="179.1" r="0.55" fill="#2a2680" fill-opacity="0.45"/>
<circle cx="429.5" cy="180.5" r="0.55" fill="#2a2680" fill-opacity="0.45"/>
<circle cx="431.0" cy="182.7" r="0.55" fill="#2a2680" fill-opacity="0.45"/>
<circle cx="430.1" cy="180.0" r="0.55" fill="#2a2680" fill-opacity="0.45"/>
<circle cx="429.3" cy="181.8" r="0.55" fill="#2a2680" fill-opacity="0.45"/>
<circle cx="435.1" cy="180.5" r="0.55" fill="#2a2680" fill-opacity="0.45"/>
<circle cx="433.4" cy="179.2" r="0.55" fill="#2a2680" fill-opacity="0.45"/>
<circle cx="433.6" cy="181.4" r="0.55" fill="#2a2680" fill-opacity="0.45"/>
<circle cx="429.2" cy="180.7" r="0.55" fill="#2a2680" fill-opacity="0.45"/>
<circle cx="431.9" cy="177.5" r="0.55" fill="#2a2680" fill-opacity="0.45"/>
<circle cx="432.5" cy="178.9" r="0.55" fill="#2a2680" fill-opacity="0.45"/>
<circle cx="434.4" cy="181.5" r="0.55" fill="#2a2680" fill-opacity="0.45"/>
<circle cx="430.7" cy="183.5" r="0.55" fill="#2a2680" fill-opacity="0.45"/>
<circle cx="447.9" cy="179.7" r="5.5" fill="url(#nuc)"/>
<circle cx="450.4" cy="178.0" r="0.55" fill="#2a2680" fill-opacity="0.45"/>
<circle cx="448.4" cy="176.3" r="0.55" fill="#2a2680" fill-opacity="0.45"/>
<circle cx="445.2" cy="179.4" r="0.55" fill="#2a2680" fill-opacity="0.45"/>
<circle cx="451.4" cy="178.6" r="0.55" fill="#2a2680" fill-opacity="0.45"/>
<circle cx="444.2" cy="177.9" r="0.55" fill="#2a2680" fill-opacity="0.45"/>
<circle cx="450.0" cy="182.6" r="0.55" fill="#2a2680" fill-opacity="0.45"/>
<circle cx="445.7" cy="179.0" r="0.55" fill="#2a2680" fill-opacity="0.45"/>
<circle cx="450.1" cy="181.9" r="0.55" fill="#2a2680" fill-opacity="0.45"/>
<circle cx="449.1" cy="178.4" r="0.55" fill="#2a2680" fill-opacity="0.45"/>
<circle cx="451.2" cy="177.3" r="0.55" fill="#2a2680" fill-opacity="0.45"/>
<circle cx="448.9" cy="182.5" r="0.55" fill="#2a2680" fill-opacity="0.45"/>
<circle cx="445.5" cy="179.9" r="0.55" fill="#2a2680" fill-opacity="0.45"/>
<circle cx="449.4" cy="181.1" r="0.55" fill="#2a2680" fill-opacity="0.45"/>
<circle cx="451.4" cy="178.4" r="0.55" fill="#2a2680" fill-opacity="0.45"/>
<circle cx="450.6" cy="178.8" r="0.55" fill="#2a2680" fill-opacity="0.45"/>
<circle cx="446.9" cy="179.7" r="0.55" fill="#2a2680" fill-opacity="0.45"/>
<circle cx="445.1" cy="181.1" r="0.55" fill="#2a2680" fill-opacity="0.45"/>
<circle cx="448.9" cy="179.7" r="0.55" fill="#2a2680" fill-opacity="0.45"/>
<circle cx="447.4" cy="179.0" r="0.55" fill="#2a2680" fill-opacity="0.45"/>
<circle cx="449.7" cy="179.4" r="0.55" fill="#2a2680" fill-opacity="0.45"/>
<circle cx="448.9" cy="198.4" r="7.5" fill="url(#nuc)"/>
<circle cx="447.4" cy="194.3" r="0.55" fill="#2a2680" fill-opacity="0.45"/>
<circle cx="449.9" cy="202.0" r="0.55" fill="#2a2680" fill-opacity="0.45"/>
<circle cx="446.8" cy="199.5" r="0.55" fill="#2a2680" fill-opacity="0.45"/>
<circle cx="447.8" cy="199.2" r="0.55" fill="#2a2680" fill-opacity="0.45"/>
<circle cx="447.5" cy="193.1" r="0.55" fill="#2a2680" fill-opacity="0.45"/>
<circle cx="445.5" cy="197.5" r="0.55" fill="#2a2680" fill-opacity="0.45"/>
<circle cx="446.8" cy="198.2" r="0.55" fill="#2a2680" fill-opacity="0.45"/>
<circle cx="448.6" cy="193.8" r="0.55" fill="#2a2680" fill-opacity="0.45"/>
<circle cx="451.6" cy="200.5" r="0.55" fill="#2a2680" fill-opacity="0.45"/>
<circle cx="452.2" cy="201.6" r="0.55" fill="#2a2680" fill-opacity="0.45"/>
<circle cx="454.0" cy="198.9" r="0.55" fill="#2a2680" fill-opacity="0.45"/>
<circle cx="453.5" cy="200.4" r="0.55" fill="#2a2680" fill-opacity="0.45"/>
<circle cx="450.3" cy="202.2" r="0.55" fill="#2a2680" fill-opacity="0.45"/>
<circle cx="447.6" cy="193.2" r="0.55" fill="#2a2680" fill-opacity="0.45"/>
<circle cx="450.4" cy="196.9" r="0.55" fill="#2a2680" fill-opacity="0.45"/>
<circle cx="448.1" cy="194.9" r="0.55" fill="#2a2680" fill-opacity="0.45"/>
<circle cx="450.8" cy="201.7" r="0.55" fill="#2a2680" fill-opacity="0.45"/>
<circle cx="449.6" cy="198.1" r="0.55" fill="#2a2680" fill-opacity="0.45"/>
<circle cx="447.6" cy="194.5" r="0.55" fill="#2a2680" fill-opacity="0.45"/>
<circle cx="451.7" cy="195.8" r="0.55" fill="#2a2680" fill-opacity="0.45"/>
<circle cx="448.9" cy="203.5" r="0.55" fill="#2a2680" fill-opacity="0.45"/>
<circle cx="452.5" cy="201.3" r="0.55" fill="#2a2680" fill-opacity="0.45"/>
<circle cx="448.6" cy="199.6" r="0.55" fill="#2a2680" fill-opacity="0.45"/>
<circle cx="451.4" cy="202.8" r="0.55" fill="#2a2680" fill-opacity="0.45"/>
<circle cx="451.8" cy="202.8" r="0.55" fill="#2a2680" fill-opacity="0.45"/>
<circle cx="452.1" cy="202.7" r="0.55" fill="#2a2680" fill-opacity="0.45"/>
<circle cx="453.1" cy="199.9" r="0.55" fill="#2a2680" fill-opacity="0.45"/>
<circle cx="444.7" cy="197.5" r="0.55" fill="#2a2680" fill-opacity="0.45"/>
<circle cx="451.2" cy="197.2" r="0.55" fill="#2a2680" fill-opacity="0.45"/>
<circle cx="453.1" cy="198.2" r="0.55" fill="#2a2680" fill-opacity="0.45"/>
<circle cx="449.9" cy="195.8" r="0.55" fill="#2a2680" fill-opacity="0.45"/>
<circle cx="453.6" cy="198.3" r="0.55" fill="#2a2680" fill-opacity="0.45"/>
<circle cx="446.4" cy="198.9" r="0.55" fill="#2a2680" fill-opacity="0.45"/>
<circle cx="451.9" cy="195.5" r="0.55" fill="#2a2680" fill-opacity="0.45"/>
<circle cx="454.1" cy="198.1" r="0.55" fill="#2a2680" fill-opacity="0.45"/>
<circle cx="448.9" cy="193.7" r="0.55" fill="#2a2680" fill-opacity="0.45"/>
<circle cx="451.4" cy="202.8" r="0.55" fill="#2a2680" fill-opacity="0.45"/>
<circle cx="448.5" cy="196.7" r="0.55" fill="#2a2680" fill-opacity="0.45"/>
<circle cx="423.4" cy="207.2" r="5.2" fill="url(#nuc)"/>
<circle cx="424.5" cy="207.7" r="0.55" fill="#2a2680" fill-opacity="0.45"/>
<circle cx="424.0" cy="210.5" r="0.55" fill="#2a2680" fill-opacity="0.45"/>
<circle cx="423.7" cy="204.0" r="0.55" fill="#2a2680" fill-opacity="0.45"/>
<circle cx="420.9" cy="209.9" r="0.55" fill="#2a2680" fill-opacity="0.45"/>
<circle cx="424.5" cy="208.7" r="0.55" fill="#2a2680" fill-opacity="0.45"/>
<circle cx="421.6" cy="207.9" r="0.55" fill="#2a2680" fill-opacity="0.45"/>
<circle cx="423.1" cy="203.7" r="0.55" fill="#2a2680" fill-opacity="0.45"/>
<circle cx="423.3" cy="205.0" r="0.55" fill="#2a2680" fill-opacity="0.45"/>
<circle cx="421.5" cy="206.2" r="0.55" fill="#2a2680" fill-opacity="0.45"/>
<circle cx="420.7" cy="206.4" r="0.55" fill="#2a2680" fill-opacity="0.45"/>
<circle cx="425.4" cy="210.1" r="0.55" fill="#2a2680" fill-opacity="0.45"/>
<circle cx="424.7" cy="204.1" r="0.55" fill="#2a2680" fill-opacity="0.45"/>
<circle cx="425.0" cy="208.2" r="0.55" fill="#2a2680" fill-opacity="0.45"/>
<circle cx="423.4" cy="203.8" r="0.55" fill="#2a2680" fill-opacity="0.45"/>
<circle cx="420.7" cy="204.7" r="0.55" fill="#2a2680" fill-opacity="0.45"/>
<circle cx="421.8" cy="208.0" r="0.55" fill="#2a2680" fill-opacity="0.45"/>
<circle cx="421.3" cy="207.5" r="0.55" fill="#2a2680" fill-opacity="0.45"/>
<circle cx="420.9" cy="209.5" r="0.55" fill="#2a2680" fill-opacity="0.45"/>
<rect x="465.60" y="169.30" width="47.50" height="47.20" fill="#8f8f8f"/>
<circle cx="483.2" cy="180.7" r="4.8" fill="url(#ov)"/>
<circle cx="498.9" cy="179.7" r="5.8" fill="url(#ov)"/>
<circle cx="499.9" cy="198.4" r="7.8" fill="url(#ov)"/>
<circle cx="474.4" cy="207.2" r="5.4" fill="url(#ov)"/>
<rect x="364.00" y="219.80" width="47.50" height="47.20" fill="url(#bfg)"/>
<clipPath id="cp1"><rect x="364.0" y="219.8" width="47.5" height="47.2"/></clipPath><g clip-path="url(#cp1)">
<circle cx="378.7" cy="226.8" r="4.2" fill="#acacac" stroke="#747474" stroke-width="0.55" stroke-opacity="0.8"/>
<circle cx="378.3" cy="226.4" r="3.5" fill="none" stroke="#c8c8c8" stroke-width="0.4" stroke-opacity="0.7"/>
<circle cx="381.6" cy="238.6" r="4.5" fill="#acacac" stroke="#747474" stroke-width="0.55" stroke-opacity="0.8"/>
<circle cx="381.2" cy="238.2" r="3.8" fill="none" stroke="#c8c8c8" stroke-width="0.4" stroke-opacity="0.7"/>
<circle cx="391.4" cy="237.6" r="4.5" fill="#acacac" stroke="#747474" stroke-width="0.55" stroke-opacity="0.8"/>
<circle cx="391.0" cy="237.2" r="3.8" fill="none" stroke="#c8c8c8" stroke-width="0.4" stroke-opacity="0.7"/>
<circle cx="387.5" cy="242.5" r="4.0" fill="#acacac" stroke="#747474" stroke-width="0.55" stroke-opacity="0.8"/>
<circle cx="387.1" cy="242.1" r="3.3" fill="none" stroke="#c8c8c8" stroke-width="0.4" stroke-opacity="0.7"/>
<circle cx="383.6" cy="251.3" r="4.5" fill="#acacac" stroke="#747474" stroke-width="0.55" stroke-opacity="0.8"/>
<circle cx="383.2" cy="250.9" r="3.8" fill="none" stroke="#c8c8c8" stroke-width="0.4" stroke-opacity="0.7"/>
<circle cx="397.3" cy="259.2" r="4.5" fill="#acacac" stroke="#747474" stroke-width="0.55" stroke-opacity="0.8"/>
<circle cx="396.9" cy="258.8" r="3.8" fill="none" stroke="#c8c8c8" stroke-width="0.4" stroke-opacity="0.7"/>
</g>
<rect x="414.60" y="219.80" width="47.50" height="47.20" fill="#06040f"/>
<circle cx="432.2" cy="225.8" r="3.8" fill="url(#nuc2)"/>
<circle cx="432.6" cy="239.6" r="4.3" fill="url(#nuc2)"/>
<circle cx="444.0" cy="236.6" r="3.6" fill="url(#nuc2)"/>
<circle cx="436.7" cy="252.3" r="3.7" fill="url(#nuc2)"/>
<circle cx="447.5" cy="259.2" r="3.4" fill="url(#nuc2)"/>
<rect x="465.60" y="219.80" width="47.50" height="47.20" fill="#8f8f8f"/>
<circle cx="483.2" cy="225.8" r="4.0" fill="url(#ov2)"/>
<circle cx="483.6" cy="239.6" r="4.4" fill="url(#ov2)"/>
<circle cx="495.0" cy="236.6" r="3.7" fill="url(#ov2)"/>
<circle cx="487.7" cy="252.3" r="3.8" fill="url(#ov2)"/>
<circle cx="498.5" cy="259.2" r="3.6" fill="url(#ov2)"/>
<text x="50.7" y="322.2" font-size="6.4" fill="#111" text-anchor="middle" textLength="16.6" lengthAdjust="spacingAndGlyphs">MBL2</text>
<text x="50.7" y="330.2" font-size="6.4" fill="#111" text-anchor="middle" textLength="33.2" lengthAdjust="spacingAndGlyphs">implantation</text>
<text x="26.6" y="345.6" font-size="6.6" fill="#111" text-anchor="middle" textLength="26" lengthAdjust="spacingAndGlyphs">C57BL/6</text>
<text x="54.4" y="344.8" font-size="4.8" fill="#111">1)</text>
<text x="61.5" y="344.8" font-size="4.8" fill="#111" textLength="12.8" lengthAdjust="spacingAndGlyphs">DNFB</text>
<text x="54.4" y="351.1" font-size="4.8" fill="#111">2)</text>
<text x="61.5" y="351.1" font-size="4.8" fill="#111" textLength="29.3" lengthAdjust="spacingAndGlyphs">Ear injection</text>
<path d="M17.0,359.3 C14,359.5 12.4,361 13.3,362.3 C14.6,363.9 19,364.9 24.2,365.4" fill="none" stroke="#444" stroke-width="0.5"/>
<path d="M17.4,360.5 C15.6,358.5 15.8,354.2 18.5,351.7 C20.5,349.9 24,349.4 27,350.1 C31,351 35,353 38,355.5 C40,357.3 41.6,358.8 42.6,360.0 C39,361.3 34,361.6 29,361.5 C24,361.4 19.5,361.2 17.4,360.5 Z" fill="#4b5268" stroke="#161a24" stroke-width="0.8"/>
<circle cx="35.1" cy="353.2" r="1.9" fill="#4b5268" stroke="#161a24" stroke-width="0.8"/>
<path d="M39.5,359.2 L43.2,358.2 M39.8,360.2 L42.0,362.3 M38.8,360.6 L39.6,362.8" stroke="#222" stroke-width="0.35"/>
<line x1="51.4" y1="337.4" x2="51.4" y2="362.5" stroke="#111" stroke-width="1.1"/>
<polygon points="51.4,368.2 48.6,361.5 54.2,361.5" fill="#000"/>
<line x1="45.9" y1="371.0" x2="182.7" y2="371.0" stroke="#111" stroke-width="1.2"/>
<line x1="45.9" y1="369.5" x2="45.9" y2="372.5" stroke="#111" stroke-width="0.9"/>
<line x1="182.7" y1="369.5" x2="182.7" y2="372.5" stroke="#111" stroke-width="0.9"/>
<text x="126.5" y="310.9" font-size="6.4" fill="#111" text-anchor="middle" textLength="21" lengthAdjust="spacingAndGlyphs">PBS IP</text>
<text x="126.1" y="318.9" font-size="6.4" fill="#111" text-anchor="middle" textLength="38.4" lengthAdjust="spacingAndGlyphs">Talazoparib IP</text>
<line x1="102.4" y1="326.2" x2="102.4" y2="362.6" stroke="#111" stroke-width="1.1"/>
<polygon points="102.4,368.4 99.60000000000001,361.6 105.2,361.6" fill="#000"/>
<line x1="110.32000000000001" y1="326.2" x2="110.32000000000001" y2="362.6" stroke="#111" stroke-width="1.1"/>
<polygon points="110.32000000000001,368.4 107.52000000000001,361.6 113.12,361.6" fill="#000"/>
<line x1="118.24000000000001" y1="326.2" x2="118.24000000000001" y2="362.6" stroke="#111" stroke-width="1.1"/>
<polygon points="118.24000000000001,368.4 115.44000000000001,361.6 121.04,361.6" fill="#000"/>
<line x1="126.16" y1="326.2" x2="126.16" y2="362.6" stroke="#111" stroke-width="1.1"/>
<polygon points="126.16,368.4 123.36,361.6 128.96,361.6" fill="#000"/>
<line x1="134.08" y1="326.2" x2="134.08" y2="362.6" stroke="#111" stroke-width="1.1"/>
<polygon points="134.08,368.4 131.28,361.6 136.88000000000002,361.6" fill="#000"/>
<line x1="142.0" y1="326.2" x2="142.0" y2="362.6" stroke="#111" stroke-width="1.1"/>
<polygon points="142.0,368.4 139.2,361.6 144.8,361.6" fill="#000"/>
<line x1="149.92000000000002" y1="326.2" x2="149.92000000000002" y2="362.6" stroke="#111" stroke-width="1.1"/>
<polygon points="149.92000000000002,368.4 147.12,361.6 152.72000000000003,361.6" fill="#000"/>
<text x="160.5" y="363.7" font-size="6.4" fill="#111" textLength="37.9" lengthAdjust="spacingAndGlyphs">Harvest tissue</text>
<text x="44.2" y="382.9" font-size="6.4" fill="#111" textLength="15.8" lengthAdjust="spacingAndGlyphs">Day 0</text>
<text x="85.4" y="384.6" font-size="6.4" fill="#111" textLength="20.2" lengthAdjust="spacingAndGlyphs">Day 14</text>
<text x="140.8" y="384.9" font-size="6.4" fill="#111" textLength="19.2" lengthAdjust="spacingAndGlyphs">Day 21</text>
<text x="168.6" y="384.9" font-size="6.4" fill="#111" textLength="19.0" lengthAdjust="spacingAndGlyphs">Day 24</text>
<line x1="252.3" y1="304.1" x2="252.3" y2="383.8" stroke="#111" stroke-width="1.1"/>
<line x1="251.7" y1="383.2" x2="295.4" y2="383.2" stroke="#111" stroke-width="1.2"/>
<line x1="249.9" y1="383.2" x2="252.3" y2="383.2" stroke="#111" stroke-width="0.9"/>
<text x="246.5" y="385.4" font-size="6.4" fill="#1a1a1a" text-anchor="end">0.0</text>
<line x1="249.9" y1="367.9" x2="252.3" y2="367.9" stroke="#111" stroke-width="0.9"/>
<text x="246.5" y="370.09999999999997" font-size="6.4" fill="#1a1a1a" text-anchor="end">0.1</text>
<line x1="249.9" y1="352.59999999999997" x2="252.3" y2="352.59999999999997" stroke="#111" stroke-width="0.9"/>
<text x="246.5" y="354.79999999999995" font-size="6.4" fill="#1a1a1a" text-anchor="end">0.2</text>
<line x1="249.9" y1="337.3" x2="252.3" y2="337.3" stroke="#111" stroke-width="0.9"/>
<text x="246.5" y="339.5" font-size="6.4" fill="#1a1a1a" text-anchor="end">0.3</text>
<line x1="249.9" y1="322.0" x2="252.3" y2="322.0" stroke="#111" stroke-width="0.9"/>
<text x="246.5" y="324.2" font-size="6.4" fill="#1a1a1a" text-anchor="end">0.4</text>
<line x1="249.9" y1="306.7" x2="252.3" y2="306.7" stroke="#111" stroke-width="0.9"/>
<text x="246.5" y="308.9" font-size="6.4" fill="#1a1a1a" text-anchor="end">0.5</text>
<line x1="264.7" y1="383.2" x2="264.7" y2="385.8" stroke="#111" stroke-width="0.9"/>
<line x1="283.3" y1="383.2" x2="283.3" y2="385.8" stroke="#111" stroke-width="0.9"/>
<g transform="translate(232.6,372.1) rotate(-90)"><text x="0" y="0" font-size="9.2" font-weight="bold" fill="#333" textLength="55.2" lengthAdjust="spacingAndGlyphs">Tumor thickness, mm</text><text x="55.6" y="-3.7" font-size="5.2" font-weight="bold" fill="#1a1a1a">2</text></g>
<line x1="265" y1="305.8" x2="283.1" y2="305.8" stroke="#111" stroke-width="0.9"/>
<text x="274.2" y="305.0" font-size="5.0" fill="#222" text-anchor="middle" letter-spacing="-0.4">***</text>
<line x1="259.0" y1="323.5" x2="271.0" y2="323.5" stroke="#111" stroke-width="0.9"/>
<line x1="265.0" y1="314.6" x2="265.0" y2="332.0" stroke="#111" stroke-width="0.8"/>
<line x1="262.2" y1="314.6" x2="267.8" y2="314.6" stroke="#111" stroke-width="0.8"/>
<line x1="262.2" y1="332.0" x2="267.8" y2="332.0" stroke="#111" stroke-width="0.8"/>
<circle cx="264.7" cy="311.5" r="1.45" fill="#a30b29"/>
<circle cx="262.8" cy="320.3" r="1.45" fill="#a30b29"/>
<circle cx="267.5" cy="322" r="1.45" fill="#a30b29"/>
<circle cx="262.8" cy="332.4" r="1.45" fill="#a30b29"/>
<circle cx="267.1" cy="331.7" r="1.45" fill="#a30b29"/>
<line x1="265.0" y1="314.6" x2="265.0" y2="332.0" stroke="#111" stroke-width="0.8"/>
<line x1="259.0" y1="323.5" x2="271.0" y2="323.5" stroke="#111" stroke-width="0.9"/>
<circle cx="283.3" cy="339.1" r="1.45" fill="#a30b29"/>
<circle cx="278.9" cy="347.3" r="1.45" fill="#a30b29"/>
<circle cx="287.8" cy="346.3" r="1.45" fill="#a30b29"/>
<circle cx="281.8" cy="351.5" r="1.45" fill="#a30b29"/>
<circle cx="285.2" cy="351.5" r="1.45" fill="#a30b29"/>
<line x1="278.0" y1="346.9" x2="289.4" y2="346.9" stroke="#111" stroke-width="0.9"/>
<line x1="283.3" y1="342.1" x2="283.3" y2="351.6" stroke="#111" stroke-width="0.8"/>
<line x1="280.6" y1="342.1" x2="286.0" y2="342.1" stroke="#111" stroke-width="0.8"/>
<line x1="280.6" y1="351.6" x2="286.0" y2="351.6" stroke="#111" stroke-width="0.8"/>
<text transform="translate(261.6,396.3) rotate(-45)" x="0" y="0" font-size="6.0" fill="#222" text-anchor="middle" textLength="14.5" lengthAdjust="spacingAndGlyphs">PBS</text>
<text transform="translate(273.6,402.7) rotate(-45)" x="0" y="0" font-size="6.0" fill="#222" text-anchor="middle" textLength="33.5" lengthAdjust="spacingAndGlyphs">Talazoparib</text>
<line x1="352.1" y1="304.6" x2="352.1" y2="383.7" stroke="#111" stroke-width="1.1"/>
<line x1="351.5" y1="383.1" x2="402.9" y2="383.1" stroke="#111" stroke-width="1.2"/>
<line x1="349.7" y1="383.1" x2="352.1" y2="383.1" stroke="#111" stroke-width="0.9"/>
<text x="346.5" y="385.3" font-size="6.4" fill="#1a1a1a" text-anchor="end">0</text>
<line x1="349.7" y1="364.1" x2="352.1" y2="364.1" stroke="#111" stroke-width="0.9"/>
<text x="346.5" y="366.3" font-size="6.4" fill="#1a1a1a" text-anchor="end">10</text>
<line x1="349.7" y1="345.1" x2="352.1" y2="345.1" stroke="#111" stroke-width="0.9"/>
<text x="346.5" y="347.3" font-size="6.4" fill="#1a1a1a" text-anchor="end">20</text>
<line x1="349.7" y1="326.1" x2="352.1" y2="326.1" stroke="#111" stroke-width="0.9"/>
<text x="346.5" y="328.3" font-size="6.4" fill="#1a1a1a" text-anchor="end">30</text>
<line x1="349.7" y1="307.1" x2="352.1" y2="307.1" stroke="#111" stroke-width="0.9"/>
<text x="346.5" y="309.3" font-size="6.4" fill="#1a1a1a" text-anchor="end">40</text>
<line x1="366.7" y1="383.1" x2="366.7" y2="385.6" stroke="#111" stroke-width="0.9"/>
<line x1="388.6" y1="383.1" x2="388.6" y2="385.6" stroke="#111" stroke-width="0.9"/>
<rect x="360.00" y="328.95" width="13.40" height="54.15" fill="#a30b29"/>
<rect x="382.00" y="347.38" width="13.20" height="35.72" fill="#a30b29"/>
<line x1="366.7" y1="328.95000000000005" x2="366.7" y2="317.4" stroke="#111" stroke-width="0.8"/>
<line x1="362.8" y1="317.4" x2="370.4" y2="317.4" stroke="#111" stroke-width="0.8"/>
<line x1="388.6" y1="347.38" x2="388.6" y2="337.3" stroke="#111" stroke-width="0.8"/>
<line x1="385.0" y1="337.3" x2="392.0" y2="337.3" stroke="#111" stroke-width="0.8"/>
<line x1="367.5" y1="313.2" x2="388.8" y2="313.2" stroke="#111" stroke-width="0.9"/>
<text x="377.8" y="312.3" font-size="4.5" fill="#222" text-anchor="middle">*</text>
<g transform="translate(333.0,362.8) rotate(-90)"><text x="0" y="0" font-size="8.7" font-weight="bold" fill="#333" textLength="36" lengthAdjust="spacingAndGlyphs">Diameter, mm</text><text x="36.4" y="-3.7" font-size="5.2" font-weight="bold" fill="#1a1a1a">2</text></g>
<text transform="translate(364.7,396.5) rotate(-45)" x="0" y="0" font-size="6.0" fill="#222" text-anchor="middle" textLength="14.5" lengthAdjust="spacingAndGlyphs">PBS</text>
<text transform="translate(376.2,402.9) rotate(-45)" x="0" y="0" font-size="6.0" fill="#222" text-anchor="middle" textLength="33.5" lengthAdjust="spacingAndGlyphs">Talazoparib</text>
<defs><linearGradient id="k1" x1="0" y1="0" x2="0" y2="1"><stop offset="0" stop-color="#3a9cc8"/><stop offset="0.1" stop-color="#42a2c4"/><stop offset="0.5" stop-color="#5eb8bc"/><stop offset="1" stop-color="#7ecac0"/></linearGradient><linearGradient id="k2" x1="0" y1="0" x2="1" y2="0.4"><stop offset="0" stop-color="#86c2b0"/><stop offset="0.35" stop-color="#a4d6c8"/><stop offset="1" stop-color="#b6e0d6"/></linearGradient><radialGradient id="tum" cx="0.45" cy="0.4" r="0.62"><stop offset="0" stop-color="#e8866a"/><stop offset="0.55" stop-color="#da6a4c"/><stop offset="0.85" stop-color="#c85848"/><stop offset="1" stop-color="#a05868"/></radialGradient><radialGradient id="tumR" cx="0.45" cy="0.4" r="0.62"><stop offset="0" stop-color="#e49070"/><stop offset="0.6" stop-color="#d87058"/><stop offset="1" stop-color="#a86070"/></radialGradient><radialGradient id="tumL" cx="0.35" cy="0.55" r="0.65"><stop offset="0" stop-color="#f8d0b0"/><stop offset="0.5" stop-color="#eeaa84"/><stop offset="0.85" stop-color="#e28e6e"/><stop offset="1" stop-color="#d88474"/></radialGradient><radialGradient id="tumS" cx="0.4" cy="0.4" r="0.62"><stop offset="0" stop-color="#d86040"/><stop offset="0.6" stop-color="#b83e26"/><stop offset="1" stop-color="#8a2a18"/></radialGradient></defs>
<rect x="428.20" y="301.00" width="80.80" height="47.20" fill="url(#k1)"/>
<line x1="433.8" y1="306.3" x2="433.8" y2="348.2" stroke="#1d4c5a" stroke-width="0.8"/>
<line x1="452.5" y1="306.3" x2="452.5" y2="348.2" stroke="#1d4c5a" stroke-width="0.8"/>
<line x1="471.5" y1="306.3" x2="471.5" y2="348.2" stroke="#1d4c5a" stroke-width="0.8"/>
<line x1="490.1" y1="306.3" x2="490.1" y2="348.2" stroke="#1d4c5a" stroke-width="0.8"/>
<line x1="508.0" y1="306.3" x2="508.0" y2="348.2" stroke="#1d4c5a" stroke-width="0.8"/>
<line x1="428.2" y1="306.3" x2="509" y2="306.3" stroke="#1d4c5a" stroke-width="0.8"/>
<line x1="428.2" y1="325.0" x2="509" y2="325.0" stroke="#1d4c5a" stroke-width="0.8"/>
<line x1="428.2" y1="343.4" x2="509" y2="343.4" stroke="#1d4c5a" stroke-width="0.8"/>
<path d="M491.5,312.5 C495,310 502,309.8 506,311 C508,311.8 509,313 509,314 L509,329 C505,331.5 499,331.8 494.5,330 C491,328 489.5,322 489.8,317 C490,315 490.5,313.5 491.5,312.5 Z" fill="url(#tumR)"/>
<path d="M457,310.5 C463,306.5 476,306 485,307.8 C491,309 493.5,314 493,321 C492.5,327 488,331.5 478,333.2 C470,334.6 461,334.6 457.5,332.2 C454.5,329.5 454,322 454.5,317 C454.8,314 455.5,311.8 457,310.5 Z" fill="url(#tum)"/>
<ellipse cx="458.5" cy="311" rx="3.4" ry="3.2" fill="#b8503a"/>
<path d="M437.5,314.5 C440,311 446,310 450,312.5 C452.5,314 454,316.5 455.5,319 C457.5,323 457.5,330 455,334.5 C452.5,337.5 447,338 442.5,337.5 C438,337 434.5,333 432,329 C430.2,326 430.5,321 432.5,318.5 C434,316.5 435.8,315.5 437.5,314.5 Z" fill="url(#tumL)"/>
<ellipse cx="444" cy="313" rx="5" ry="2.5" fill="#a8907a" fill-opacity="0.55"/>
<defs><filter id="tb" x="-10%" y="-10%" width="120%" height="120%"><feGaussianBlur stdDeviation="0.7"/></filter><clipPath id="tcp"><path d="M457,310.5 C463,306.5 476,306 485,307.8 C491,309 493.5,314 493,321 C492.5,327 488,331.5 478,333.2 C470,334.6 461,334.6 457.5,332.2 C454.5,329.5 454,322 454.5,317 C454.8,314 455.5,311.8 457,310.5 Z M491.5,312.5 C495,310 502,309.8 506,311 C508,311.8 509,313 509,314 L509,329 C505,331.5 499,331.8 494.5,330 C491,328 489.5,322 489.8,317 C490,315 490.5,313.5 491.5,312.5 Z M437.5,314.5 C440,311 446,310 450,312.5 C452.5,314 454,316.5 455.5,319 C457.5,323 457.5,330 455,334.5 C452.5,337.5 447,338 442.5,337.5 C438,337 434.5,333 432,329 C430.2,326 430.5,321 432.5,318.5 C434,316.5 435.8,315.5 437.5,314.5 Z"/></clipPath></defs>
<g clip-path="url(#tcp)"><g filter="url(#tb)"><ellipse cx="472.5" cy="322.4" rx="1.4" ry="1.3" fill="#f0a080" fill-opacity="0.45"/><ellipse cx="464.1" cy="328.3" rx="1.7" ry="1.2" fill="#f0a080" fill-opacity="0.45"/><ellipse cx="461.0" cy="316.3" rx="1.6" ry="1.3" fill="#c03a30" fill-opacity="0.45"/><ellipse cx="478.3" cy="323.3" rx="2.2" ry="1.1" fill="#f0a080" fill-opacity="0.45"/><ellipse cx="477.7" cy="312.8" rx="2.0" ry="0.6" fill="#c03a30" fill-opacity="0.45"/><ellipse cx="459.1" cy="330.1" rx="0.8" ry="0.9" fill="#d04838" fill-opacity="0.45"/><ellipse cx="472.1" cy="329.2" rx="1.1" ry="0.8" fill="#d04838" fill-opacity="0.45"/><ellipse cx="458.1" cy="311.0" rx="1.4" ry="1.0" fill="#b83028" fill-opacity="0.45"/><ellipse cx="487.8" cy="311.0" rx="1.2" ry="0.7" fill="#b83028" fill-opacity="0.45"/><ellipse cx="467.2" cy="310.7" rx="1.4" ry="1.3" fill="#c03a30" fill-opacity="0.45"/><ellipse cx="470.4" cy="332.0" rx="1.1" ry="1.3" fill="#c03a30" fill-opacity="0.45"/><ellipse cx="459.7" cy="318.0" rx="1.4" ry="1.0" fill="#f0a080" fill-opacity="0.45"/><ellipse cx="464.4" cy="325.2" rx="0.9" ry="0.8" fill="#b83028" fill-opacity="0.45"/><ellipse cx="488.9" cy="327.2" rx="1.0" ry="1.1" fill="#c03a30" fill-opacity="0.45"/><ellipse cx="458.4" cy="320.2" rx="1.0" ry="1.0" fill="#f0a080" fill-opacity="0.45"/><ellipse cx="472.3" cy="313.6" rx="1.4" ry="0.8" fill="#e89070" fill-opacity="0.45"/><ellipse cx="470.6" cy="332.8" rx="1.2" ry="1.4" fill="#c03a30" fill-opacity="0.45"/><ellipse cx="483.7" cy="316.3" rx="1.1" ry="0.9" fill="#c03a30" fill-opacity="0.45"/><ellipse cx="485.3" cy="324.4" rx="0.9" ry="0.6" fill="#c03a30" fill-opacity="0.45"/><ellipse cx="472.1" cy="309.2" rx="1.3" ry="0.8" fill="#d04838" fill-opacity="0.45"/><ellipse cx="460.3" cy="311.2" rx="1.7" ry="0.5" fill="#d04838" fill-opacity="0.45"/><ellipse cx="469.8" cy="323.9" rx="2.1" ry="0.9" fill="#e89070" fill-opacity="0.45"/><ellipse cx="476.4" cy="329.8" rx="1.7" ry="0.8" fill="#e89070" fill-opacity="0.45"/><ellipse cx="465.3" cy="323.7" rx="1.0" ry="1.1" fill="#e89070" fill-opacity="0.45"/><ellipse cx="475.7" cy="325.5" rx="2.0" ry="1.0" fill="#f0a080" fill-opacity="0.45"/><ellipse cx="471.5" cy="311.5" rx="1.5" ry="0.7" fill="#c03a30" fill-opacity="0.45"/><ellipse cx="481.7" cy="318.4" rx="2.0" ry="1.0" fill="#f0a080" fill-opacity="0.45"/><ellipse cx="467.4" cy="313.2" rx="1.0" ry="0.9" fill="#c03a30" fill-opacity="0.45"/><ellipse cx="478.9" cy="323.8" rx="1.2" ry="1.3" fill="#c03a30" fill-opacity="0.45"/><ellipse cx="464.5" cy="309.4" rx="1.4" ry="0.7" fill="#b83028" fill-opacity="0.45"/><ellipse cx="459.5" cy="315.8" rx="1.6" ry="0.6" fill="#d04838" fill-opacity="0.45"/><ellipse cx="469.6" cy="330.4" rx="1.7" ry="1.1" fill="#b83028" fill-opacity="0.45"/><ellipse cx="476.7" cy="312.4" rx="2.1" ry="0.9" fill="#c03a30" fill-opacity="0.45"/><ellipse cx="469.4" cy="316.5" rx="0.8" ry="1.1" fill="#c03a30" fill-opacity="0.45"/><ellipse cx="473.4" cy="326.5" rx="1.0" ry="0.6" fill="#b83028" fill-opacity="0.45"/><ellipse cx="472.5" cy="317.8" rx="2.1" ry="1.2" fill="#c03a30" fill-opacity="0.45"/><ellipse cx="480.5" cy="328.0" rx="1.3" ry="1.1" fill="#b83028" fill-opacity="0.45"/><ellipse cx="486.8" cy="329.9" rx="2.1" ry="0.5" fill="#f0a080" fill-opacity="0.45"/><ellipse cx="474.0" cy="309.3" rx="1.3" ry="0.5" fill="#f0a080" fill-opacity="0.45"/><ellipse cx="460.3" cy="311.2" rx="2.2" ry="1.3" fill="#c03a30" fill-opacity="0.45"/><ellipse cx="481.3" cy="318.3" rx="1.4" ry="0.9" fill="#d04838" fill-opacity="0.45"/><ellipse cx="475.3" cy="321.4" rx="0.8" ry="1.0" fill="#d04838" fill-opacity="0.45"/><ellipse cx="473.4" cy="314.5" rx="1.5" ry="1.1" fill="#c03a30" fill-opacity="0.45"/><ellipse cx="487.5" cy="315.1" rx="1.3" ry="0.6" fill="#c03a30" fill-opacity="0.45"/><ellipse cx="477.6" cy="321.4" rx="1.7" ry="0.9" fill="#b83028" fill-opacity="0.45"/><ellipse cx="486.5" cy="316.8" rx="1.1" ry="0.9" fill="#b83028" fill-opacity="0.45"/><ellipse cx="483.8" cy="330.9" rx="1.3" ry="1.0" fill="#e89070" fill-opacity="0.45"/><ellipse cx="468.1" cy="312.3" rx="1.3" ry="1.3" fill="#f0a080" fill-opacity="0.45"/><ellipse cx="459.3" cy="310.5" rx="2.0" ry="0.6" fill="#b83028" fill-opacity="0.45"/><ellipse cx="473.1" cy="331.2" rx="1.3" ry="1.0" fill="#f0a080" fill-opacity="0.45"/><ellipse cx="479.5" cy="326.2" rx="1.4" ry="0.6" fill="#d04838" fill-opacity="0.45"/><ellipse cx="459.0" cy="329.9" rx="1.7" ry="0.8" fill="#c03a30" fill-opacity="0.45"/><ellipse cx="469.3" cy="324.6" rx="0.8" ry="0.6" fill="#d04838" fill-opacity="0.45"/><ellipse cx="472.6" cy="309.6" rx="1.1" ry="0.6" fill="#b83028" fill-opacity="0.45"/><ellipse cx="459.5" cy="324.1" rx="1.0" ry="1.0" fill="#f0a080" fill-opacity="0.45"/><ellipse cx="478.5" cy="317.8" rx="1.8" ry="0.7" fill="#c03a30" fill-opacity="0.45"/><ellipse cx="473.2" cy="313.3" rx="1.9" ry="1.0" fill="#c03a30" fill-opacity="0.45"/><ellipse cx="459.2" cy="314.4" rx="1.6" ry="1.4" fill="#b83028" fill-opacity="0.45"/><ellipse cx="474.0" cy="332.9" rx="1.4" ry="1.2" fill="#e89070" fill-opacity="0.45"/><ellipse cx="487.0" cy="311.1" rx="1.0" ry="0.9" fill="#f0a080" fill-opacity="0.45"/><ellipse cx="501.4" cy="327.5" rx="1.5" ry="1.0" fill="#c05050" fill-opacity="0.45"/><ellipse cx="499.5" cy="325.9" rx="1.4" ry="1.0" fill="#c05050" fill-opacity="0.45"/><ellipse cx="495.1" cy="324.3" rx="1.9" ry="0.6" fill="#f0b0a0" fill-opacity="0.45"/><ellipse cx="495.6" cy="318.6" rx="2.0" ry="0.9" fill="#e8a090" fill-opacity="0.45"/><ellipse cx="503.9" cy="317.4" rx="1.8" ry="0.8" fill="#f0b0a0" fill-opacity="0.45"/><ellipse cx="493.2" cy="319.5" rx="1.3" ry="0.7" fill="#f0b0a0" fill-opacity="0.45"/><ellipse cx="505.8" cy="315.7" rx="1.3" ry="0.5" fill="#e8a090" fill-opacity="0.45"/><ellipse cx="500.0" cy="323.7" rx="1.4" ry="1.3" fill="#e8a090" fill-opacity="0.45"/><ellipse cx="505.5" cy="320.8" rx="1.6" ry="1.3" fill="#f0b0a0" fill-opacity="0.45"/><ellipse cx="499.4" cy="328.1" rx="1.7" ry="0.9" fill="#e8a090" fill-opacity="0.45"/><ellipse cx="500.4" cy="326.1" rx="1.6" ry="0.9" fill="#f0b0a0" fill-opacity="0.45"/><ellipse cx="504.7" cy="321.5" rx="1.6" ry="1.3" fill="#c05050" fill-opacity="0.45"/><ellipse cx="505.1" cy="322.4" rx="1.8" ry="1.3" fill="#c05050" fill-opacity="0.45"/><ellipse cx="499.9" cy="321.7" rx="1.3" ry="0.6" fill="#e8a090" fill-opacity="0.45"/><ellipse cx="492.1" cy="318.4" rx="2.0" ry="0.9" fill="#f0b0a0" fill-opacity="0.45"/><ellipse cx="498.0" cy="325.6" rx="0.9" ry="0.6" fill="#f0b0a0" fill-opacity="0.45"/><ellipse cx="494.5" cy="327.8" rx="1.3" ry="1.3" fill="#c05050" fill-opacity="0.45"/><ellipse cx="505.9" cy="316.6" rx="1.4" ry="0.8" fill="#c05050" fill-opacity="0.45"/><ellipse cx="505.5" cy="327.9" rx="1.4" ry="0.6" fill="#c05050" fill-opacity="0.45"/><ellipse cx="498.3" cy="312.5" rx="1.0" ry="1.1" fill="#c05050" fill-opacity="0.45"/><ellipse cx="492.3" cy="315.3" rx="0.8" ry="0.7" fill="#e8a090" fill-opacity="0.45"/><ellipse cx="502.9" cy="316.2" rx="0.9" ry="1.1" fill="#c05050" fill-opacity="0.45"/><ellipse cx="493.8" cy="320.7" rx="1.7" ry="1.1" fill="#c05050" fill-opacity="0.45"/><ellipse cx="505.2" cy="312.4" rx="1.3" ry="0.9" fill="#f0b0a0" fill-opacity="0.45"/><ellipse cx="494.4" cy="315.5" rx="1.4" ry="0.7" fill="#f0b0a0" fill-opacity="0.45"/><ellipse cx="438.3" cy="325.9" rx="1.1" ry="1.1" fill="#e08860" fill-opacity="0.5"/><ellipse cx="450.2" cy="333.1" rx="1.5" ry="1.2" fill="#f4c090" fill-opacity="0.5"/><ellipse cx="437.9" cy="330.6" rx="1.9" ry="0.6" fill="#e08860" fill-opacity="0.5"/><ellipse cx="438.8" cy="329.5" rx="1.3" ry="0.8" fill="#f4c090" fill-opacity="0.5"/><ellipse cx="452.8" cy="325.9" rx="1.0" ry="1.0" fill="#e08860" fill-opacity="0.5"/><ellipse cx="450.0" cy="316.9" rx="1.9" ry="1.3" fill="#f4c090" fill-opacity="0.5"/><ellipse cx="436.3" cy="325.1" rx="1.4" ry="1.0" fill="#f4c090" fill-opacity="0.5"/><ellipse cx="437.8" cy="316.4" rx="0.8" ry="1.1" fill="#fad8b8" fill-opacity="0.5"/><ellipse cx="446.3" cy="333.1" rx="1.0" ry="0.6" fill="#d87860" fill-opacity="0.5"/><ellipse cx="438.1" cy="331.8" rx="1.9" ry="0.6" fill="#f4c090" fill-opacity="0.5"/><ellipse cx="435.2" cy="334.0" rx="0.9" ry="0.6" fill="#d87860" fill-opacity="0.5"/><ellipse cx="441.8" cy="323.5" rx="1.3" ry="1.0" fill="#f4c090" fill-opacity="0.5"/><ellipse cx="434.3" cy="329.0" rx="1.0" ry="0.9" fill="#e08860" fill-opacity="0.5"/><ellipse cx="448.8" cy="323.1" rx="1.5" ry="0.6" fill="#e08860" fill-opacity="0.5"/><ellipse cx="449.8" cy="321.5" rx="1.8" ry="1.1" fill="#fad8b8" fill-opacity="0.5"/><ellipse cx="451.2" cy="327.6" rx="1.5" ry="0.7" fill="#d87860" fill-opacity="0.5"/><ellipse cx="445.7" cy="321.8" rx="1.1" ry="0.6" fill="#f4c090" fill-opacity="0.5"/><ellipse cx="448.9" cy="318.2" rx="1.0" ry="0.8" fill="#d87860" fill-opacity="0.5"/><ellipse cx="444.8" cy="322.4" rx="1.7" ry="0.8" fill="#d87860" fill-opacity="0.5"/><ellipse cx="448.5" cy="316.4" rx="1.2" ry="0.6" fill="#f4c090" fill-opacity="0.5"/><ellipse cx="451.8" cy="334.8" rx="1.1" ry="1.3" fill="#fad8b8" fill-opacity="0.5"/><ellipse cx="447.3" cy="321.8" rx="1.5" ry="0.9" fill="#d87860" fill-opacity="0.5"/><ellipse cx="441.8" cy="335.0" rx="1.6" ry="1.1" fill="#e08860" fill-opacity="0.5"/><ellipse cx="453.6" cy="315.5" rx="1.7" ry="0.7" fill="#fad8b8" fill-opacity="0.5"/><ellipse cx="442.0" cy="316.0" rx="1.6" ry="0.5" fill="#e08860" fill-opacity="0.5"/><ellipse cx="439.2" cy="320.5" rx="1.5" ry="0.9" fill="#f4c090" fill-opacity="0.5"/><ellipse cx="453.3" cy="326.4" rx="1.6" ry="1.1" fill="#fad8b8" fill-opacity="0.5"/><ellipse cx="435.5" cy="327.0" rx="1.3" ry="1.3" fill="#fad8b8" fill-opacity="0.5"/><ellipse cx="441.7" cy="334.4" rx="1.5" ry="1.0" fill="#d87860" fill-opacity="0.5"/><ellipse cx="442.6" cy="324.9" rx="1.4" ry="1.0" fill="#f4c090" fill-opacity="0.5"/></g></g>
<path d="M459,332.5 C465,334.5 475,334.5 482,332.6 C487,331 490,329 491.5,326.5 C492,330 488,333.5 480,334.8 C470,336 462,335.5 459,332.5 Z" fill="#8a7aa8" fill-opacity="0.5"/>
<path d="M493,328 C497,330.5 503,331 508.8,329 L508.8,331 C503,332.8 496,332.2 493,328 Z" fill="#7a6a98" fill-opacity="0.55"/>
<text x="437.6" y="344.9" font-size="6.6" fill="#0a1418" font-weight="bold" textLength="13" lengthAdjust="spacingAndGlyphs">PBS</text>
<rect x="427.50" y="352.10" width="81.90" height="44.70" fill="url(#k2)"/>
<line x1="431.6" y1="355.7" x2="431.6" y2="396.8" stroke="#48483a" stroke-width="0.85"/>
<line x1="451.3" y1="355.7" x2="451.3" y2="396.8" stroke="#48483a" stroke-width="0.85"/>
<line x1="470.8" y1="355.7" x2="470.8" y2="396.8" stroke="#48483a" stroke-width="0.85"/>
<line x1="490.3" y1="355.7" x2="490.3" y2="396.8" stroke="#48483a" stroke-width="0.85"/>
<line x1="431.6" y1="355.7" x2="509.4" y2="355.7" stroke="#48483a" stroke-width="0.85"/>
<line x1="431.6" y1="375.4" x2="509.4" y2="375.4" stroke="#48483a" stroke-width="0.85"/>
<line x1="431.6" y1="395.2" x2="509.4" y2="395.2" stroke="#48483a" stroke-width="0.85"/>
<ellipse cx="441.7" cy="366.3" rx="3.0" ry="4.1" fill="url(#tumS)"/>
<ellipse cx="458.6" cy="366.4" rx="3.2" ry="3.8" fill="url(#tumS)"/>
<path d="M443.8,363 L445.5,362 M461,363.5 L462.5,362.3" stroke="#c8b040" stroke-width="0.5"/>
<text x="437.0" y="386.9" font-size="6.7" fill="#0e1a1e" textLength="30.2" lengthAdjust="spacingAndGlyphs">Talazoparib</text>
<rect x="0" y="0" width="520" height="1" fill="#000"/>
<rect x="0" y="0" width="1" height="421" fill="#000"/>
<rect x="519" y="0" width="1" height="421" fill="#000"/>
<rect x="518" y="0" width="1" height="421" fill="#000" fill-opacity="0.22"/>
<rect x="0" y="420" width="520" height="1" fill="#000"/>
<rect x="0" y="419" width="520" height="1" fill="#000" fill-opacity="0.4"/>
</svg>
</body></html>
